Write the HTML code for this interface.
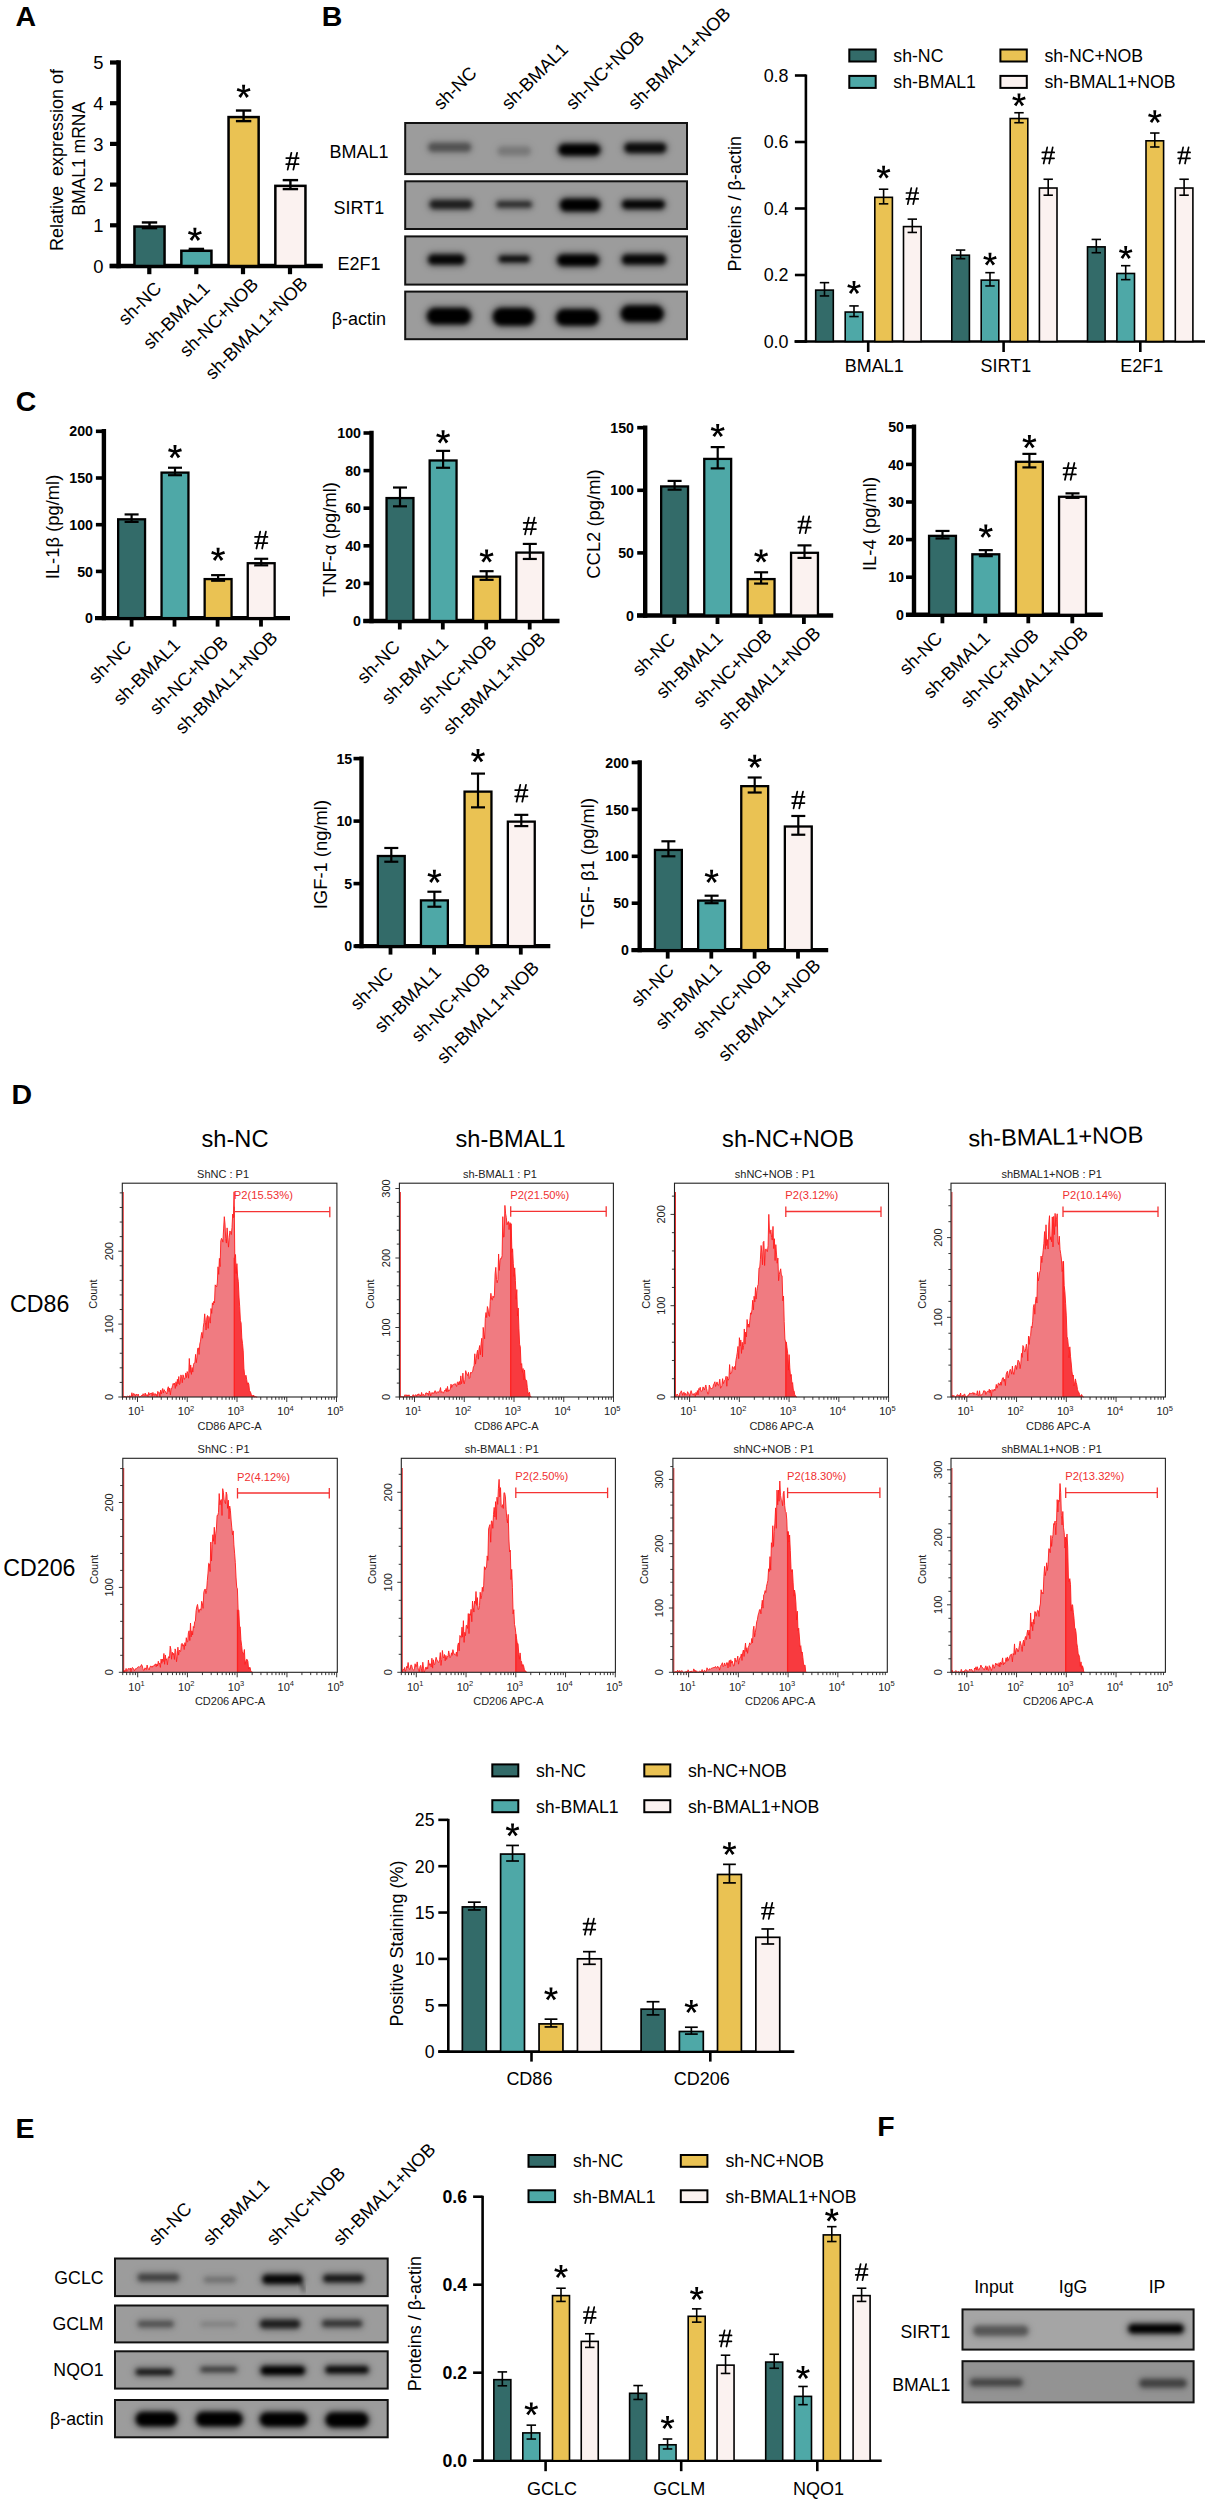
<!DOCTYPE html>
<html><head><meta charset="utf-8"><title>Figure</title><style>html,body{margin:0;padding:0;background:#fff;width:1208px;height:2500px;overflow:hidden;}svg{display:block;font-family:"Liberation Sans",sans-serif;}</style></head><body>
<svg width="1208" height="2500" viewBox="0 0 1208 2500" font-family="'Liberation Sans', sans-serif">
<rect width="1208" height="2500" fill="#fff"/>
<defs><filter id="b2" x="-30%" y="-80%" width="160%" height="260%"><feGaussianBlur stdDeviation="1.9"/></filter><filter id="b3" x="-30%" y="-80%" width="160%" height="260%"><feGaussianBlur stdDeviation="3"/></filter><filter id="bn" x="0" y="0" width="100%" height="100%"><feTurbulence type="fractalNoise" baseFrequency="0.08" numOctaves="2" seed="3"/><feColorMatrix values="0 0 0 0 0.5  0 0 0 0 0.5  0 0 0 0 0.5  0 0 0 0.18 0"/></filter></defs>
<text x="15.4" y="26.3" font-size="28.5" text-anchor="start" fill="#000" font-weight="bold" >A</text>
<line x1="118.6" y1="60.2" x2="118.6" y2="268.3" stroke="#000" stroke-width="4.6" />
<line x1="109.5" y1="266" x2="322.8" y2="266" stroke="#000" stroke-width="4.6" />
<line x1="110" y1="266" x2="118.6" y2="266" stroke="#000" stroke-width="4.2" />
<text x="103.6" y="272.6" font-size="18.4" text-anchor="end" fill="#000" >0</text>
<line x1="110" y1="225.3" x2="118.6" y2="225.3" stroke="#000" stroke-width="4.2" />
<text x="103.6" y="231.9" font-size="18.4" text-anchor="end" fill="#000" >1</text>
<line x1="110" y1="184.6" x2="118.6" y2="184.6" stroke="#000" stroke-width="4.2" />
<text x="103.6" y="191.2" font-size="18.4" text-anchor="end" fill="#000" >2</text>
<line x1="110" y1="143.9" x2="118.6" y2="143.9" stroke="#000" stroke-width="4.2" />
<text x="103.6" y="150.5" font-size="18.4" text-anchor="end" fill="#000" >3</text>
<line x1="110" y1="103.2" x2="118.6" y2="103.2" stroke="#000" stroke-width="4.2" />
<text x="103.6" y="109.8" font-size="18.4" text-anchor="end" fill="#000" >4</text>
<line x1="110" y1="62.5" x2="118.6" y2="62.5" stroke="#000" stroke-width="4.2" />
<text x="103.6" y="69.1" font-size="18.4" text-anchor="end" fill="#000" >5</text>
<rect x="134.45" y="226.55" width="30.1" height="39.45" fill="#336b69" stroke="#000" stroke-width="2.5" />
<line x1="149.5" y1="222.45" x2="149.5" y2="228.15" stroke="#000" stroke-width="2.4" />
<line x1="141.8" y1="222.45" x2="157.2" y2="222.45" stroke="#000" stroke-width="2.4" />
<line x1="141.8" y1="228.15" x2="157.2" y2="228.15" stroke="#000" stroke-width="2.4" />
<rect x="181.35" y="250.77" width="30.1" height="15.23" fill="#4ea8a7" stroke="#000" stroke-width="2.5" />
<line x1="196.4" y1="248.91" x2="196.4" y2="250.13" stroke="#000" stroke-width="2.4" />
<line x1="188.7" y1="248.91" x2="204.1" y2="248.91" stroke="#000" stroke-width="2.4" />
<line x1="188.7" y1="250.13" x2="204.1" y2="250.13" stroke="#000" stroke-width="2.4" />
<path d="M195.88,234.49L196.45,227.69L193.35,227.69L193.92,234.49ZM195.2,235.42L201.84,233.86L200.89,230.92L194.6,233.56ZM195.2,233.56L188.91,230.92L187.96,233.86L194.6,235.42ZM194.11,235.07L197.65,240.9L200.15,239.08L195.69,233.91ZM194.11,233.91L189.65,239.08L192.15,240.9L195.69,235.07Z" fill="#000"/>
<circle cx="194.9" cy="234.49" r="1.49" fill="#000"/>
<rect x="228.55" y="117.07" width="30.1" height="148.93" fill="#eac253" stroke="#000" stroke-width="2.5" />
<line x1="243.6" y1="110.53" x2="243.6" y2="121.11" stroke="#000" stroke-width="2.4" />
<line x1="235.9" y1="110.53" x2="251.3" y2="110.53" stroke="#000" stroke-width="2.4" />
<line x1="235.9" y1="121.11" x2="251.3" y2="121.11" stroke="#000" stroke-width="2.4" />
<path d="M244.58,91.49L245.15,84.69L242.05,84.69L242.62,91.49ZM243.9,92.42L250.54,90.86L249.59,87.92L243.3,90.56ZM243.9,90.56L237.61,87.92L236.66,90.86L243.3,92.42ZM242.81,92.07L246.35,97.9L248.85,96.08L244.39,90.91ZM242.81,90.91L238.35,96.08L240.85,97.9L244.39,92.07Z" fill="#000"/>
<circle cx="243.6" cy="91.49" r="1.49" fill="#000"/>
<rect x="275.35" y="185.85" width="30.1" height="80.15" fill="#fbf2f0" stroke="#000" stroke-width="2.5" />
<line x1="290.4" y1="180.12" x2="290.4" y2="189.08" stroke="#000" stroke-width="2.4" />
<line x1="282.7" y1="180.12" x2="298.1" y2="180.12" stroke="#000" stroke-width="2.4" />
<line x1="282.7" y1="189.08" x2="298.1" y2="189.08" stroke="#000" stroke-width="2.4" />
<path d="M291.39,152.8L287.66,169.6M297.1,152.8L293.35,169.6M286.25,158L298.65,158M286.25,164.2L298.55,164.2" stroke="#000" stroke-width="1.75" stroke-linecap="round" fill="none"/>
<line x1="149.3" y1="267.8" x2="149.3" y2="274.2" stroke="#000" stroke-width="4.2" />
<line x1="196.3" y1="267.8" x2="196.3" y2="274.2" stroke="#000" stroke-width="4.2" />
<line x1="243" y1="267.8" x2="243" y2="274.2" stroke="#000" stroke-width="4.2" />
<line x1="290" y1="267.8" x2="290" y2="274.2" stroke="#000" stroke-width="4.2" />
<text transform="translate(63.3,160) rotate(-90)" font-size="18" text-anchor="middle" fill="#000" >Relative&#160;&#160;expression of</text>
<text transform="translate(84.6,158.8) rotate(-90)" font-size="17.5" text-anchor="middle" fill="#000" >BMAL1 mRNA</text>
<text transform="translate(162.5,289.5) rotate(-45)" font-size="18.3" text-anchor="end" fill="#000" >sh-NC</text>
<text transform="translate(210.9,289.8) rotate(-45)" font-size="18.3" text-anchor="end" fill="#000" >sh-BMAL1</text>
<text transform="translate(259.3,285.7) rotate(-45)" font-size="18.3" text-anchor="end" fill="#000" >sh-NC+NOB</text>
<text transform="translate(308.6,284.5) rotate(-45)" font-size="18.3" text-anchor="end" fill="#000" >sh-BMAL1+NOB</text>
<text x="321.8" y="25.8" font-size="28.5" text-anchor="start" fill="#000" font-weight="bold" >B</text>
<rect x="405.2" y="123" width="281.8" height="51.1" fill="#9c9c9c" stroke="none" stroke-width="0" />
<g clip-path="url(#clipB122)">
<clipPath id="clipB122"><rect x="405" y="123" width="282" height="51.1"/></clipPath>
</g>
<rect x="405.2" y="181.3" width="281.8" height="47.7" fill="#9c9c9c" stroke="none" stroke-width="0" />
<g clip-path="url(#clipB180)">
<clipPath id="clipB180"><rect x="405" y="181.3" width="282" height="47.7"/></clipPath>
</g>
<rect x="405.2" y="236.4" width="281.8" height="48.2" fill="#9c9c9c" stroke="none" stroke-width="0" />
<g clip-path="url(#clipB235)">
<clipPath id="clipB235"><rect x="405" y="236.4" width="282" height="48.2"/></clipPath>
</g>
<rect x="405.2" y="291.6" width="281.8" height="47.6" fill="#9c9c9c" stroke="none" stroke-width="0" />
<g clip-path="url(#clipB290)">
<clipPath id="clipB290"><rect x="405" y="291.6" width="282" height="47.6"/></clipPath>
</g>
<rect x="425.35" y="139.8" width="48.7" height="15" rx="7.5" fill="#000" fill-opacity="0.12" filter="url(#b3)"/>
<rect x="428.35" y="142.8" width="42.7" height="9" rx="4.5" fill="#000" fill-opacity="0.4" filter="url(#b2)"/>
<rect x="494.7" y="143.5" width="39" height="15" rx="7.5" fill="#000" fill-opacity="0.05" filter="url(#b3)"/>
<rect x="497.7" y="146.5" width="33" height="9" rx="4.5" fill="#000" fill-opacity="0.18" filter="url(#b2)"/>
<rect x="555.65" y="141.1" width="47.5" height="17.4" rx="8.7" fill="#000" fill-opacity="0.3" filter="url(#b3)"/>
<rect x="558.65" y="144.1" width="41.5" height="11.4" rx="5.7" fill="#000" fill-opacity="1" filter="url(#b2)"/>
<rect x="621.55" y="139.9" width="47.5" height="16" rx="8" fill="#000" fill-opacity="0.27" filter="url(#b3)"/>
<rect x="624.55" y="142.9" width="41.5" height="10" rx="5" fill="#000" fill-opacity="0.9" filter="url(#b2)"/>
<rect x="426.65" y="196.9" width="48.7" height="15" rx="7.5" fill="#000" fill-opacity="0.22" filter="url(#b3)"/>
<rect x="429.65" y="199.9" width="42.7" height="9" rx="4.5" fill="#000" fill-opacity="0.75" filter="url(#b2)"/>
<rect x="493.7" y="198.2" width="41" height="12.4" rx="6.2" fill="#000" fill-opacity="0.2" filter="url(#b3)"/>
<rect x="496.7" y="201.2" width="35" height="6.4" rx="3.2" fill="#000" fill-opacity="0.65" filter="url(#b2)"/>
<rect x="557" y="195.7" width="46" height="18.6" rx="9.3" fill="#000" fill-opacity="0.3" filter="url(#b3)"/>
<rect x="560" y="198.7" width="40" height="12.6" rx="6.3" fill="#000" fill-opacity="1" filter="url(#b2)"/>
<rect x="619.05" y="196.9" width="48.7" height="15" rx="7.5" fill="#000" fill-opacity="0.28" filter="url(#b3)"/>
<rect x="622.05" y="199.9" width="42.7" height="9" rx="4.5" fill="#000" fill-opacity="0.95" filter="url(#b2)"/>
<rect x="425.25" y="251.6" width="42.5" height="16" rx="8" fill="#000" fill-opacity="0.28" filter="url(#b3)"/>
<rect x="428.25" y="254.6" width="36.5" height="10" rx="5" fill="#000" fill-opacity="0.95" filter="url(#b2)"/>
<rect x="496" y="252.75" width="36.4" height="12.5" rx="6.25" fill="#000" fill-opacity="0.27" filter="url(#b3)"/>
<rect x="499" y="255.75" width="30.4" height="6.5" rx="3.25" fill="#000" fill-opacity="0.9" filter="url(#b2)"/>
<rect x="554.35" y="251.45" width="47.5" height="17.5" rx="8.75" fill="#000" fill-opacity="0.3" filter="url(#b3)"/>
<rect x="557.35" y="254.45" width="41.5" height="11.5" rx="5.75" fill="#000" fill-opacity="1" filter="url(#b2)"/>
<rect x="619" y="251.6" width="50" height="16" rx="8" fill="#000" fill-opacity="0.28" filter="url(#b3)"/>
<rect x="622" y="254.6" width="44" height="10" rx="5" fill="#000" fill-opacity="0.95" filter="url(#b2)"/>
<rect x="424" y="305.05" width="50" height="22.3" rx="11.15" fill="#000" fill-opacity="0.3" filter="url(#b3)"/>
<rect x="427" y="308.05" width="44" height="16.3" rx="8.15" fill="#000" fill-opacity="1" filter="url(#b2)"/>
<rect x="489.9" y="305.05" width="47.4" height="23.5" rx="11.75" fill="#000" fill-opacity="0.3" filter="url(#b3)"/>
<rect x="492.9" y="308.05" width="41.4" height="17.5" rx="8.75" fill="#000" fill-opacity="1" filter="url(#b2)"/>
<rect x="553.15" y="306.25" width="48.7" height="22.3" rx="11.15" fill="#000" fill-opacity="0.3" filter="url(#b3)"/>
<rect x="556.15" y="309.25" width="42.7" height="16.3" rx="8.15" fill="#000" fill-opacity="1" filter="url(#b2)"/>
<rect x="617.85" y="302.55" width="48.7" height="22.3" rx="11.15" fill="#000" fill-opacity="0.3" filter="url(#b3)"/>
<rect x="620.85" y="305.55" width="42.7" height="16.3" rx="8.15" fill="#000" fill-opacity="1" filter="url(#b2)"/>
<rect x="405.2" y="123" width="281.8" height="51.1" fill="none" stroke="#111" stroke-width="2" />
<rect x="405.2" y="181.3" width="281.8" height="47.7" fill="none" stroke="#111" stroke-width="2" />
<rect x="405.2" y="236.4" width="281.8" height="48.2" fill="none" stroke="#111" stroke-width="2" />
<rect x="405.2" y="291.6" width="281.8" height="47.6" fill="none" stroke="#111" stroke-width="2" />
<text x="358.9" y="157.75" font-size="18" text-anchor="middle" fill="#000" >BMAL1</text>
<text x="358.9" y="214.35" font-size="18" text-anchor="middle" fill="#000" >SIRT1</text>
<text x="358.9" y="269.7" font-size="18" text-anchor="middle" fill="#000" >E2F1</text>
<text x="358.9" y="324.6" font-size="18" text-anchor="middle" fill="#000" >&#946;-actin</text>
<text transform="translate(441.1,110.8) rotate(-45)" font-size="18.3" text-anchor="start" fill="#000" >sh-NC</text>
<text transform="translate(508.9,110.8) rotate(-45)" font-size="18.3" text-anchor="start" fill="#000" >sh-BMAL1</text>
<text transform="translate(573.2,110.8) rotate(-45)" font-size="18.3" text-anchor="start" fill="#000" >sh-NC+NOB</text>
<text transform="translate(635.6,110.8) rotate(-45)" font-size="18.3" text-anchor="start" fill="#000" >sh-BMAL1+NOB</text>
<line x1="805.9" y1="74.5" x2="805.9" y2="342.8" stroke="#000" stroke-width="2.6" />
<line x1="794.5" y1="341.5" x2="1205" y2="341.5" stroke="#000" stroke-width="2.6" />
<line x1="794.9" y1="341.5" x2="805.9" y2="341.5" stroke="#000" stroke-width="2.6" />
<text x="788.5" y="347.8" font-size="17.9" text-anchor="end" fill="#000" >0.0</text>
<line x1="794.9" y1="275" x2="805.9" y2="275" stroke="#000" stroke-width="2.6" />
<text x="788.5" y="281.3" font-size="17.9" text-anchor="end" fill="#000" >0.2</text>
<line x1="794.9" y1="208.5" x2="805.9" y2="208.5" stroke="#000" stroke-width="2.6" />
<text x="788.5" y="214.8" font-size="17.9" text-anchor="end" fill="#000" >0.4</text>
<line x1="794.9" y1="142" x2="805.9" y2="142" stroke="#000" stroke-width="2.6" />
<text x="788.5" y="148.3" font-size="17.9" text-anchor="end" fill="#000" >0.6</text>
<line x1="794.9" y1="75.5" x2="805.9" y2="75.5" stroke="#000" stroke-width="2.6" />
<text x="788.5" y="81.8" font-size="17.9" text-anchor="end" fill="#000" >0.8</text>
<rect x="815.7" y="290.1" width="17.6" height="51.4" fill="#336b69" stroke="#000" stroke-width="1.6" />
<line x1="824.5" y1="282.65" x2="824.5" y2="295.95" stroke="#000" stroke-width="1.6" />
<line x1="819.8" y1="282.65" x2="829.2" y2="282.65" stroke="#000" stroke-width="1.6" />
<line x1="819.8" y1="295.95" x2="829.2" y2="295.95" stroke="#000" stroke-width="1.6" />
<rect x="845.2" y="312.04" width="17.6" height="29.46" fill="#4ea8a7" stroke="#000" stroke-width="1.6" />
<line x1="854" y1="305.92" x2="854" y2="316.56" stroke="#000" stroke-width="1.6" />
<line x1="849.3" y1="305.92" x2="858.7" y2="305.92" stroke="#000" stroke-width="1.6" />
<line x1="849.3" y1="316.56" x2="858.7" y2="316.56" stroke="#000" stroke-width="1.6" />
<path d="M854.95,287.68L855.5,281.08L852.5,281.08L853.05,287.68ZM854.29,288.58L860.74,287.07L859.81,284.21L853.71,286.78ZM854.29,286.78L848.19,284.21L847.26,287.07L853.71,288.58ZM853.23,288.24L856.67,293.9L859.09,292.14L854.77,287.12ZM853.23,287.12L848.91,292.14L851.33,293.9L854.77,288.24Z" fill="#000"/>
<circle cx="854" cy="287.68" r="1.45" fill="#000"/>
<rect x="874.8" y="197.33" width="17.6" height="144.17" fill="#eac253" stroke="#000" stroke-width="1.6" />
<line x1="883.6" y1="189.22" x2="883.6" y2="203.84" stroke="#000" stroke-width="1.6" />
<line x1="878.9" y1="189.22" x2="888.3" y2="189.22" stroke="#000" stroke-width="1.6" />
<line x1="878.9" y1="203.84" x2="888.3" y2="203.84" stroke="#000" stroke-width="1.6" />
<path d="M884.55,172.28L885.1,165.68L882.1,165.68L882.65,172.28ZM883.89,173.18L890.34,171.67L889.41,168.81L883.31,171.38ZM883.89,171.38L877.79,168.81L876.86,171.67L883.31,173.18ZM882.83,172.84L886.27,178.5L888.69,176.74L884.37,171.72ZM882.83,171.72L878.51,176.74L880.93,178.5L884.37,172.84Z" fill="#000"/>
<circle cx="883.6" cy="172.28" r="1.45" fill="#000"/>
<rect x="903.5" y="226.59" width="17.6" height="114.91" fill="#fbf2f0" stroke="#000" stroke-width="1.6" />
<line x1="912.3" y1="219.14" x2="912.3" y2="232.44" stroke="#000" stroke-width="1.6" />
<line x1="907.6" y1="219.14" x2="917" y2="219.14" stroke="#000" stroke-width="1.6" />
<line x1="907.6" y1="232.44" x2="917" y2="232.44" stroke="#000" stroke-width="1.6" />
<path d="M911.33,187.98L907.74,204.13M916.82,187.98L913.21,204.13M906.39,192.98L918.31,192.98M906.39,198.94L918.21,198.94" stroke="#000" stroke-width="1.68" stroke-linecap="round" fill="none"/>
<rect x="951.8" y="255.19" width="17.6" height="86.32" fill="#336b69" stroke="#000" stroke-width="1.6" />
<line x1="960.6" y1="250.06" x2="960.6" y2="258.71" stroke="#000" stroke-width="1.6" />
<line x1="955.9" y1="250.06" x2="965.3" y2="250.06" stroke="#000" stroke-width="1.6" />
<line x1="955.9" y1="258.71" x2="965.3" y2="258.71" stroke="#000" stroke-width="1.6" />
<rect x="981.2" y="280.12" width="17.6" height="61.38" fill="#4ea8a7" stroke="#000" stroke-width="1.6" />
<line x1="990" y1="272.67" x2="990" y2="285.97" stroke="#000" stroke-width="1.6" />
<line x1="985.3" y1="272.67" x2="994.7" y2="272.67" stroke="#000" stroke-width="1.6" />
<line x1="985.3" y1="285.97" x2="994.7" y2="285.97" stroke="#000" stroke-width="1.6" />
<path d="M990.95,259.38L991.5,252.78L988.5,252.78L989.05,259.38ZM990.29,260.28L996.74,258.77L995.81,255.91L989.71,258.48ZM990.29,258.48L984.19,255.91L983.26,258.77L989.71,260.28ZM989.23,259.94L992.67,265.6L995.09,263.84L990.77,258.82ZM989.23,258.82L984.91,263.84L987.33,265.6L990.77,259.94Z" fill="#000"/>
<circle cx="990" cy="259.38" r="1.45" fill="#000"/>
<rect x="1010.2" y="118.53" width="17.6" height="222.97" fill="#eac253" stroke="#000" stroke-width="1.6" />
<line x1="1019" y1="112.74" x2="1019" y2="122.72" stroke="#000" stroke-width="1.6" />
<line x1="1014.3" y1="112.74" x2="1023.7" y2="112.74" stroke="#000" stroke-width="1.6" />
<line x1="1014.3" y1="122.72" x2="1023.7" y2="122.72" stroke="#000" stroke-width="1.6" />
<path d="M1019.95,99.98L1020.5,93.38L1017.5,93.38L1018.05,99.98ZM1019.29,100.88L1025.74,99.37L1024.81,96.51L1018.71,99.08ZM1019.29,99.08L1013.19,96.51L1012.26,99.37L1018.71,100.88ZM1018.23,100.54L1021.67,106.2L1024.09,104.44L1019.77,99.42ZM1018.23,99.42L1013.91,104.44L1016.33,106.2L1019.77,100.54Z" fill="#000"/>
<circle cx="1019" cy="99.98" r="1.45" fill="#000"/>
<rect x="1039.4" y="188.02" width="17.6" height="153.48" fill="#fbf2f0" stroke="#000" stroke-width="1.6" />
<line x1="1048.2" y1="179.24" x2="1048.2" y2="195.2" stroke="#000" stroke-width="1.6" />
<line x1="1043.5" y1="179.24" x2="1052.9" y2="179.24" stroke="#000" stroke-width="1.6" />
<line x1="1043.5" y1="195.2" x2="1052.9" y2="195.2" stroke="#000" stroke-width="1.6" />
<path d="M1047.23,147.38L1043.64,163.53M1052.72,147.38L1049.11,163.53M1042.29,152.38L1054.21,152.38M1042.29,158.34L1054.11,158.34" stroke="#000" stroke-width="1.68" stroke-linecap="round" fill="none"/>
<rect x="1087.5" y="246.87" width="17.6" height="94.63" fill="#336b69" stroke="#000" stroke-width="1.6" />
<line x1="1096.3" y1="239.42" x2="1096.3" y2="252.72" stroke="#000" stroke-width="1.6" />
<line x1="1091.6" y1="239.42" x2="1101" y2="239.42" stroke="#000" stroke-width="1.6" />
<line x1="1091.6" y1="252.72" x2="1101" y2="252.72" stroke="#000" stroke-width="1.6" />
<rect x="1116.9" y="273.47" width="17.6" height="68.03" fill="#4ea8a7" stroke="#000" stroke-width="1.6" />
<line x1="1125.7" y1="265.69" x2="1125.7" y2="279.65" stroke="#000" stroke-width="1.6" />
<line x1="1121" y1="265.69" x2="1130.4" y2="265.69" stroke="#000" stroke-width="1.6" />
<line x1="1121" y1="279.65" x2="1130.4" y2="279.65" stroke="#000" stroke-width="1.6" />
<path d="M1126.65,252.68L1127.2,246.08L1124.2,246.08L1124.75,252.68ZM1125.99,253.58L1132.44,252.07L1131.51,249.21L1125.41,251.78ZM1125.99,251.78L1119.89,249.21L1118.96,252.07L1125.41,253.58ZM1124.93,253.24L1128.37,258.9L1130.79,257.14L1126.47,252.12ZM1124.93,252.12L1120.61,257.14L1123.03,258.9L1126.47,253.24Z" fill="#000"/>
<circle cx="1125.7" cy="252.68" r="1.45" fill="#000"/>
<rect x="1146" y="140.81" width="17.6" height="200.69" fill="#eac253" stroke="#000" stroke-width="1.6" />
<line x1="1154.8" y1="133.02" x2="1154.8" y2="146.99" stroke="#000" stroke-width="1.6" />
<line x1="1150.1" y1="133.02" x2="1159.5" y2="133.02" stroke="#000" stroke-width="1.6" />
<line x1="1150.1" y1="146.99" x2="1159.5" y2="146.99" stroke="#000" stroke-width="1.6" />
<path d="M1155.75,116.88L1156.3,110.28L1153.3,110.28L1153.85,116.88ZM1155.09,117.78L1161.54,116.27L1160.61,113.41L1154.51,115.98ZM1155.09,115.98L1148.99,113.41L1148.06,116.27L1154.51,117.78ZM1154.03,117.44L1157.47,123.1L1159.89,121.34L1155.57,116.32ZM1154.03,116.32L1149.71,121.34L1152.13,123.1L1155.57,117.44Z" fill="#000"/>
<circle cx="1154.8" cy="116.88" r="1.45" fill="#000"/>
<rect x="1175.3" y="188.02" width="17.6" height="153.48" fill="#fbf2f0" stroke="#000" stroke-width="1.6" />
<line x1="1184.1" y1="179.24" x2="1184.1" y2="195.2" stroke="#000" stroke-width="1.6" />
<line x1="1179.4" y1="179.24" x2="1188.8" y2="179.24" stroke="#000" stroke-width="1.6" />
<line x1="1179.4" y1="195.2" x2="1188.8" y2="195.2" stroke="#000" stroke-width="1.6" />
<path d="M1183.13,147.38L1179.54,163.53M1188.62,147.38L1185.01,163.53M1178.19,152.38L1190.11,152.38M1178.19,158.34L1190.01,158.34" stroke="#000" stroke-width="1.68" stroke-linecap="round" fill="none"/>
<line x1="868.2" y1="341.5" x2="868.2" y2="352" stroke="#000" stroke-width="2.6" />
<text x="874.3" y="371.7" font-size="18" text-anchor="middle" fill="#000" >BMAL1</text>
<line x1="1003.6" y1="341.5" x2="1003.6" y2="352" stroke="#000" stroke-width="2.6" />
<text x="1005.9" y="371.7" font-size="18" text-anchor="middle" fill="#000" >SIRT1</text>
<line x1="1140.3" y1="341.5" x2="1140.3" y2="352" stroke="#000" stroke-width="2.6" />
<text x="1141.8" y="371.7" font-size="18" text-anchor="middle" fill="#000" >E2F1</text>
<text transform="translate(741.2,203.8) rotate(-90)" font-size="18" text-anchor="middle" fill="#000" >Proteins / &#946;-actin</text>
<rect x="849.3" y="49.5" width="26.4" height="12" fill="#336b69" stroke="#000" stroke-width="2" />
<text x="893.3" y="61.87" font-size="17.7" text-anchor="start" fill="#000" >sh-NC</text>
<rect x="849.3" y="75.9" width="26.4" height="12" fill="#4ea8a7" stroke="#000" stroke-width="2" />
<text x="893.3" y="88.27" font-size="17.7" text-anchor="start" fill="#000" >sh-BMAL1</text>
<rect x="1000.4" y="49.5" width="26.4" height="12" fill="#eac253" stroke="#000" stroke-width="2" />
<text x="1044.4" y="61.87" font-size="17.7" text-anchor="start" fill="#000" >sh-NC+NOB</text>
<rect x="1000.4" y="75.9" width="26.4" height="12" fill="#fbf2f0" stroke="#000" stroke-width="2" />
<text x="1044.4" y="88.27" font-size="17.7" text-anchor="start" fill="#000" >sh-BMAL1+NOB</text>
<text x="15.7" y="410.8" font-size="28.5" text-anchor="start" fill="#000" font-weight="bold" >C</text>
<line x1="103.9" y1="429.1" x2="103.9" y2="620.3" stroke="#000" stroke-width="4.4" />
<line x1="95" y1="618.1" x2="290" y2="618.1" stroke="#000" stroke-width="4.4" />
<line x1="95.9" y1="618.1" x2="103.9" y2="618.1" stroke="#000" stroke-width="3.6" />
<text x="93" y="623.21" font-size="14.2" text-anchor="end" fill="#000" font-weight="bold" >0</text>
<line x1="95.9" y1="571.4" x2="103.9" y2="571.4" stroke="#000" stroke-width="3.6" />
<text x="93" y="576.51" font-size="14.2" text-anchor="end" fill="#000" font-weight="bold" >50</text>
<line x1="95.9" y1="524.7" x2="103.9" y2="524.7" stroke="#000" stroke-width="3.6" />
<text x="93" y="529.81" font-size="14.2" text-anchor="end" fill="#000" font-weight="bold" >100</text>
<line x1="95.9" y1="478" x2="103.9" y2="478" stroke="#000" stroke-width="3.6" />
<text x="93" y="483.11" font-size="14.2" text-anchor="end" fill="#000" font-weight="bold" >150</text>
<line x1="95.9" y1="431.3" x2="103.9" y2="431.3" stroke="#000" stroke-width="3.6" />
<text x="93" y="436.41" font-size="14.2" text-anchor="end" fill="#000" font-weight="bold" >200</text>
<rect x="118.15" y="519.31" width="26.9" height="98.79" fill="#336b69" stroke="#000" stroke-width="2.3" />
<line x1="131.6" y1="514.43" x2="131.6" y2="521.9" stroke="#000" stroke-width="2.2" />
<line x1="124.6" y1="514.43" x2="138.6" y2="514.43" stroke="#000" stroke-width="2.2" />
<line x1="124.6" y1="521.9" x2="138.6" y2="521.9" stroke="#000" stroke-width="2.2" />
<rect x="161.55" y="472.61" width="26.9" height="145.49" fill="#4ea8a7" stroke="#000" stroke-width="2.3" />
<line x1="175" y1="467.73" x2="175" y2="475.2" stroke="#000" stroke-width="2.2" />
<line x1="168" y1="467.73" x2="182" y2="467.73" stroke="#000" stroke-width="2.2" />
<line x1="168" y1="475.2" x2="182" y2="475.2" stroke="#000" stroke-width="2.2" />
<path d="M175.98,451.79L176.55,444.99L173.45,444.99L174.02,451.79ZM175.3,452.72L181.94,451.16L180.99,448.22L174.7,450.86ZM175.3,450.86L169.01,448.22L168.06,451.16L174.7,452.72ZM174.21,452.37L177.75,458.2L180.25,456.38L175.79,451.21ZM174.21,451.21L169.75,456.38L172.25,458.2L175.79,452.37Z" fill="#000"/>
<circle cx="175" cy="451.79" r="1.49" fill="#000"/>
<rect x="204.65" y="579.09" width="26.9" height="39.01" fill="#eac253" stroke="#000" stroke-width="2.3" />
<line x1="218.1" y1="575.14" x2="218.1" y2="580.74" stroke="#000" stroke-width="2.2" />
<line x1="211.1" y1="575.14" x2="225.1" y2="575.14" stroke="#000" stroke-width="2.2" />
<line x1="211.1" y1="580.74" x2="225.1" y2="580.74" stroke="#000" stroke-width="2.2" />
<path d="M219.08,554.49L219.65,547.69L216.55,547.69L217.12,554.49ZM218.4,555.42L225.04,553.86L224.09,550.92L217.8,553.56ZM218.4,553.56L212.11,550.92L211.16,553.86L217.8,555.42ZM217.31,555.07L220.85,560.9L223.35,559.08L218.89,553.91ZM217.31,553.91L212.85,559.08L215.35,560.9L218.89,555.07Z" fill="#000"/>
<circle cx="218.1" cy="554.49" r="1.49" fill="#000"/>
<rect x="247.75" y="563.21" width="26.9" height="54.89" fill="#fbf2f0" stroke="#000" stroke-width="2.3" />
<line x1="261.2" y1="558.79" x2="261.2" y2="565.33" stroke="#000" stroke-width="2.2" />
<line x1="254.2" y1="558.79" x2="268.2" y2="558.79" stroke="#000" stroke-width="2.2" />
<line x1="254.2" y1="565.33" x2="268.2" y2="565.33" stroke="#000" stroke-width="2.2" />
<path d="M260.19,531.7L256.46,548.5M265.9,531.7L262.15,548.5M255.05,536.9L267.45,536.9M255.05,543.1L267.35,543.1" stroke="#000" stroke-width="1.75" stroke-linecap="round" fill="none"/>
<line x1="131.6" y1="619.8" x2="131.6" y2="626.6" stroke="#000" stroke-width="3.8" />
<line x1="174.5" y1="619.8" x2="174.5" y2="626.6" stroke="#000" stroke-width="3.8" />
<line x1="217.6" y1="619.8" x2="217.6" y2="626.6" stroke="#000" stroke-width="3.8" />
<line x1="261" y1="619.8" x2="261" y2="626.6" stroke="#000" stroke-width="3.8" />
<text transform="translate(59,527) rotate(-90)" font-size="18.4" text-anchor="middle" fill="#000" >IL-1&#946; (pg/ml)</text>
<text transform="translate(132.6,648) rotate(-45)" font-size="18.3" text-anchor="end" fill="#000" >sh-NC</text>
<text transform="translate(181.2,646) rotate(-45)" font-size="18.3" text-anchor="end" fill="#000" >sh-BMAL1</text>
<text transform="translate(229.2,643.5) rotate(-45)" font-size="18.3" text-anchor="end" fill="#000" >sh-NC+NOB</text>
<text transform="translate(278.7,639) rotate(-45)" font-size="18.3" text-anchor="end" fill="#000" >sh-BMAL1+NOB</text>
<line x1="371.5" y1="430.8" x2="371.5" y2="623.2" stroke="#000" stroke-width="4.4" />
<line x1="363.3" y1="621" x2="559.5" y2="621" stroke="#000" stroke-width="4.4" />
<line x1="363.5" y1="621" x2="371.5" y2="621" stroke="#000" stroke-width="3.6" />
<text x="361" y="626.11" font-size="14.2" text-anchor="end" fill="#000" font-weight="bold" >0</text>
<line x1="363.5" y1="583.4" x2="371.5" y2="583.4" stroke="#000" stroke-width="3.6" />
<text x="361" y="588.51" font-size="14.2" text-anchor="end" fill="#000" font-weight="bold" >20</text>
<line x1="363.5" y1="545.8" x2="371.5" y2="545.8" stroke="#000" stroke-width="3.6" />
<text x="361" y="550.91" font-size="14.2" text-anchor="end" fill="#000" font-weight="bold" >40</text>
<line x1="363.5" y1="508.2" x2="371.5" y2="508.2" stroke="#000" stroke-width="3.6" />
<text x="361" y="513.31" font-size="14.2" text-anchor="end" fill="#000" font-weight="bold" >60</text>
<line x1="363.5" y1="470.6" x2="371.5" y2="470.6" stroke="#000" stroke-width="3.6" />
<text x="361" y="475.71" font-size="14.2" text-anchor="end" fill="#000" font-weight="bold" >80</text>
<line x1="363.5" y1="433" x2="371.5" y2="433" stroke="#000" stroke-width="3.6" />
<text x="361" y="438.11" font-size="14.2" text-anchor="end" fill="#000" font-weight="bold" >100</text>
<rect x="386.55" y="498.07" width="26.9" height="122.93" fill="#336b69" stroke="#000" stroke-width="2.3" />
<line x1="400" y1="487.52" x2="400" y2="506.32" stroke="#000" stroke-width="2.2" />
<line x1="393" y1="487.52" x2="407" y2="487.52" stroke="#000" stroke-width="2.2" />
<line x1="393" y1="506.32" x2="407" y2="506.32" stroke="#000" stroke-width="2.2" />
<rect x="429.65" y="460.47" width="26.9" height="160.53" fill="#4ea8a7" stroke="#000" stroke-width="2.3" />
<line x1="443.1" y1="450.86" x2="443.1" y2="467.78" stroke="#000" stroke-width="2.2" />
<line x1="436.1" y1="450.86" x2="450.1" y2="450.86" stroke="#000" stroke-width="2.2" />
<line x1="436.1" y1="467.78" x2="450.1" y2="467.78" stroke="#000" stroke-width="2.2" />
<path d="M444.08,436.99L444.65,430.19L441.55,430.19L442.12,436.99ZM443.4,437.92L450.04,436.36L449.09,433.42L442.8,436.06ZM443.4,436.06L437.11,433.42L436.16,436.36L442.8,437.92ZM442.31,437.57L445.85,443.4L448.35,441.58L443.89,436.41ZM442.31,436.41L437.85,441.58L440.35,443.4L443.89,437.57Z" fill="#000"/>
<circle cx="443.1" cy="436.99" r="1.49" fill="#000"/>
<rect x="473.15" y="576.65" width="26.9" height="44.35" fill="#eac253" stroke="#000" stroke-width="2.3" />
<line x1="486.6" y1="571.18" x2="486.6" y2="579.83" stroke="#000" stroke-width="2.2" />
<line x1="479.6" y1="571.18" x2="493.6" y2="571.18" stroke="#000" stroke-width="2.2" />
<line x1="479.6" y1="579.83" x2="493.6" y2="579.83" stroke="#000" stroke-width="2.2" />
<path d="M487.58,556.19L488.15,549.39L485.05,549.39L485.62,556.19ZM486.9,557.12L493.54,555.56L492.59,552.62L486.3,555.26ZM486.9,555.26L480.61,552.62L479.66,555.56L486.3,557.12ZM485.81,556.77L489.35,562.6L491.85,560.78L487.39,555.61ZM485.81,555.61L481.35,560.78L483.85,562.6L487.39,556.77Z" fill="#000"/>
<circle cx="486.6" cy="556.19" r="1.49" fill="#000"/>
<rect x="516.35" y="552.59" width="26.9" height="68.41" fill="#fbf2f0" stroke="#000" stroke-width="2.3" />
<line x1="529.8" y1="543.92" x2="529.8" y2="558.96" stroke="#000" stroke-width="2.2" />
<line x1="522.8" y1="543.92" x2="536.8" y2="543.92" stroke="#000" stroke-width="2.2" />
<line x1="522.8" y1="558.96" x2="536.8" y2="558.96" stroke="#000" stroke-width="2.2" />
<path d="M528.79,517.6L525.06,534.4M534.5,517.6L530.75,534.4M523.65,522.8L536.05,522.8M523.65,529L535.95,529" stroke="#000" stroke-width="1.75" stroke-linecap="round" fill="none"/>
<line x1="399.8" y1="622.7" x2="399.8" y2="629.5" stroke="#000" stroke-width="3.8" />
<line x1="442.8" y1="622.7" x2="442.8" y2="629.5" stroke="#000" stroke-width="3.8" />
<line x1="486.2" y1="622.7" x2="486.2" y2="629.5" stroke="#000" stroke-width="3.8" />
<line x1="529.7" y1="622.7" x2="529.7" y2="629.5" stroke="#000" stroke-width="3.8" />
<text transform="translate(335.9,539.5) rotate(-90)" font-size="18.4" text-anchor="middle" fill="#000" >TNF-&#945; (pg/ml)</text>
<text transform="translate(401.2,648) rotate(-45)" font-size="18.3" text-anchor="end" fill="#000" >sh-NC</text>
<text transform="translate(449.4,645.1) rotate(-45)" font-size="18.3" text-anchor="end" fill="#000" >sh-BMAL1</text>
<text transform="translate(497.7,643) rotate(-45)" font-size="18.3" text-anchor="end" fill="#000" >sh-NC+NOB</text>
<text transform="translate(546.5,639.8) rotate(-45)" font-size="18.3" text-anchor="end" fill="#000" >sh-BMAL1+NOB</text>
<line x1="645.2" y1="425.5" x2="645.2" y2="617.7" stroke="#000" stroke-width="4.4" />
<line x1="637" y1="615.5" x2="833.2" y2="615.5" stroke="#000" stroke-width="4.4" />
<line x1="637.2" y1="615.5" x2="645.2" y2="615.5" stroke="#000" stroke-width="3.6" />
<text x="634" y="620.61" font-size="14.2" text-anchor="end" fill="#000" font-weight="bold" >0</text>
<line x1="637.2" y1="552.9" x2="645.2" y2="552.9" stroke="#000" stroke-width="3.6" />
<text x="634" y="558.01" font-size="14.2" text-anchor="end" fill="#000" font-weight="bold" >50</text>
<line x1="637.2" y1="490.3" x2="645.2" y2="490.3" stroke="#000" stroke-width="3.6" />
<text x="634" y="495.41" font-size="14.2" text-anchor="end" fill="#000" font-weight="bold" >100</text>
<line x1="637.2" y1="427.7" x2="645.2" y2="427.7" stroke="#000" stroke-width="3.6" />
<text x="634" y="432.81" font-size="14.2" text-anchor="end" fill="#000" font-weight="bold" >150</text>
<rect x="661.15" y="486.44" width="26.9" height="129.06" fill="#336b69" stroke="#000" stroke-width="2.3" />
<line x1="674.6" y1="480.91" x2="674.6" y2="489.67" stroke="#000" stroke-width="2.2" />
<line x1="667.6" y1="480.91" x2="681.6" y2="480.91" stroke="#000" stroke-width="2.2" />
<line x1="667.6" y1="489.67" x2="681.6" y2="489.67" stroke="#000" stroke-width="2.2" />
<rect x="704.25" y="458.9" width="26.9" height="156.6" fill="#4ea8a7" stroke="#000" stroke-width="2.3" />
<line x1="717.7" y1="447.11" x2="717.7" y2="468.39" stroke="#000" stroke-width="2.2" />
<line x1="710.7" y1="447.11" x2="724.7" y2="447.11" stroke="#000" stroke-width="2.2" />
<line x1="710.7" y1="468.39" x2="724.7" y2="468.39" stroke="#000" stroke-width="2.2" />
<path d="M718.68,430.69L719.25,423.89L716.15,423.89L716.72,430.69ZM718,431.62L724.64,430.06L723.69,427.12L717.4,429.76ZM718,429.76L711.71,427.12L710.76,430.06L717.4,431.62ZM716.91,431.27L720.45,437.1L722.95,435.28L718.49,430.11ZM716.91,430.11L712.45,435.28L714.95,437.1L718.49,431.27Z" fill="#000"/>
<circle cx="717.7" cy="430.69" r="1.49" fill="#000"/>
<rect x="747.65" y="579.09" width="26.9" height="36.41" fill="#eac253" stroke="#000" stroke-width="2.3" />
<line x1="761.1" y1="572.31" x2="761.1" y2="583.57" stroke="#000" stroke-width="2.2" />
<line x1="754.1" y1="572.31" x2="768.1" y2="572.31" stroke="#000" stroke-width="2.2" />
<line x1="754.1" y1="583.57" x2="768.1" y2="583.57" stroke="#000" stroke-width="2.2" />
<path d="M762.08,556.19L762.65,549.39L759.55,549.39L760.12,556.19ZM761.4,557.12L768.04,555.56L767.09,552.62L760.8,555.26ZM761.4,555.26L755.11,552.62L754.16,555.56L760.8,557.12ZM760.31,556.77L763.85,562.6L766.35,560.78L761.89,555.61ZM760.31,555.61L755.85,560.78L758.35,562.6L761.89,556.77Z" fill="#000"/>
<circle cx="761.1" cy="556.19" r="1.49" fill="#000"/>
<rect x="791.05" y="552.8" width="26.9" height="62.7" fill="#fbf2f0" stroke="#000" stroke-width="2.3" />
<line x1="804.5" y1="545.39" x2="804.5" y2="557.91" stroke="#000" stroke-width="2.2" />
<line x1="797.5" y1="545.39" x2="811.5" y2="545.39" stroke="#000" stroke-width="2.2" />
<line x1="797.5" y1="557.91" x2="811.5" y2="557.91" stroke="#000" stroke-width="2.2" />
<path d="M803.49,516.3L799.76,533.1M809.2,516.3L805.45,533.1M798.35,521.5L810.75,521.5M798.35,527.7L810.65,527.7" stroke="#000" stroke-width="1.75" stroke-linecap="round" fill="none"/>
<line x1="674.3" y1="617.2" x2="674.3" y2="624" stroke="#000" stroke-width="3.8" />
<line x1="717.5" y1="617.2" x2="717.5" y2="624" stroke="#000" stroke-width="3.8" />
<line x1="760.7" y1="617.2" x2="760.7" y2="624" stroke="#000" stroke-width="3.8" />
<line x1="803.9" y1="617.2" x2="803.9" y2="624" stroke="#000" stroke-width="3.8" />
<text transform="translate(599.7,524) rotate(-90)" font-size="18.4" text-anchor="middle" fill="#000" >CCL2 (pg/ml)</text>
<text transform="translate(676.3,640.5) rotate(-45)" font-size="18.3" text-anchor="end" fill="#000" >sh-NC</text>
<text transform="translate(723.9,639.2) rotate(-45)" font-size="18.3" text-anchor="end" fill="#000" >sh-BMAL1</text>
<text transform="translate(772.8,636.5) rotate(-45)" font-size="18.3" text-anchor="end" fill="#000" >sh-NC+NOB</text>
<text transform="translate(821.5,634.5) rotate(-45)" font-size="18.3" text-anchor="end" fill="#000" >sh-BMAL1+NOB</text>
<line x1="914" y1="424.6" x2="914" y2="617" stroke="#000" stroke-width="4.4" />
<line x1="905.9" y1="614.8" x2="1102.8" y2="614.8" stroke="#000" stroke-width="4.4" />
<line x1="906" y1="614.8" x2="914" y2="614.8" stroke="#000" stroke-width="3.6" />
<text x="904" y="619.91" font-size="14.2" text-anchor="end" fill="#000" font-weight="bold" >0</text>
<line x1="906" y1="577.2" x2="914" y2="577.2" stroke="#000" stroke-width="3.6" />
<text x="904" y="582.31" font-size="14.2" text-anchor="end" fill="#000" font-weight="bold" >10</text>
<line x1="906" y1="539.6" x2="914" y2="539.6" stroke="#000" stroke-width="3.6" />
<text x="904" y="544.71" font-size="14.2" text-anchor="end" fill="#000" font-weight="bold" >20</text>
<line x1="906" y1="502" x2="914" y2="502" stroke="#000" stroke-width="3.6" />
<text x="904" y="507.11" font-size="14.2" text-anchor="end" fill="#000" font-weight="bold" >30</text>
<line x1="906" y1="464.4" x2="914" y2="464.4" stroke="#000" stroke-width="3.6" />
<text x="904" y="469.51" font-size="14.2" text-anchor="end" fill="#000" font-weight="bold" >40</text>
<line x1="906" y1="426.8" x2="914" y2="426.8" stroke="#000" stroke-width="3.6" />
<text x="904" y="431.91" font-size="14.2" text-anchor="end" fill="#000" font-weight="bold" >50</text>
<rect x="929.05" y="535.86" width="26.9" height="78.94" fill="#336b69" stroke="#000" stroke-width="2.3" />
<line x1="942.5" y1="530.95" x2="942.5" y2="538.47" stroke="#000" stroke-width="2.2" />
<line x1="935.5" y1="530.95" x2="949.5" y2="530.95" stroke="#000" stroke-width="2.2" />
<line x1="935.5" y1="538.47" x2="949.5" y2="538.47" stroke="#000" stroke-width="2.2" />
<rect x="972.35" y="554.29" width="26.9" height="60.51" fill="#4ea8a7" stroke="#000" stroke-width="2.3" />
<line x1="985.8" y1="550.13" x2="985.8" y2="556.14" stroke="#000" stroke-width="2.2" />
<line x1="978.8" y1="550.13" x2="992.8" y2="550.13" stroke="#000" stroke-width="2.2" />
<line x1="978.8" y1="556.14" x2="992.8" y2="556.14" stroke="#000" stroke-width="2.2" />
<path d="M986.78,531.29L987.35,524.49L984.25,524.49L984.82,531.29ZM986.1,532.22L992.74,530.66L991.79,527.72L985.5,530.36ZM986.1,530.36L979.81,527.72L978.86,530.66L985.5,532.22ZM985.01,531.87L988.55,537.7L991.05,535.88L986.59,530.71ZM985.01,530.71L980.55,535.88L983.05,537.7L986.59,531.87Z" fill="#000"/>
<circle cx="985.8" cy="531.29" r="1.49" fill="#000"/>
<rect x="1015.95" y="461.79" width="26.9" height="153.01" fill="#eac253" stroke="#000" stroke-width="2.3" />
<line x1="1029.4" y1="453.87" x2="1029.4" y2="467.41" stroke="#000" stroke-width="2.2" />
<line x1="1022.4" y1="453.87" x2="1036.4" y2="453.87" stroke="#000" stroke-width="2.2" />
<line x1="1022.4" y1="467.41" x2="1036.4" y2="467.41" stroke="#000" stroke-width="2.2" />
<path d="M1030.38,441.89L1030.95,435.09L1027.85,435.09L1028.42,441.89ZM1029.7,442.82L1036.34,441.26L1035.39,438.32L1029.1,440.96ZM1029.7,440.96L1023.41,438.32L1022.46,441.26L1029.1,442.82ZM1028.61,442.47L1032.15,448.3L1034.65,446.48L1030.19,441.31ZM1028.61,441.31L1024.15,446.48L1026.65,448.3L1030.19,442.47Z" fill="#000"/>
<circle cx="1029.4" cy="441.89" r="1.49" fill="#000"/>
<rect x="1059.05" y="496.76" width="26.9" height="118.04" fill="#fbf2f0" stroke="#000" stroke-width="2.3" />
<line x1="1072.5" y1="493.35" x2="1072.5" y2="497.86" stroke="#000" stroke-width="2.2" />
<line x1="1065.5" y1="493.35" x2="1079.5" y2="493.35" stroke="#000" stroke-width="2.2" />
<line x1="1065.5" y1="497.86" x2="1079.5" y2="497.86" stroke="#000" stroke-width="2.2" />
<path d="M1068.69,463L1064.96,479.8M1074.4,463L1070.65,479.8M1063.55,468.2L1075.95,468.2M1063.55,474.4L1075.85,474.4" stroke="#000" stroke-width="1.75" stroke-linecap="round" fill="none"/>
<line x1="942.4" y1="616.5" x2="942.4" y2="623.3" stroke="#000" stroke-width="3.8" />
<line x1="985.3" y1="616.5" x2="985.3" y2="623.3" stroke="#000" stroke-width="3.8" />
<line x1="1028.3" y1="616.5" x2="1028.3" y2="623.3" stroke="#000" stroke-width="3.8" />
<line x1="1072.3" y1="616.5" x2="1072.3" y2="623.3" stroke="#000" stroke-width="3.8" />
<text transform="translate(876,524) rotate(-90)" font-size="18.4" text-anchor="middle" fill="#000" >IL-4 (pg/ml)</text>
<text transform="translate(943.4,639.3) rotate(-45)" font-size="18.3" text-anchor="end" fill="#000" >sh-NC</text>
<text transform="translate(991.2,639.2) rotate(-45)" font-size="18.3" text-anchor="end" fill="#000" >sh-BMAL1</text>
<text transform="translate(1039.9,636.6) rotate(-45)" font-size="18.3" text-anchor="end" fill="#000" >sh-NC+NOB</text>
<text transform="translate(1089.1,633.9) rotate(-45)" font-size="18.3" text-anchor="end" fill="#000" >sh-BMAL1+NOB</text>
<line x1="361.5" y1="756.4" x2="361.5" y2="948.3" stroke="#000" stroke-width="4.4" />
<line x1="354.8" y1="946.1" x2="550.3" y2="946.1" stroke="#000" stroke-width="4.4" />
<line x1="353.5" y1="946.1" x2="361.5" y2="946.1" stroke="#000" stroke-width="3.6" />
<text x="352.2" y="951.21" font-size="14.2" text-anchor="end" fill="#000" font-weight="bold" >0</text>
<line x1="353.5" y1="883.6" x2="361.5" y2="883.6" stroke="#000" stroke-width="3.6" />
<text x="352.2" y="888.71" font-size="14.2" text-anchor="end" fill="#000" font-weight="bold" >5</text>
<line x1="353.5" y1="821.1" x2="361.5" y2="821.1" stroke="#000" stroke-width="3.6" />
<text x="352.2" y="826.21" font-size="14.2" text-anchor="end" fill="#000" font-weight="bold" >10</text>
<line x1="353.5" y1="758.6" x2="361.5" y2="758.6" stroke="#000" stroke-width="3.6" />
<text x="352.2" y="763.71" font-size="14.2" text-anchor="end" fill="#000" font-weight="bold" >15</text>
<rect x="377.85" y="856" width="26.9" height="90.1" fill="#336b69" stroke="#000" stroke-width="2.3" />
<line x1="391.3" y1="847.98" x2="391.3" y2="861.73" stroke="#000" stroke-width="2.2" />
<line x1="384.3" y1="847.98" x2="398.3" y2="847.98" stroke="#000" stroke-width="2.2" />
<line x1="384.3" y1="861.73" x2="398.3" y2="861.73" stroke="#000" stroke-width="2.2" />
<rect x="420.95" y="900.38" width="26.9" height="45.73" fill="#4ea8a7" stroke="#000" stroke-width="2.3" />
<line x1="434.4" y1="891.73" x2="434.4" y2="906.73" stroke="#000" stroke-width="2.2" />
<line x1="427.4" y1="891.73" x2="441.4" y2="891.73" stroke="#000" stroke-width="2.2" />
<line x1="427.4" y1="906.73" x2="441.4" y2="906.73" stroke="#000" stroke-width="2.2" />
<path d="M435.38,876.49L435.95,869.69L432.85,869.69L433.42,876.49ZM434.7,877.42L441.34,875.86L440.39,872.92L434.1,875.56ZM434.7,875.56L428.41,872.92L427.46,875.86L434.1,877.42ZM433.61,877.07L437.15,882.9L439.65,881.08L435.19,875.91ZM433.61,875.91L429.15,881.08L431.65,882.9L435.19,877.07Z" fill="#000"/>
<circle cx="434.4" cy="876.49" r="1.49" fill="#000"/>
<rect x="464.55" y="791.62" width="26.9" height="154.47" fill="#eac253" stroke="#000" stroke-width="2.3" />
<line x1="478" y1="773.6" x2="478" y2="807.35" stroke="#000" stroke-width="2.2" />
<line x1="471" y1="773.6" x2="485" y2="773.6" stroke="#000" stroke-width="2.2" />
<line x1="471" y1="807.35" x2="485" y2="807.35" stroke="#000" stroke-width="2.2" />
<path d="M478.98,755.89L479.55,749.09L476.45,749.09L477.02,755.89ZM478.3,756.82L484.94,755.26L483.99,752.32L477.7,754.96ZM478.3,754.96L472.01,752.32L471.06,755.26L477.7,756.82ZM477.21,756.47L480.75,762.3L483.25,760.48L478.79,755.31ZM477.21,755.31L472.75,760.48L475.25,762.3L478.79,756.47Z" fill="#000"/>
<circle cx="478" cy="755.89" r="1.49" fill="#000"/>
<rect x="507.85" y="821.62" width="26.9" height="124.47" fill="#fbf2f0" stroke="#000" stroke-width="2.3" />
<line x1="521.3" y1="814.85" x2="521.3" y2="826.1" stroke="#000" stroke-width="2.2" />
<line x1="514.3" y1="814.85" x2="528.3" y2="814.85" stroke="#000" stroke-width="2.2" />
<line x1="514.3" y1="826.1" x2="528.3" y2="826.1" stroke="#000" stroke-width="2.2" />
<path d="M520.29,784.9L516.56,801.7M526,784.9L522.25,801.7M515.15,790.1L527.55,790.1M515.15,796.3L527.45,796.3" stroke="#000" stroke-width="1.75" stroke-linecap="round" fill="none"/>
<line x1="390.5" y1="947.8" x2="390.5" y2="954.6" stroke="#000" stroke-width="3.8" />
<line x1="434.1" y1="947.8" x2="434.1" y2="954.6" stroke="#000" stroke-width="3.8" />
<line x1="477.2" y1="947.8" x2="477.2" y2="954.6" stroke="#000" stroke-width="3.8" />
<line x1="520.8" y1="947.8" x2="520.8" y2="954.6" stroke="#000" stroke-width="3.8" />
<text transform="translate(326.5,854.6) rotate(-90)" font-size="18.4" text-anchor="middle" fill="#000" >IGF-1 (ng/ml)</text>
<text transform="translate(394.3,974.3) rotate(-45)" font-size="18.3" text-anchor="end" fill="#000" >sh-NC</text>
<text transform="translate(442.1,973.3) rotate(-45)" font-size="18.3" text-anchor="end" fill="#000" >sh-BMAL1</text>
<text transform="translate(491,970.7) rotate(-45)" font-size="18.3" text-anchor="end" fill="#000" >sh-NC+NOB</text>
<text transform="translate(540.2,968.9) rotate(-45)" font-size="18.3" text-anchor="end" fill="#000" >sh-BMAL1+NOB</text>
<line x1="639.7" y1="760.3" x2="639.7" y2="952.3" stroke="#000" stroke-width="4.4" />
<line x1="631.5" y1="950.1" x2="828.2" y2="950.1" stroke="#000" stroke-width="4.4" />
<line x1="631.7" y1="950.1" x2="639.7" y2="950.1" stroke="#000" stroke-width="3.6" />
<text x="629" y="955.21" font-size="14.2" text-anchor="end" fill="#000" font-weight="bold" >0</text>
<line x1="631.7" y1="903.2" x2="639.7" y2="903.2" stroke="#000" stroke-width="3.6" />
<text x="629" y="908.31" font-size="14.2" text-anchor="end" fill="#000" font-weight="bold" >50</text>
<line x1="631.7" y1="856.3" x2="639.7" y2="856.3" stroke="#000" stroke-width="3.6" />
<text x="629" y="861.41" font-size="14.2" text-anchor="end" fill="#000" font-weight="bold" >100</text>
<line x1="631.7" y1="809.4" x2="639.7" y2="809.4" stroke="#000" stroke-width="3.6" />
<text x="629" y="814.51" font-size="14.2" text-anchor="end" fill="#000" font-weight="bold" >150</text>
<line x1="631.7" y1="762.5" x2="639.7" y2="762.5" stroke="#000" stroke-width="3.6" />
<text x="629" y="767.61" font-size="14.2" text-anchor="end" fill="#000" font-weight="bold" >200</text>
<rect x="654.95" y="849.95" width="26.9" height="100.15" fill="#336b69" stroke="#000" stroke-width="2.3" />
<line x1="668.4" y1="841.29" x2="668.4" y2="856.3" stroke="#000" stroke-width="2.2" />
<line x1="661.4" y1="841.29" x2="675.4" y2="841.29" stroke="#000" stroke-width="2.2" />
<line x1="661.4" y1="856.3" x2="675.4" y2="856.3" stroke="#000" stroke-width="2.2" />
<rect x="698.15" y="900.6" width="26.9" height="49.5" fill="#4ea8a7" stroke="#000" stroke-width="2.3" />
<line x1="711.6" y1="895.7" x2="711.6" y2="903.2" stroke="#000" stroke-width="2.2" />
<line x1="704.6" y1="895.7" x2="718.6" y2="895.7" stroke="#000" stroke-width="2.2" />
<line x1="704.6" y1="903.2" x2="718.6" y2="903.2" stroke="#000" stroke-width="2.2" />
<path d="M712.58,876.49L713.15,869.69L710.05,869.69L710.62,876.49ZM711.9,877.42L718.54,875.86L717.59,872.92L711.3,875.56ZM711.9,875.56L705.61,872.92L704.66,875.86L711.3,877.42ZM710.81,877.07L714.35,882.9L716.85,881.08L712.39,875.91ZM710.81,875.91L706.35,881.08L708.85,882.9L712.39,877.07Z" fill="#000"/>
<circle cx="711.6" cy="876.49" r="1.49" fill="#000"/>
<rect x="741.25" y="786.16" width="26.9" height="163.94" fill="#eac253" stroke="#000" stroke-width="2.3" />
<line x1="754.7" y1="777.51" x2="754.7" y2="792.52" stroke="#000" stroke-width="2.2" />
<line x1="747.7" y1="777.51" x2="761.7" y2="777.51" stroke="#000" stroke-width="2.2" />
<line x1="747.7" y1="792.52" x2="761.7" y2="792.52" stroke="#000" stroke-width="2.2" />
<path d="M755.68,761.49L756.25,754.69L753.15,754.69L753.72,761.49ZM755,762.42L761.64,760.86L760.69,757.92L754.4,760.56ZM755,760.56L748.71,757.92L747.76,760.86L754.4,762.42ZM753.91,762.07L757.45,767.9L759.95,766.08L755.49,760.91ZM753.91,760.91L749.45,766.08L751.95,767.9L755.49,762.07Z" fill="#000"/>
<circle cx="754.7" cy="761.49" r="1.49" fill="#000"/>
<rect x="784.85" y="826.5" width="26.9" height="123.6" fill="#fbf2f0" stroke="#000" stroke-width="2.3" />
<line x1="798.3" y1="815.97" x2="798.3" y2="834.73" stroke="#000" stroke-width="2.2" />
<line x1="791.3" y1="815.97" x2="805.3" y2="815.97" stroke="#000" stroke-width="2.2" />
<line x1="791.3" y1="834.73" x2="805.3" y2="834.73" stroke="#000" stroke-width="2.2" />
<path d="M797.29,791.6L793.56,808.4M803,791.6L799.25,808.4M792.15,796.8L804.55,796.8M792.15,803L804.45,803" stroke="#000" stroke-width="1.75" stroke-linecap="round" fill="none"/>
<line x1="667.7" y1="951.8" x2="667.7" y2="958.6" stroke="#000" stroke-width="3.8" />
<line x1="711.3" y1="951.8" x2="711.3" y2="958.6" stroke="#000" stroke-width="3.8" />
<line x1="754.6" y1="951.8" x2="754.6" y2="958.6" stroke="#000" stroke-width="3.8" />
<line x1="798" y1="951.8" x2="798" y2="958.6" stroke="#000" stroke-width="3.8" />
<text transform="translate(594.2,863.5) rotate(-90)" font-size="18.4" text-anchor="middle" fill="#000" >TGF- &#946;1 (pg/ml)</text>
<text transform="translate(675.2,971.1) rotate(-45)" font-size="18.3" text-anchor="end" fill="#000" >sh-NC</text>
<text transform="translate(723,970.1) rotate(-45)" font-size="18.3" text-anchor="end" fill="#000" >sh-BMAL1</text>
<text transform="translate(772.3,967.5) rotate(-45)" font-size="18.3" text-anchor="end" fill="#000" >sh-NC+NOB</text>
<text transform="translate(821.5,966.6) rotate(-45)" font-size="18.3" text-anchor="end" fill="#000" >sh-BMAL1+NOB</text>
<text x="11.4" y="1103.8" font-size="28.5" text-anchor="start" fill="#000" font-weight="bold" >D</text>
<text x="235" y="1147" font-size="23.6" text-anchor="middle" fill="#000" >sh-NC</text>
<text x="510.6" y="1147" font-size="23.6" text-anchor="middle" fill="#000" >sh-BMAL1</text>
<text x="788" y="1147" font-size="23.6" text-anchor="middle" fill="#000" >sh-NC+NOB</text>
<text transform="translate(1055.9,1144.6) rotate(-1.2)" font-size="23.6" text-anchor="middle" fill="#000" >sh-BMAL1+NOB</text>
<text x="10" y="1312.3" font-size="23.2" text-anchor="start" fill="#000" >CD86</text>
<text x="3.3" y="1575.5" font-size="23.2" text-anchor="start" fill="#000" >CD206</text>
<clipPath id="cl10a"><rect x="122.3" y="1143.2" width="112" height="253.8"/></clipPath>
<clipPath id="cl10b"><rect x="234.3" y="1143.2" width="102.6" height="253.8"/></clipPath>
<path d="M123.3,1397 L123.5,1397 L124.2,1397 L124.9,1396.05 L125.6,1397 L126.3,1397 L127,1396.67 L127.7,1396.14 L128.4,1396.42 L129.1,1397 L129.8,1395.62 L130.5,1396.92 L131.2,1397 L131.9,1392.74 L132.6,1396.43 L133.3,1393.86 L134,1393.51 L134.7,1394.87 L135.4,1396.46 L136.1,1393.98 L136.8,1394.87 L137.5,1395.29 L138.2,1394.04 L138.9,1396.44 L139.6,1396.93 L140.3,1396.68 L141,1395.94 L141.7,1395.2 L142.4,1395.94 L143.1,1393.71 L143.8,1395.72 L144.5,1395.48 L145.2,1393.01 L145.9,1395.97 L146.6,1394.78 L147.3,1394.69 L148,1396.73 L148.7,1392.43 L149.4,1394.81 L150.1,1393.32 L150.8,1393.93 L151.5,1392.89 L152.2,1396.23 L152.9,1392.4 L153.6,1395.12 L154.3,1395.78 L155,1393.44 L155.7,1395.39 L156.4,1394.39 L157.1,1397 L157.8,1391.33 L158.5,1393.21 L159.2,1392.52 L159.9,1397 L160.6,1390.11 L161.3,1394.05 L162,1390.5 L162.7,1388.51 L163.4,1393.04 L164.1,1389.62 L164.8,1391.17 L165.5,1391.49 L166.2,1393.07 L166.9,1393.99 L167.6,1388.86 L168.3,1386.72 L169,1391.6 L169.7,1387.99 L170.4,1394.86 L171.1,1388.66 L171.8,1388.54 L172.5,1385.62 L173.2,1383.38 L173.9,1384.74 L174.6,1383.08 L175.3,1388.45 L176,1381.77 L176.7,1386.27 L177.4,1379.29 L178.1,1383.73 L178.8,1376.52 L179.5,1384.6 L180.2,1383.15 L180.9,1374.92 L181.6,1376.66 L182.3,1382.74 L183,1374.84 L183.7,1377.32 L184.4,1379.36 L185.1,1377.85 L185.8,1372.92 L186.5,1377.6 L187.2,1371.57 L187.9,1373.47 L188.6,1378.22 L189.3,1358.47 L190,1372.42 L190.7,1364.98 L191.4,1374.4 L192.1,1367.51 L192.8,1372.09 L193.5,1364.57 L194.2,1362.99 L194.9,1362.48 L195.6,1354.36 L196.3,1362.77 L197,1357.2 L197.7,1348.29 L198.4,1347.93 L199.1,1354.46 L199.8,1343.99 L200.5,1341.17 L201.2,1335.39 L201.9,1332.34 L202.6,1338.21 L203.3,1327.18 L204,1322.57 L204.7,1313.84 L205.4,1322.24 L206.1,1330.03 L206.8,1317.89 L207.5,1315.49 L208.2,1328.42 L208.9,1316.43 L209.6,1319.82 L210.3,1323.14 L211,1308.53 L211.7,1313.41 L212.4,1302.85 L213.1,1305.04 L213.8,1301.32 L214.5,1303 L215.2,1284.87 L215.9,1286.03 L216.6,1286.93 L217.3,1283.17 L218,1266.82 L218.7,1274.34 L219.4,1258.37 L220.1,1266.67 L220.8,1240.8 L221.5,1238.35 L222.2,1239.45 L222.9,1242.15 L223.6,1228.93 L224.3,1216.69 L225,1223.98 L225.7,1238.39 L226.4,1243.09 L227.1,1227.87 L227.8,1237.89 L228.5,1247.14 L229.2,1237.45 L229.9,1230.93 L230.6,1232.3 L231.3,1234.64 L232,1227.52 L232.7,1214.1 L233.4,1217.61 L234.1,1191.8 L234.8,1257.75 L235.5,1254.53 L236.2,1273.4 L236.9,1263.67 L237.6,1276.12 L238.3,1281.52 L239,1297.05 L239.7,1306.59 L240.4,1320.73 L241.1,1322.91 L241.8,1337.94 L242.5,1343.39 L243.2,1350.79 L243.9,1368.2 L244.6,1374.91 L245.3,1376.18 L246,1375.35 L246.7,1379.66 L247.4,1384.44 L248.1,1382.71 L248.8,1384.16 L249.5,1390.82 L250.2,1391.59 L250.9,1393.08 L251.6,1396.13 L252.3,1395.39 L253,1396.17 L253.7,1395.1 L254.4,1397 L255.1,1396.74 L255.8,1396.63 L256.5,1397 L257.2,1397 L257.2,1397 Z" fill="#f07b81" clip-path="url(#cl10a)"/>
<path d="M123.3,1397 L123.5,1397 L124.2,1397 L124.9,1396.05 L125.6,1397 L126.3,1397 L127,1396.67 L127.7,1396.14 L128.4,1396.42 L129.1,1397 L129.8,1395.62 L130.5,1396.92 L131.2,1397 L131.9,1392.74 L132.6,1396.43 L133.3,1393.86 L134,1393.51 L134.7,1394.87 L135.4,1396.46 L136.1,1393.98 L136.8,1394.87 L137.5,1395.29 L138.2,1394.04 L138.9,1396.44 L139.6,1396.93 L140.3,1396.68 L141,1395.94 L141.7,1395.2 L142.4,1395.94 L143.1,1393.71 L143.8,1395.72 L144.5,1395.48 L145.2,1393.01 L145.9,1395.97 L146.6,1394.78 L147.3,1394.69 L148,1396.73 L148.7,1392.43 L149.4,1394.81 L150.1,1393.32 L150.8,1393.93 L151.5,1392.89 L152.2,1396.23 L152.9,1392.4 L153.6,1395.12 L154.3,1395.78 L155,1393.44 L155.7,1395.39 L156.4,1394.39 L157.1,1397 L157.8,1391.33 L158.5,1393.21 L159.2,1392.52 L159.9,1397 L160.6,1390.11 L161.3,1394.05 L162,1390.5 L162.7,1388.51 L163.4,1393.04 L164.1,1389.62 L164.8,1391.17 L165.5,1391.49 L166.2,1393.07 L166.9,1393.99 L167.6,1388.86 L168.3,1386.72 L169,1391.6 L169.7,1387.99 L170.4,1394.86 L171.1,1388.66 L171.8,1388.54 L172.5,1385.62 L173.2,1383.38 L173.9,1384.74 L174.6,1383.08 L175.3,1388.45 L176,1381.77 L176.7,1386.27 L177.4,1379.29 L178.1,1383.73 L178.8,1376.52 L179.5,1384.6 L180.2,1383.15 L180.9,1374.92 L181.6,1376.66 L182.3,1382.74 L183,1374.84 L183.7,1377.32 L184.4,1379.36 L185.1,1377.85 L185.8,1372.92 L186.5,1377.6 L187.2,1371.57 L187.9,1373.47 L188.6,1378.22 L189.3,1358.47 L190,1372.42 L190.7,1364.98 L191.4,1374.4 L192.1,1367.51 L192.8,1372.09 L193.5,1364.57 L194.2,1362.99 L194.9,1362.48 L195.6,1354.36 L196.3,1362.77 L197,1357.2 L197.7,1348.29 L198.4,1347.93 L199.1,1354.46 L199.8,1343.99 L200.5,1341.17 L201.2,1335.39 L201.9,1332.34 L202.6,1338.21 L203.3,1327.18 L204,1322.57 L204.7,1313.84 L205.4,1322.24 L206.1,1330.03 L206.8,1317.89 L207.5,1315.49 L208.2,1328.42 L208.9,1316.43 L209.6,1319.82 L210.3,1323.14 L211,1308.53 L211.7,1313.41 L212.4,1302.85 L213.1,1305.04 L213.8,1301.32 L214.5,1303 L215.2,1284.87 L215.9,1286.03 L216.6,1286.93 L217.3,1283.17 L218,1266.82 L218.7,1274.34 L219.4,1258.37 L220.1,1266.67 L220.8,1240.8 L221.5,1238.35 L222.2,1239.45 L222.9,1242.15 L223.6,1228.93 L224.3,1216.69 L225,1223.98 L225.7,1238.39 L226.4,1243.09 L227.1,1227.87 L227.8,1237.89 L228.5,1247.14 L229.2,1237.45 L229.9,1230.93 L230.6,1232.3 L231.3,1234.64 L232,1227.52 L232.7,1214.1 L233.4,1217.61 L234.1,1191.8 L234.8,1257.75 L235.5,1254.53 L236.2,1273.4 L236.9,1263.67 L237.6,1276.12 L238.3,1281.52 L239,1297.05 L239.7,1306.59 L240.4,1320.73 L241.1,1322.91 L241.8,1337.94 L242.5,1343.39 L243.2,1350.79 L243.9,1368.2 L244.6,1374.91 L245.3,1376.18 L246,1375.35 L246.7,1379.66 L247.4,1384.44 L248.1,1382.71 L248.8,1384.16 L249.5,1390.82 L250.2,1391.59 L250.9,1393.08 L251.6,1396.13 L252.3,1395.39 L253,1396.17 L253.7,1395.1 L254.4,1397 L255.1,1396.74 L255.8,1396.63 L256.5,1397 L257.2,1397 L257.2,1397 Z" fill="#f83a3f" clip-path="url(#cl10b)"/>
<path d="M123.3,1397 L123.5,1397 L124.2,1397 L124.9,1396.05 L125.6,1397 L126.3,1397 L127,1396.67 L127.7,1396.14 L128.4,1396.42 L129.1,1397 L129.8,1395.62 L130.5,1396.92 L131.2,1397 L131.9,1392.74 L132.6,1396.43 L133.3,1393.86 L134,1393.51 L134.7,1394.87 L135.4,1396.46 L136.1,1393.98 L136.8,1394.87 L137.5,1395.29 L138.2,1394.04 L138.9,1396.44 L139.6,1396.93 L140.3,1396.68 L141,1395.94 L141.7,1395.2 L142.4,1395.94 L143.1,1393.71 L143.8,1395.72 L144.5,1395.48 L145.2,1393.01 L145.9,1395.97 L146.6,1394.78 L147.3,1394.69 L148,1396.73 L148.7,1392.43 L149.4,1394.81 L150.1,1393.32 L150.8,1393.93 L151.5,1392.89 L152.2,1396.23 L152.9,1392.4 L153.6,1395.12 L154.3,1395.78 L155,1393.44 L155.7,1395.39 L156.4,1394.39 L157.1,1397 L157.8,1391.33 L158.5,1393.21 L159.2,1392.52 L159.9,1397 L160.6,1390.11 L161.3,1394.05 L162,1390.5 L162.7,1388.51 L163.4,1393.04 L164.1,1389.62 L164.8,1391.17 L165.5,1391.49 L166.2,1393.07 L166.9,1393.99 L167.6,1388.86 L168.3,1386.72 L169,1391.6 L169.7,1387.99 L170.4,1394.86 L171.1,1388.66 L171.8,1388.54 L172.5,1385.62 L173.2,1383.38 L173.9,1384.74 L174.6,1383.08 L175.3,1388.45 L176,1381.77 L176.7,1386.27 L177.4,1379.29 L178.1,1383.73 L178.8,1376.52 L179.5,1384.6 L180.2,1383.15 L180.9,1374.92 L181.6,1376.66 L182.3,1382.74 L183,1374.84 L183.7,1377.32 L184.4,1379.36 L185.1,1377.85 L185.8,1372.92 L186.5,1377.6 L187.2,1371.57 L187.9,1373.47 L188.6,1378.22 L189.3,1358.47 L190,1372.42 L190.7,1364.98 L191.4,1374.4 L192.1,1367.51 L192.8,1372.09 L193.5,1364.57 L194.2,1362.99 L194.9,1362.48 L195.6,1354.36 L196.3,1362.77 L197,1357.2 L197.7,1348.29 L198.4,1347.93 L199.1,1354.46 L199.8,1343.99 L200.5,1341.17 L201.2,1335.39 L201.9,1332.34 L202.6,1338.21 L203.3,1327.18 L204,1322.57 L204.7,1313.84 L205.4,1322.24 L206.1,1330.03 L206.8,1317.89 L207.5,1315.49 L208.2,1328.42 L208.9,1316.43 L209.6,1319.82 L210.3,1323.14 L211,1308.53 L211.7,1313.41 L212.4,1302.85 L213.1,1305.04 L213.8,1301.32 L214.5,1303 L215.2,1284.87 L215.9,1286.03 L216.6,1286.93 L217.3,1283.17 L218,1266.82 L218.7,1274.34 L219.4,1258.37 L220.1,1266.67 L220.8,1240.8 L221.5,1238.35 L222.2,1239.45 L222.9,1242.15 L223.6,1228.93 L224.3,1216.69 L225,1223.98 L225.7,1238.39 L226.4,1243.09 L227.1,1227.87 L227.8,1237.89 L228.5,1247.14 L229.2,1237.45 L229.9,1230.93 L230.6,1232.3 L231.3,1234.64 L232,1227.52 L232.7,1214.1 L233.4,1217.61 L234.1,1191.8 L234.8,1257.75 L235.5,1254.53 L236.2,1273.4 L236.9,1263.67 L237.6,1276.12 L238.3,1281.52 L239,1297.05 L239.7,1306.59 L240.4,1320.73 L241.1,1322.91 L241.8,1337.94 L242.5,1343.39 L243.2,1350.79 L243.9,1368.2 L244.6,1374.91 L245.3,1376.18 L246,1375.35 L246.7,1379.66 L247.4,1384.44 L248.1,1382.71 L248.8,1384.16 L249.5,1390.82 L250.2,1391.59 L250.9,1393.08 L251.6,1396.13 L252.3,1395.39 L253,1396.17 L253.7,1395.1 L254.4,1397 L255.1,1396.74 L255.8,1396.63 L256.5,1397 L257.2,1397" fill="none" stroke="#ff1c1c" stroke-width="0.9" stroke-linejoin="miter"/>
<line x1="234.3" y1="1257.75" x2="234.3" y2="1397" stroke="#ff2020" stroke-width="1.3" />
<line x1="123.2" y1="1192" x2="123.2" y2="1397" stroke="#e01818" stroke-width="1" />
<rect x="122.3" y="1183.2" width="214.6" height="213.8" fill="none" stroke="#222" stroke-width="1.1" />
<line x1="234.3" y1="1211.7" x2="329.8" y2="1211.7" stroke="#f53333" stroke-width="1.3" />
<line x1="234.3" y1="1206.7" x2="234.3" y2="1217.2" stroke="#f53333" stroke-width="1.3" />
<line x1="329.8" y1="1206.7" x2="329.8" y2="1217.2" stroke="#f53333" stroke-width="1.3" />
<text x="233.8" y="1199.2" font-size="11.2" text-anchor="start" fill="#f03030" >P2(15.53%)</text>
<text x="223.1" y="1178.2" font-size="11" text-anchor="middle" fill="#222" >ShNC : P1</text>
<line x1="118.3" y1="1397" x2="122.3" y2="1397" stroke="#222" stroke-width="0.9" />
<line x1="119.7" y1="1382.42" x2="122.3" y2="1382.42" stroke="#222" stroke-width="0.9" />
<line x1="119.7" y1="1367.84" x2="122.3" y2="1367.84" stroke="#222" stroke-width="0.9" />
<line x1="119.7" y1="1353.26" x2="122.3" y2="1353.26" stroke="#222" stroke-width="0.9" />
<line x1="119.7" y1="1338.68" x2="122.3" y2="1338.68" stroke="#222" stroke-width="0.9" />
<line x1="118.3" y1="1324.1" x2="122.3" y2="1324.1" stroke="#222" stroke-width="0.9" />
<line x1="119.7" y1="1309.52" x2="122.3" y2="1309.52" stroke="#222" stroke-width="0.9" />
<line x1="119.7" y1="1294.94" x2="122.3" y2="1294.94" stroke="#222" stroke-width="0.9" />
<line x1="119.7" y1="1280.36" x2="122.3" y2="1280.36" stroke="#222" stroke-width="0.9" />
<line x1="119.7" y1="1265.78" x2="122.3" y2="1265.78" stroke="#222" stroke-width="0.9" />
<line x1="118.3" y1="1251.2" x2="122.3" y2="1251.2" stroke="#222" stroke-width="0.9" />
<line x1="119.7" y1="1236.62" x2="122.3" y2="1236.62" stroke="#222" stroke-width="0.9" />
<line x1="119.7" y1="1222.04" x2="122.3" y2="1222.04" stroke="#222" stroke-width="0.9" />
<line x1="119.7" y1="1207.46" x2="122.3" y2="1207.46" stroke="#222" stroke-width="0.9" />
<line x1="119.7" y1="1192.88" x2="122.3" y2="1192.88" stroke="#222" stroke-width="0.9" />
<text transform="translate(112.8,1397) rotate(-90)" font-size="11" text-anchor="middle" fill="#222" >0</text>
<text transform="translate(112.8,1324.1) rotate(-90)" font-size="11" text-anchor="middle" fill="#222" >100</text>
<text transform="translate(112.8,1251.2) rotate(-90)" font-size="11" text-anchor="middle" fill="#222" >200</text>
<text transform="translate(97.3,1294.1) rotate(-90)" font-size="11" text-anchor="middle" fill="#222" >Count</text>
<line x1="122.52" y1="1397" x2="122.52" y2="1399.8" stroke="#222" stroke-width="0.9" />
<line x1="126.46" y1="1397" x2="126.46" y2="1399.8" stroke="#222" stroke-width="0.9" />
<line x1="129.79" y1="1397" x2="129.79" y2="1399.8" stroke="#222" stroke-width="0.9" />
<line x1="132.68" y1="1397" x2="132.68" y2="1399.8" stroke="#222" stroke-width="0.9" />
<line x1="135.22" y1="1397" x2="135.22" y2="1399.8" stroke="#222" stroke-width="0.9" />
<line x1="137.5" y1="1397" x2="137.5" y2="1402" stroke="#222" stroke-width="0.9" />
<line x1="152.48" y1="1397" x2="152.48" y2="1399.8" stroke="#222" stroke-width="0.9" />
<line x1="161.24" y1="1397" x2="161.24" y2="1399.8" stroke="#222" stroke-width="0.9" />
<line x1="167.45" y1="1397" x2="167.45" y2="1399.8" stroke="#222" stroke-width="0.9" />
<line x1="172.27" y1="1397" x2="172.27" y2="1399.8" stroke="#222" stroke-width="0.9" />
<line x1="176.21" y1="1397" x2="176.21" y2="1399.8" stroke="#222" stroke-width="0.9" />
<line x1="179.54" y1="1397" x2="179.54" y2="1399.8" stroke="#222" stroke-width="0.9" />
<line x1="182.43" y1="1397" x2="182.43" y2="1399.8" stroke="#222" stroke-width="0.9" />
<line x1="184.97" y1="1397" x2="184.97" y2="1399.8" stroke="#222" stroke-width="0.9" />
<line x1="187.25" y1="1397" x2="187.25" y2="1402" stroke="#222" stroke-width="0.9" />
<line x1="202.23" y1="1397" x2="202.23" y2="1399.8" stroke="#222" stroke-width="0.9" />
<line x1="210.99" y1="1397" x2="210.99" y2="1399.8" stroke="#222" stroke-width="0.9" />
<line x1="217.2" y1="1397" x2="217.2" y2="1399.8" stroke="#222" stroke-width="0.9" />
<line x1="222.02" y1="1397" x2="222.02" y2="1399.8" stroke="#222" stroke-width="0.9" />
<line x1="225.96" y1="1397" x2="225.96" y2="1399.8" stroke="#222" stroke-width="0.9" />
<line x1="229.29" y1="1397" x2="229.29" y2="1399.8" stroke="#222" stroke-width="0.9" />
<line x1="232.18" y1="1397" x2="232.18" y2="1399.8" stroke="#222" stroke-width="0.9" />
<line x1="234.72" y1="1397" x2="234.72" y2="1399.8" stroke="#222" stroke-width="0.9" />
<line x1="237" y1="1397" x2="237" y2="1402" stroke="#222" stroke-width="0.9" />
<line x1="251.98" y1="1397" x2="251.98" y2="1399.8" stroke="#222" stroke-width="0.9" />
<line x1="260.74" y1="1397" x2="260.74" y2="1399.8" stroke="#222" stroke-width="0.9" />
<line x1="266.95" y1="1397" x2="266.95" y2="1399.8" stroke="#222" stroke-width="0.9" />
<line x1="271.77" y1="1397" x2="271.77" y2="1399.8" stroke="#222" stroke-width="0.9" />
<line x1="275.71" y1="1397" x2="275.71" y2="1399.8" stroke="#222" stroke-width="0.9" />
<line x1="279.04" y1="1397" x2="279.04" y2="1399.8" stroke="#222" stroke-width="0.9" />
<line x1="281.93" y1="1397" x2="281.93" y2="1399.8" stroke="#222" stroke-width="0.9" />
<line x1="284.47" y1="1397" x2="284.47" y2="1399.8" stroke="#222" stroke-width="0.9" />
<line x1="286.75" y1="1397" x2="286.75" y2="1402" stroke="#222" stroke-width="0.9" />
<line x1="301.73" y1="1397" x2="301.73" y2="1399.8" stroke="#222" stroke-width="0.9" />
<line x1="310.49" y1="1397" x2="310.49" y2="1399.8" stroke="#222" stroke-width="0.9" />
<line x1="316.7" y1="1397" x2="316.7" y2="1399.8" stroke="#222" stroke-width="0.9" />
<line x1="321.52" y1="1397" x2="321.52" y2="1399.8" stroke="#222" stroke-width="0.9" />
<line x1="325.46" y1="1397" x2="325.46" y2="1399.8" stroke="#222" stroke-width="0.9" />
<line x1="328.79" y1="1397" x2="328.79" y2="1399.8" stroke="#222" stroke-width="0.9" />
<line x1="331.68" y1="1397" x2="331.68" y2="1399.8" stroke="#222" stroke-width="0.9" />
<line x1="334.22" y1="1397" x2="334.22" y2="1399.8" stroke="#222" stroke-width="0.9" />
<line x1="336.5" y1="1397" x2="336.5" y2="1402" stroke="#222" stroke-width="0.9" />
<text x="136.3" y="1415.3" font-size="11" text-anchor="middle" fill="#222" >10<tspan font-size="7.5" dy="-4.2">1</tspan></text>
<text x="186.05" y="1415.3" font-size="11" text-anchor="middle" fill="#222" >10<tspan font-size="7.5" dy="-4.2">2</tspan></text>
<text x="235.8" y="1415.3" font-size="11" text-anchor="middle" fill="#222" >10<tspan font-size="7.5" dy="-4.2">3</tspan></text>
<text x="285.55" y="1415.3" font-size="11" text-anchor="middle" fill="#222" >10<tspan font-size="7.5" dy="-4.2">4</tspan></text>
<text x="335.3" y="1415.3" font-size="11" text-anchor="middle" fill="#222" >10<tspan font-size="7.5" dy="-4.2">5</tspan></text>
<text x="229.6" y="1430" font-size="11" text-anchor="middle" fill="#222" >CD86 APC-A</text>
<clipPath id="cl11a"><rect x="399.4" y="1143.2" width="111.3" height="253.8"/></clipPath>
<clipPath id="cl11b"><rect x="510.7" y="1143.2" width="102.7" height="253.8"/></clipPath>
<path d="M400.4,1397 L400.6,1397 L401.3,1396.49 L402,1397 L402.7,1396.76 L403.4,1397 L404.1,1397 L404.8,1394.87 L405.5,1395.22 L406.2,1394.78 L406.9,1396.68 L407.6,1394.9 L408.3,1396.04 L409,1394.79 L409.7,1395.79 L410.4,1397 L411.1,1396.14 L411.8,1396.87 L412.5,1395.51 L413.2,1394.61 L413.9,1397 L414.6,1395.73 L415.3,1395.02 L416,1394.68 L416.7,1396.55 L417.4,1394.36 L418.1,1395.27 L418.8,1393.75 L419.5,1395.33 L420.2,1394.87 L420.9,1396.19 L421.6,1392.45 L422.3,1395.46 L423,1394.38 L423.7,1394.43 L424.4,1396.29 L425.1,1395.25 L425.8,1392.99 L426.5,1392.79 L427.2,1394.13 L427.9,1393.1 L428.6,1395.44 L429.3,1390.97 L430,1392.64 L430.7,1395.93 L431.4,1393.55 L432.1,1392.41 L432.8,1393.8 L433.5,1392.8 L434.2,1393.23 L434.9,1390.72 L435.6,1391.01 L436.3,1393.51 L437,1392.38 L437.7,1391.68 L438.4,1392.57 L439.1,1391.17 L439.8,1390.72 L440.5,1387.57 L441.2,1392.54 L441.9,1391.48 L442.6,1392.24 L443.3,1393.2 L444,1391.89 L444.7,1390.15 L445.4,1390.92 L446.1,1388.44 L446.8,1391.93 L447.5,1386.43 L448.2,1391.5 L448.9,1389.85 L449.6,1390.48 L450.3,1389.16 L451,1384.17 L451.7,1387.52 L452.4,1385 L453.1,1384.96 L453.8,1384.2 L454.5,1384.14 L455.2,1383.55 L455.9,1385.09 L456.6,1386.51 L457.3,1382.4 L458,1381.8 L458.7,1384.93 L459.4,1381.46 L460.1,1384.64 L460.8,1375.88 L461.5,1383.72 L462.2,1380.05 L462.9,1373.14 L463.6,1382.89 L464.3,1383.93 L465,1379.33 L465.7,1370.66 L466.4,1373.19 L467.1,1374.26 L467.8,1375.74 L468.5,1372.33 L469.2,1378.53 L469.9,1377.77 L470.6,1372.42 L471.3,1373.17 L472,1371.99 L472.7,1371.34 L473.4,1367 L474.1,1365.99 L474.8,1353.79 L475.5,1364.13 L476.2,1358.37 L476.9,1353.64 L477.6,1350.2 L478.3,1359.19 L479,1349.07 L479.7,1345.53 L480.4,1354.76 L481.1,1343.73 L481.8,1338.26 L482.5,1356.89 L483.2,1327.38 L483.9,1334.35 L484.6,1338.82 L485.3,1318.33 L486,1312.52 L486.7,1317.55 L487.4,1306.56 L488.1,1309.2 L488.8,1315.77 L489.5,1316.36 L490.2,1301.45 L490.9,1293.3 L491.6,1299.44 L492.3,1300.05 L493,1295.91 L493.7,1297.69 L494.4,1295.81 L495.1,1273.94 L495.8,1267.37 L496.5,1279.42 L497.2,1282.81 L497.9,1279.62 L498.6,1253.99 L499.3,1270.45 L500,1260.45 L500.7,1258.34 L501.4,1258.66 L502.1,1255.66 L502.8,1216.66 L503.5,1237.09 L504.2,1236.81 L504.9,1205.42 L505.6,1213.76 L506.3,1217.6 L507,1224.77 L507.7,1222.75 L508.4,1221.52 L509.1,1229.55 L509.8,1222.57 L510.5,1223.26 L511.2,1223.8 L511.9,1252.38 L512.6,1248.82 L513.3,1263.74 L514,1276.35 L514.7,1267.85 L515.4,1280.45 L516.1,1299.24 L516.8,1289.58 L517.5,1315.96 L518.2,1307.97 L518.9,1328.19 L519.6,1344.35 L520.3,1346.78 L521,1364.75 L521.7,1363.59 L522.4,1372.29 L523.1,1368.52 L523.8,1379.81 L524.5,1369.93 L525.2,1379.16 L525.9,1379.99 L526.6,1380.4 L527.3,1387.61 L528,1392.46 L528.7,1394.18 L529.4,1392.16 L530.1,1395.74 L530.8,1397 L531.5,1397 L531.5,1397 Z" fill="#f07b81" clip-path="url(#cl11a)"/>
<path d="M400.4,1397 L400.6,1397 L401.3,1396.49 L402,1397 L402.7,1396.76 L403.4,1397 L404.1,1397 L404.8,1394.87 L405.5,1395.22 L406.2,1394.78 L406.9,1396.68 L407.6,1394.9 L408.3,1396.04 L409,1394.79 L409.7,1395.79 L410.4,1397 L411.1,1396.14 L411.8,1396.87 L412.5,1395.51 L413.2,1394.61 L413.9,1397 L414.6,1395.73 L415.3,1395.02 L416,1394.68 L416.7,1396.55 L417.4,1394.36 L418.1,1395.27 L418.8,1393.75 L419.5,1395.33 L420.2,1394.87 L420.9,1396.19 L421.6,1392.45 L422.3,1395.46 L423,1394.38 L423.7,1394.43 L424.4,1396.29 L425.1,1395.25 L425.8,1392.99 L426.5,1392.79 L427.2,1394.13 L427.9,1393.1 L428.6,1395.44 L429.3,1390.97 L430,1392.64 L430.7,1395.93 L431.4,1393.55 L432.1,1392.41 L432.8,1393.8 L433.5,1392.8 L434.2,1393.23 L434.9,1390.72 L435.6,1391.01 L436.3,1393.51 L437,1392.38 L437.7,1391.68 L438.4,1392.57 L439.1,1391.17 L439.8,1390.72 L440.5,1387.57 L441.2,1392.54 L441.9,1391.48 L442.6,1392.24 L443.3,1393.2 L444,1391.89 L444.7,1390.15 L445.4,1390.92 L446.1,1388.44 L446.8,1391.93 L447.5,1386.43 L448.2,1391.5 L448.9,1389.85 L449.6,1390.48 L450.3,1389.16 L451,1384.17 L451.7,1387.52 L452.4,1385 L453.1,1384.96 L453.8,1384.2 L454.5,1384.14 L455.2,1383.55 L455.9,1385.09 L456.6,1386.51 L457.3,1382.4 L458,1381.8 L458.7,1384.93 L459.4,1381.46 L460.1,1384.64 L460.8,1375.88 L461.5,1383.72 L462.2,1380.05 L462.9,1373.14 L463.6,1382.89 L464.3,1383.93 L465,1379.33 L465.7,1370.66 L466.4,1373.19 L467.1,1374.26 L467.8,1375.74 L468.5,1372.33 L469.2,1378.53 L469.9,1377.77 L470.6,1372.42 L471.3,1373.17 L472,1371.99 L472.7,1371.34 L473.4,1367 L474.1,1365.99 L474.8,1353.79 L475.5,1364.13 L476.2,1358.37 L476.9,1353.64 L477.6,1350.2 L478.3,1359.19 L479,1349.07 L479.7,1345.53 L480.4,1354.76 L481.1,1343.73 L481.8,1338.26 L482.5,1356.89 L483.2,1327.38 L483.9,1334.35 L484.6,1338.82 L485.3,1318.33 L486,1312.52 L486.7,1317.55 L487.4,1306.56 L488.1,1309.2 L488.8,1315.77 L489.5,1316.36 L490.2,1301.45 L490.9,1293.3 L491.6,1299.44 L492.3,1300.05 L493,1295.91 L493.7,1297.69 L494.4,1295.81 L495.1,1273.94 L495.8,1267.37 L496.5,1279.42 L497.2,1282.81 L497.9,1279.62 L498.6,1253.99 L499.3,1270.45 L500,1260.45 L500.7,1258.34 L501.4,1258.66 L502.1,1255.66 L502.8,1216.66 L503.5,1237.09 L504.2,1236.81 L504.9,1205.42 L505.6,1213.76 L506.3,1217.6 L507,1224.77 L507.7,1222.75 L508.4,1221.52 L509.1,1229.55 L509.8,1222.57 L510.5,1223.26 L511.2,1223.8 L511.9,1252.38 L512.6,1248.82 L513.3,1263.74 L514,1276.35 L514.7,1267.85 L515.4,1280.45 L516.1,1299.24 L516.8,1289.58 L517.5,1315.96 L518.2,1307.97 L518.9,1328.19 L519.6,1344.35 L520.3,1346.78 L521,1364.75 L521.7,1363.59 L522.4,1372.29 L523.1,1368.52 L523.8,1379.81 L524.5,1369.93 L525.2,1379.16 L525.9,1379.99 L526.6,1380.4 L527.3,1387.61 L528,1392.46 L528.7,1394.18 L529.4,1392.16 L530.1,1395.74 L530.8,1397 L531.5,1397 L531.5,1397 Z" fill="#f83a3f" clip-path="url(#cl11b)"/>
<path d="M400.4,1397 L400.6,1397 L401.3,1396.49 L402,1397 L402.7,1396.76 L403.4,1397 L404.1,1397 L404.8,1394.87 L405.5,1395.22 L406.2,1394.78 L406.9,1396.68 L407.6,1394.9 L408.3,1396.04 L409,1394.79 L409.7,1395.79 L410.4,1397 L411.1,1396.14 L411.8,1396.87 L412.5,1395.51 L413.2,1394.61 L413.9,1397 L414.6,1395.73 L415.3,1395.02 L416,1394.68 L416.7,1396.55 L417.4,1394.36 L418.1,1395.27 L418.8,1393.75 L419.5,1395.33 L420.2,1394.87 L420.9,1396.19 L421.6,1392.45 L422.3,1395.46 L423,1394.38 L423.7,1394.43 L424.4,1396.29 L425.1,1395.25 L425.8,1392.99 L426.5,1392.79 L427.2,1394.13 L427.9,1393.1 L428.6,1395.44 L429.3,1390.97 L430,1392.64 L430.7,1395.93 L431.4,1393.55 L432.1,1392.41 L432.8,1393.8 L433.5,1392.8 L434.2,1393.23 L434.9,1390.72 L435.6,1391.01 L436.3,1393.51 L437,1392.38 L437.7,1391.68 L438.4,1392.57 L439.1,1391.17 L439.8,1390.72 L440.5,1387.57 L441.2,1392.54 L441.9,1391.48 L442.6,1392.24 L443.3,1393.2 L444,1391.89 L444.7,1390.15 L445.4,1390.92 L446.1,1388.44 L446.8,1391.93 L447.5,1386.43 L448.2,1391.5 L448.9,1389.85 L449.6,1390.48 L450.3,1389.16 L451,1384.17 L451.7,1387.52 L452.4,1385 L453.1,1384.96 L453.8,1384.2 L454.5,1384.14 L455.2,1383.55 L455.9,1385.09 L456.6,1386.51 L457.3,1382.4 L458,1381.8 L458.7,1384.93 L459.4,1381.46 L460.1,1384.64 L460.8,1375.88 L461.5,1383.72 L462.2,1380.05 L462.9,1373.14 L463.6,1382.89 L464.3,1383.93 L465,1379.33 L465.7,1370.66 L466.4,1373.19 L467.1,1374.26 L467.8,1375.74 L468.5,1372.33 L469.2,1378.53 L469.9,1377.77 L470.6,1372.42 L471.3,1373.17 L472,1371.99 L472.7,1371.34 L473.4,1367 L474.1,1365.99 L474.8,1353.79 L475.5,1364.13 L476.2,1358.37 L476.9,1353.64 L477.6,1350.2 L478.3,1359.19 L479,1349.07 L479.7,1345.53 L480.4,1354.76 L481.1,1343.73 L481.8,1338.26 L482.5,1356.89 L483.2,1327.38 L483.9,1334.35 L484.6,1338.82 L485.3,1318.33 L486,1312.52 L486.7,1317.55 L487.4,1306.56 L488.1,1309.2 L488.8,1315.77 L489.5,1316.36 L490.2,1301.45 L490.9,1293.3 L491.6,1299.44 L492.3,1300.05 L493,1295.91 L493.7,1297.69 L494.4,1295.81 L495.1,1273.94 L495.8,1267.37 L496.5,1279.42 L497.2,1282.81 L497.9,1279.62 L498.6,1253.99 L499.3,1270.45 L500,1260.45 L500.7,1258.34 L501.4,1258.66 L502.1,1255.66 L502.8,1216.66 L503.5,1237.09 L504.2,1236.81 L504.9,1205.42 L505.6,1213.76 L506.3,1217.6 L507,1224.77 L507.7,1222.75 L508.4,1221.52 L509.1,1229.55 L509.8,1222.57 L510.5,1223.26 L511.2,1223.8 L511.9,1252.38 L512.6,1248.82 L513.3,1263.74 L514,1276.35 L514.7,1267.85 L515.4,1280.45 L516.1,1299.24 L516.8,1289.58 L517.5,1315.96 L518.2,1307.97 L518.9,1328.19 L519.6,1344.35 L520.3,1346.78 L521,1364.75 L521.7,1363.59 L522.4,1372.29 L523.1,1368.52 L523.8,1379.81 L524.5,1369.93 L525.2,1379.16 L525.9,1379.99 L526.6,1380.4 L527.3,1387.61 L528,1392.46 L528.7,1394.18 L529.4,1392.16 L530.1,1395.74 L530.8,1397 L531.5,1397" fill="none" stroke="#ff1c1c" stroke-width="0.9" stroke-linejoin="miter"/>
<line x1="510.7" y1="1223.8" x2="510.7" y2="1397" stroke="#ff2020" stroke-width="1.3" />
<line x1="400.3" y1="1192" x2="400.3" y2="1397" stroke="#e01818" stroke-width="1" />
<rect x="399.4" y="1183.2" width="214" height="213.8" fill="none" stroke="#222" stroke-width="1.1" />
<line x1="510.7" y1="1211.3" x2="606.2" y2="1211.3" stroke="#f53333" stroke-width="1.3" />
<line x1="510.7" y1="1206.3" x2="510.7" y2="1216.8" stroke="#f53333" stroke-width="1.3" />
<line x1="606.2" y1="1206.3" x2="606.2" y2="1216.8" stroke="#f53333" stroke-width="1.3" />
<text x="510.2" y="1198.8" font-size="11.2" text-anchor="start" fill="#f03030" >P2(21.50%)</text>
<text x="499.9" y="1178.2" font-size="11" text-anchor="middle" fill="#222" >sh-BMAL1 : P1</text>
<line x1="395.4" y1="1397" x2="399.4" y2="1397" stroke="#222" stroke-width="0.9" />
<line x1="396.8" y1="1383.1" x2="399.4" y2="1383.1" stroke="#222" stroke-width="0.9" />
<line x1="396.8" y1="1369.2" x2="399.4" y2="1369.2" stroke="#222" stroke-width="0.9" />
<line x1="396.8" y1="1355.3" x2="399.4" y2="1355.3" stroke="#222" stroke-width="0.9" />
<line x1="396.8" y1="1341.4" x2="399.4" y2="1341.4" stroke="#222" stroke-width="0.9" />
<line x1="395.4" y1="1327.5" x2="399.4" y2="1327.5" stroke="#222" stroke-width="0.9" />
<line x1="396.8" y1="1313.6" x2="399.4" y2="1313.6" stroke="#222" stroke-width="0.9" />
<line x1="396.8" y1="1299.7" x2="399.4" y2="1299.7" stroke="#222" stroke-width="0.9" />
<line x1="396.8" y1="1285.8" x2="399.4" y2="1285.8" stroke="#222" stroke-width="0.9" />
<line x1="396.8" y1="1271.9" x2="399.4" y2="1271.9" stroke="#222" stroke-width="0.9" />
<line x1="395.4" y1="1258" x2="399.4" y2="1258" stroke="#222" stroke-width="0.9" />
<line x1="396.8" y1="1244.1" x2="399.4" y2="1244.1" stroke="#222" stroke-width="0.9" />
<line x1="396.8" y1="1230.2" x2="399.4" y2="1230.2" stroke="#222" stroke-width="0.9" />
<line x1="396.8" y1="1216.3" x2="399.4" y2="1216.3" stroke="#222" stroke-width="0.9" />
<line x1="396.8" y1="1202.4" x2="399.4" y2="1202.4" stroke="#222" stroke-width="0.9" />
<line x1="395.4" y1="1188.5" x2="399.4" y2="1188.5" stroke="#222" stroke-width="0.9" />
<text transform="translate(389.9,1397) rotate(-90)" font-size="11" text-anchor="middle" fill="#222" >0</text>
<text transform="translate(389.9,1327.5) rotate(-90)" font-size="11" text-anchor="middle" fill="#222" >100</text>
<text transform="translate(389.9,1258) rotate(-90)" font-size="11" text-anchor="middle" fill="#222" >200</text>
<text transform="translate(389.9,1188.5) rotate(-90)" font-size="11" text-anchor="middle" fill="#222" >300</text>
<text transform="translate(374.4,1294.1) rotate(-90)" font-size="11" text-anchor="middle" fill="#222" >Count</text>
<line x1="399.52" y1="1397" x2="399.52" y2="1399.8" stroke="#222" stroke-width="0.9" />
<line x1="403.46" y1="1397" x2="403.46" y2="1399.8" stroke="#222" stroke-width="0.9" />
<line x1="406.79" y1="1397" x2="406.79" y2="1399.8" stroke="#222" stroke-width="0.9" />
<line x1="409.68" y1="1397" x2="409.68" y2="1399.8" stroke="#222" stroke-width="0.9" />
<line x1="412.22" y1="1397" x2="412.22" y2="1399.8" stroke="#222" stroke-width="0.9" />
<line x1="414.5" y1="1397" x2="414.5" y2="1402" stroke="#222" stroke-width="0.9" />
<line x1="429.48" y1="1397" x2="429.48" y2="1399.8" stroke="#222" stroke-width="0.9" />
<line x1="438.24" y1="1397" x2="438.24" y2="1399.8" stroke="#222" stroke-width="0.9" />
<line x1="444.45" y1="1397" x2="444.45" y2="1399.8" stroke="#222" stroke-width="0.9" />
<line x1="449.27" y1="1397" x2="449.27" y2="1399.8" stroke="#222" stroke-width="0.9" />
<line x1="453.21" y1="1397" x2="453.21" y2="1399.8" stroke="#222" stroke-width="0.9" />
<line x1="456.54" y1="1397" x2="456.54" y2="1399.8" stroke="#222" stroke-width="0.9" />
<line x1="459.43" y1="1397" x2="459.43" y2="1399.8" stroke="#222" stroke-width="0.9" />
<line x1="461.97" y1="1397" x2="461.97" y2="1399.8" stroke="#222" stroke-width="0.9" />
<line x1="464.25" y1="1397" x2="464.25" y2="1402" stroke="#222" stroke-width="0.9" />
<line x1="479.23" y1="1397" x2="479.23" y2="1399.8" stroke="#222" stroke-width="0.9" />
<line x1="487.99" y1="1397" x2="487.99" y2="1399.8" stroke="#222" stroke-width="0.9" />
<line x1="494.2" y1="1397" x2="494.2" y2="1399.8" stroke="#222" stroke-width="0.9" />
<line x1="499.02" y1="1397" x2="499.02" y2="1399.8" stroke="#222" stroke-width="0.9" />
<line x1="502.96" y1="1397" x2="502.96" y2="1399.8" stroke="#222" stroke-width="0.9" />
<line x1="506.29" y1="1397" x2="506.29" y2="1399.8" stroke="#222" stroke-width="0.9" />
<line x1="509.18" y1="1397" x2="509.18" y2="1399.8" stroke="#222" stroke-width="0.9" />
<line x1="511.72" y1="1397" x2="511.72" y2="1399.8" stroke="#222" stroke-width="0.9" />
<line x1="514" y1="1397" x2="514" y2="1402" stroke="#222" stroke-width="0.9" />
<line x1="528.98" y1="1397" x2="528.98" y2="1399.8" stroke="#222" stroke-width="0.9" />
<line x1="537.74" y1="1397" x2="537.74" y2="1399.8" stroke="#222" stroke-width="0.9" />
<line x1="543.95" y1="1397" x2="543.95" y2="1399.8" stroke="#222" stroke-width="0.9" />
<line x1="548.77" y1="1397" x2="548.77" y2="1399.8" stroke="#222" stroke-width="0.9" />
<line x1="552.71" y1="1397" x2="552.71" y2="1399.8" stroke="#222" stroke-width="0.9" />
<line x1="556.04" y1="1397" x2="556.04" y2="1399.8" stroke="#222" stroke-width="0.9" />
<line x1="558.93" y1="1397" x2="558.93" y2="1399.8" stroke="#222" stroke-width="0.9" />
<line x1="561.47" y1="1397" x2="561.47" y2="1399.8" stroke="#222" stroke-width="0.9" />
<line x1="563.75" y1="1397" x2="563.75" y2="1402" stroke="#222" stroke-width="0.9" />
<line x1="578.73" y1="1397" x2="578.73" y2="1399.8" stroke="#222" stroke-width="0.9" />
<line x1="587.49" y1="1397" x2="587.49" y2="1399.8" stroke="#222" stroke-width="0.9" />
<line x1="593.7" y1="1397" x2="593.7" y2="1399.8" stroke="#222" stroke-width="0.9" />
<line x1="598.52" y1="1397" x2="598.52" y2="1399.8" stroke="#222" stroke-width="0.9" />
<line x1="602.46" y1="1397" x2="602.46" y2="1399.8" stroke="#222" stroke-width="0.9" />
<line x1="605.79" y1="1397" x2="605.79" y2="1399.8" stroke="#222" stroke-width="0.9" />
<line x1="608.68" y1="1397" x2="608.68" y2="1399.8" stroke="#222" stroke-width="0.9" />
<line x1="611.22" y1="1397" x2="611.22" y2="1399.8" stroke="#222" stroke-width="0.9" />
<line x1="613.5" y1="1397" x2="613.5" y2="1402" stroke="#222" stroke-width="0.9" />
<text x="413.3" y="1415.3" font-size="11" text-anchor="middle" fill="#222" >10<tspan font-size="7.5" dy="-4.2">1</tspan></text>
<text x="463.05" y="1415.3" font-size="11" text-anchor="middle" fill="#222" >10<tspan font-size="7.5" dy="-4.2">2</tspan></text>
<text x="512.8" y="1415.3" font-size="11" text-anchor="middle" fill="#222" >10<tspan font-size="7.5" dy="-4.2">3</tspan></text>
<text x="562.55" y="1415.3" font-size="11" text-anchor="middle" fill="#222" >10<tspan font-size="7.5" dy="-4.2">4</tspan></text>
<text x="612.3" y="1415.3" font-size="11" text-anchor="middle" fill="#222" >10<tspan font-size="7.5" dy="-4.2">5</tspan></text>
<text x="506.4" y="1430" font-size="11" text-anchor="middle" fill="#222" >CD86 APC-A</text>
<clipPath id="cl12a"><rect x="674.5" y="1143.2" width="111.3" height="253.8"/></clipPath>
<clipPath id="cl12b"><rect x="785.8" y="1143.2" width="102.7" height="253.8"/></clipPath>
<path d="M675.5,1397 L675.7,1397 L676.4,1395.63 L677.1,1394.01 L677.8,1395.13 L678.5,1395.8 L679.2,1396.97 L679.9,1392.94 L680.6,1392.55 L681.3,1390.8 L682,1392.92 L682.7,1395.32 L683.4,1392.78 L684.1,1392.2 L684.8,1395.48 L685.5,1393.33 L686.2,1394.58 L686.9,1395.33 L687.6,1391.68 L688.3,1393.09 L689,1393.87 L689.7,1396.62 L690.4,1392.83 L691.1,1390.64 L691.8,1393.04 L692.5,1394.51 L693.2,1395.01 L693.9,1393.5 L694.6,1393.76 L695.3,1396.78 L696,1392.33 L696.7,1394.7 L697.4,1390.56 L698.1,1394.86 L698.8,1388.55 L699.5,1389.59 L700.2,1387.29 L700.9,1391.22 L701.6,1391.08 L702.3,1390.8 L703,1386.92 L703.7,1388.12 L704.4,1389.95 L705.1,1387.51 L705.8,1384.97 L706.5,1388.45 L707.2,1391.52 L707.9,1394.43 L708.6,1393.77 L709.3,1385.05 L710,1386.99 L710.7,1388.54 L711.4,1388.56 L712.1,1388.27 L712.8,1388.05 L713.5,1384.6 L714.2,1383.44 L714.9,1381.76 L715.6,1386.52 L716.3,1384.27 L717,1381.93 L717.7,1384.94 L718.4,1385.62 L719.1,1383.24 L719.8,1379.23 L720.5,1388.15 L721.2,1387.73 L721.9,1385.77 L722.6,1378.65 L723.3,1383.62 L724,1381.81 L724.7,1380.31 L725.4,1379.46 L726.1,1376.26 L726.8,1386.24 L727.5,1376.72 L728.2,1380.24 L728.9,1378.8 L729.6,1364.59 L730.3,1374.15 L731,1372.84 L731.7,1372.64 L732.4,1366.52 L733.1,1368.42 L733.8,1368.14 L734.5,1366.51 L735.2,1369.81 L735.9,1360.6 L736.6,1356.8 L737.3,1352.35 L738,1346.42 L738.7,1358.66 L739.4,1337.7 L740.1,1346.04 L740.8,1339.96 L741.5,1353.4 L742.2,1342.2 L742.9,1349.6 L743.6,1345.82 L744.3,1328.96 L745,1344.12 L745.7,1332.03 L746.4,1336.95 L747.1,1319.49 L747.8,1327.19 L748.5,1324.07 L749.2,1327.29 L749.9,1320.16 L750.6,1312.84 L751.3,1314.24 L752,1309.64 L752.7,1300.27 L753.4,1309.84 L754.1,1296.26 L754.8,1301.93 L755.5,1287.57 L756.2,1299.07 L756.9,1290.51 L757.6,1286.2 L758.3,1284.29 L759,1267.91 L759.7,1267.93 L760.4,1259.22 L761.1,1245.48 L761.8,1252.2 L762.5,1264.73 L763.2,1242.25 L763.9,1241.3 L764.6,1265.5 L765.3,1249.63 L766,1248.85 L766.7,1250.82 L767.4,1251.68 L768.1,1245.72 L768.8,1214.39 L769.5,1232.35 L770.2,1233.62 L770.9,1229.88 L771.6,1237.54 L772.3,1240.07 L773,1226.42 L773.7,1248.56 L774.4,1238.72 L775.1,1260.54 L775.8,1244.64 L776.5,1254.06 L777.2,1263.23 L777.9,1258.06 L778.6,1280.72 L779.3,1274.56 L780,1271.28 L780.7,1268.81 L781.4,1275.49 L782.1,1275.72 L782.8,1300.78 L783.5,1296.04 L784.2,1321.44 L784.9,1338.99 L785.6,1342.08 L786.3,1342.03 L787,1347.78 L787.7,1353.57 L788.4,1370.09 L789.1,1354.62 L789.8,1367.89 L790.5,1376.22 L791.2,1374.44 L791.9,1383.51 L792.6,1382.62 L793.3,1390.02 L794,1390.67 L794.7,1394.59 L795.4,1395.57 L796.1,1397 L796.8,1397 L796.8,1397 Z" fill="#f07b81" clip-path="url(#cl12a)"/>
<path d="M675.5,1397 L675.7,1397 L676.4,1395.63 L677.1,1394.01 L677.8,1395.13 L678.5,1395.8 L679.2,1396.97 L679.9,1392.94 L680.6,1392.55 L681.3,1390.8 L682,1392.92 L682.7,1395.32 L683.4,1392.78 L684.1,1392.2 L684.8,1395.48 L685.5,1393.33 L686.2,1394.58 L686.9,1395.33 L687.6,1391.68 L688.3,1393.09 L689,1393.87 L689.7,1396.62 L690.4,1392.83 L691.1,1390.64 L691.8,1393.04 L692.5,1394.51 L693.2,1395.01 L693.9,1393.5 L694.6,1393.76 L695.3,1396.78 L696,1392.33 L696.7,1394.7 L697.4,1390.56 L698.1,1394.86 L698.8,1388.55 L699.5,1389.59 L700.2,1387.29 L700.9,1391.22 L701.6,1391.08 L702.3,1390.8 L703,1386.92 L703.7,1388.12 L704.4,1389.95 L705.1,1387.51 L705.8,1384.97 L706.5,1388.45 L707.2,1391.52 L707.9,1394.43 L708.6,1393.77 L709.3,1385.05 L710,1386.99 L710.7,1388.54 L711.4,1388.56 L712.1,1388.27 L712.8,1388.05 L713.5,1384.6 L714.2,1383.44 L714.9,1381.76 L715.6,1386.52 L716.3,1384.27 L717,1381.93 L717.7,1384.94 L718.4,1385.62 L719.1,1383.24 L719.8,1379.23 L720.5,1388.15 L721.2,1387.73 L721.9,1385.77 L722.6,1378.65 L723.3,1383.62 L724,1381.81 L724.7,1380.31 L725.4,1379.46 L726.1,1376.26 L726.8,1386.24 L727.5,1376.72 L728.2,1380.24 L728.9,1378.8 L729.6,1364.59 L730.3,1374.15 L731,1372.84 L731.7,1372.64 L732.4,1366.52 L733.1,1368.42 L733.8,1368.14 L734.5,1366.51 L735.2,1369.81 L735.9,1360.6 L736.6,1356.8 L737.3,1352.35 L738,1346.42 L738.7,1358.66 L739.4,1337.7 L740.1,1346.04 L740.8,1339.96 L741.5,1353.4 L742.2,1342.2 L742.9,1349.6 L743.6,1345.82 L744.3,1328.96 L745,1344.12 L745.7,1332.03 L746.4,1336.95 L747.1,1319.49 L747.8,1327.19 L748.5,1324.07 L749.2,1327.29 L749.9,1320.16 L750.6,1312.84 L751.3,1314.24 L752,1309.64 L752.7,1300.27 L753.4,1309.84 L754.1,1296.26 L754.8,1301.93 L755.5,1287.57 L756.2,1299.07 L756.9,1290.51 L757.6,1286.2 L758.3,1284.29 L759,1267.91 L759.7,1267.93 L760.4,1259.22 L761.1,1245.48 L761.8,1252.2 L762.5,1264.73 L763.2,1242.25 L763.9,1241.3 L764.6,1265.5 L765.3,1249.63 L766,1248.85 L766.7,1250.82 L767.4,1251.68 L768.1,1245.72 L768.8,1214.39 L769.5,1232.35 L770.2,1233.62 L770.9,1229.88 L771.6,1237.54 L772.3,1240.07 L773,1226.42 L773.7,1248.56 L774.4,1238.72 L775.1,1260.54 L775.8,1244.64 L776.5,1254.06 L777.2,1263.23 L777.9,1258.06 L778.6,1280.72 L779.3,1274.56 L780,1271.28 L780.7,1268.81 L781.4,1275.49 L782.1,1275.72 L782.8,1300.78 L783.5,1296.04 L784.2,1321.44 L784.9,1338.99 L785.6,1342.08 L786.3,1342.03 L787,1347.78 L787.7,1353.57 L788.4,1370.09 L789.1,1354.62 L789.8,1367.89 L790.5,1376.22 L791.2,1374.44 L791.9,1383.51 L792.6,1382.62 L793.3,1390.02 L794,1390.67 L794.7,1394.59 L795.4,1395.57 L796.1,1397 L796.8,1397 L796.8,1397 Z" fill="#f83a3f" clip-path="url(#cl12b)"/>
<path d="M675.5,1397 L675.7,1397 L676.4,1395.63 L677.1,1394.01 L677.8,1395.13 L678.5,1395.8 L679.2,1396.97 L679.9,1392.94 L680.6,1392.55 L681.3,1390.8 L682,1392.92 L682.7,1395.32 L683.4,1392.78 L684.1,1392.2 L684.8,1395.48 L685.5,1393.33 L686.2,1394.58 L686.9,1395.33 L687.6,1391.68 L688.3,1393.09 L689,1393.87 L689.7,1396.62 L690.4,1392.83 L691.1,1390.64 L691.8,1393.04 L692.5,1394.51 L693.2,1395.01 L693.9,1393.5 L694.6,1393.76 L695.3,1396.78 L696,1392.33 L696.7,1394.7 L697.4,1390.56 L698.1,1394.86 L698.8,1388.55 L699.5,1389.59 L700.2,1387.29 L700.9,1391.22 L701.6,1391.08 L702.3,1390.8 L703,1386.92 L703.7,1388.12 L704.4,1389.95 L705.1,1387.51 L705.8,1384.97 L706.5,1388.45 L707.2,1391.52 L707.9,1394.43 L708.6,1393.77 L709.3,1385.05 L710,1386.99 L710.7,1388.54 L711.4,1388.56 L712.1,1388.27 L712.8,1388.05 L713.5,1384.6 L714.2,1383.44 L714.9,1381.76 L715.6,1386.52 L716.3,1384.27 L717,1381.93 L717.7,1384.94 L718.4,1385.62 L719.1,1383.24 L719.8,1379.23 L720.5,1388.15 L721.2,1387.73 L721.9,1385.77 L722.6,1378.65 L723.3,1383.62 L724,1381.81 L724.7,1380.31 L725.4,1379.46 L726.1,1376.26 L726.8,1386.24 L727.5,1376.72 L728.2,1380.24 L728.9,1378.8 L729.6,1364.59 L730.3,1374.15 L731,1372.84 L731.7,1372.64 L732.4,1366.52 L733.1,1368.42 L733.8,1368.14 L734.5,1366.51 L735.2,1369.81 L735.9,1360.6 L736.6,1356.8 L737.3,1352.35 L738,1346.42 L738.7,1358.66 L739.4,1337.7 L740.1,1346.04 L740.8,1339.96 L741.5,1353.4 L742.2,1342.2 L742.9,1349.6 L743.6,1345.82 L744.3,1328.96 L745,1344.12 L745.7,1332.03 L746.4,1336.95 L747.1,1319.49 L747.8,1327.19 L748.5,1324.07 L749.2,1327.29 L749.9,1320.16 L750.6,1312.84 L751.3,1314.24 L752,1309.64 L752.7,1300.27 L753.4,1309.84 L754.1,1296.26 L754.8,1301.93 L755.5,1287.57 L756.2,1299.07 L756.9,1290.51 L757.6,1286.2 L758.3,1284.29 L759,1267.91 L759.7,1267.93 L760.4,1259.22 L761.1,1245.48 L761.8,1252.2 L762.5,1264.73 L763.2,1242.25 L763.9,1241.3 L764.6,1265.5 L765.3,1249.63 L766,1248.85 L766.7,1250.82 L767.4,1251.68 L768.1,1245.72 L768.8,1214.39 L769.5,1232.35 L770.2,1233.62 L770.9,1229.88 L771.6,1237.54 L772.3,1240.07 L773,1226.42 L773.7,1248.56 L774.4,1238.72 L775.1,1260.54 L775.8,1244.64 L776.5,1254.06 L777.2,1263.23 L777.9,1258.06 L778.6,1280.72 L779.3,1274.56 L780,1271.28 L780.7,1268.81 L781.4,1275.49 L782.1,1275.72 L782.8,1300.78 L783.5,1296.04 L784.2,1321.44 L784.9,1338.99 L785.6,1342.08 L786.3,1342.03 L787,1347.78 L787.7,1353.57 L788.4,1370.09 L789.1,1354.62 L789.8,1367.89 L790.5,1376.22 L791.2,1374.44 L791.9,1383.51 L792.6,1382.62 L793.3,1390.02 L794,1390.67 L794.7,1394.59 L795.4,1395.57 L796.1,1397 L796.8,1397" fill="none" stroke="#ff1c1c" stroke-width="0.9" stroke-linejoin="miter"/>
<line x1="785.8" y1="1342.03" x2="785.8" y2="1397" stroke="#ff2020" stroke-width="1.3" />
<line x1="675.4" y1="1192" x2="675.4" y2="1397" stroke="#e01818" stroke-width="1" />
<rect x="674.5" y="1183.2" width="214" height="213.8" fill="none" stroke="#222" stroke-width="1.1" />
<line x1="785.8" y1="1211.5" x2="881" y2="1211.5" stroke="#f53333" stroke-width="1.3" />
<line x1="785.8" y1="1206.5" x2="785.8" y2="1217" stroke="#f53333" stroke-width="1.3" />
<line x1="881" y1="1206.5" x2="881" y2="1217" stroke="#f53333" stroke-width="1.3" />
<text x="785.3" y="1199" font-size="11.2" text-anchor="start" fill="#f03030" >P2(3.12%)</text>
<text x="775" y="1178.2" font-size="11" text-anchor="middle" fill="#222" >shNC+NOB : P1</text>
<line x1="670.5" y1="1397" x2="674.5" y2="1397" stroke="#222" stroke-width="0.9" />
<line x1="671.9" y1="1378.74" x2="674.5" y2="1378.74" stroke="#222" stroke-width="0.9" />
<line x1="671.9" y1="1360.48" x2="674.5" y2="1360.48" stroke="#222" stroke-width="0.9" />
<line x1="671.9" y1="1342.22" x2="674.5" y2="1342.22" stroke="#222" stroke-width="0.9" />
<line x1="671.9" y1="1323.96" x2="674.5" y2="1323.96" stroke="#222" stroke-width="0.9" />
<line x1="670.5" y1="1305.7" x2="674.5" y2="1305.7" stroke="#222" stroke-width="0.9" />
<line x1="671.9" y1="1287.44" x2="674.5" y2="1287.44" stroke="#222" stroke-width="0.9" />
<line x1="671.9" y1="1269.18" x2="674.5" y2="1269.18" stroke="#222" stroke-width="0.9" />
<line x1="671.9" y1="1250.92" x2="674.5" y2="1250.92" stroke="#222" stroke-width="0.9" />
<line x1="671.9" y1="1232.66" x2="674.5" y2="1232.66" stroke="#222" stroke-width="0.9" />
<line x1="670.5" y1="1214.4" x2="674.5" y2="1214.4" stroke="#222" stroke-width="0.9" />
<line x1="671.9" y1="1196.14" x2="674.5" y2="1196.14" stroke="#222" stroke-width="0.9" />
<text transform="translate(665,1397) rotate(-90)" font-size="11" text-anchor="middle" fill="#222" >0</text>
<text transform="translate(665,1305.7) rotate(-90)" font-size="11" text-anchor="middle" fill="#222" >100</text>
<text transform="translate(665,1214.4) rotate(-90)" font-size="11" text-anchor="middle" fill="#222" >200</text>
<text transform="translate(649.5,1294.1) rotate(-90)" font-size="11" text-anchor="middle" fill="#222" >Count</text>
<line x1="674.62" y1="1397" x2="674.62" y2="1399.8" stroke="#222" stroke-width="0.9" />
<line x1="678.56" y1="1397" x2="678.56" y2="1399.8" stroke="#222" stroke-width="0.9" />
<line x1="681.89" y1="1397" x2="681.89" y2="1399.8" stroke="#222" stroke-width="0.9" />
<line x1="684.78" y1="1397" x2="684.78" y2="1399.8" stroke="#222" stroke-width="0.9" />
<line x1="687.32" y1="1397" x2="687.32" y2="1399.8" stroke="#222" stroke-width="0.9" />
<line x1="689.6" y1="1397" x2="689.6" y2="1402" stroke="#222" stroke-width="0.9" />
<line x1="704.58" y1="1397" x2="704.58" y2="1399.8" stroke="#222" stroke-width="0.9" />
<line x1="713.34" y1="1397" x2="713.34" y2="1399.8" stroke="#222" stroke-width="0.9" />
<line x1="719.55" y1="1397" x2="719.55" y2="1399.8" stroke="#222" stroke-width="0.9" />
<line x1="724.37" y1="1397" x2="724.37" y2="1399.8" stroke="#222" stroke-width="0.9" />
<line x1="728.31" y1="1397" x2="728.31" y2="1399.8" stroke="#222" stroke-width="0.9" />
<line x1="731.64" y1="1397" x2="731.64" y2="1399.8" stroke="#222" stroke-width="0.9" />
<line x1="734.53" y1="1397" x2="734.53" y2="1399.8" stroke="#222" stroke-width="0.9" />
<line x1="737.07" y1="1397" x2="737.07" y2="1399.8" stroke="#222" stroke-width="0.9" />
<line x1="739.35" y1="1397" x2="739.35" y2="1402" stroke="#222" stroke-width="0.9" />
<line x1="754.33" y1="1397" x2="754.33" y2="1399.8" stroke="#222" stroke-width="0.9" />
<line x1="763.09" y1="1397" x2="763.09" y2="1399.8" stroke="#222" stroke-width="0.9" />
<line x1="769.3" y1="1397" x2="769.3" y2="1399.8" stroke="#222" stroke-width="0.9" />
<line x1="774.12" y1="1397" x2="774.12" y2="1399.8" stroke="#222" stroke-width="0.9" />
<line x1="778.06" y1="1397" x2="778.06" y2="1399.8" stroke="#222" stroke-width="0.9" />
<line x1="781.39" y1="1397" x2="781.39" y2="1399.8" stroke="#222" stroke-width="0.9" />
<line x1="784.28" y1="1397" x2="784.28" y2="1399.8" stroke="#222" stroke-width="0.9" />
<line x1="786.82" y1="1397" x2="786.82" y2="1399.8" stroke="#222" stroke-width="0.9" />
<line x1="789.1" y1="1397" x2="789.1" y2="1402" stroke="#222" stroke-width="0.9" />
<line x1="804.08" y1="1397" x2="804.08" y2="1399.8" stroke="#222" stroke-width="0.9" />
<line x1="812.84" y1="1397" x2="812.84" y2="1399.8" stroke="#222" stroke-width="0.9" />
<line x1="819.05" y1="1397" x2="819.05" y2="1399.8" stroke="#222" stroke-width="0.9" />
<line x1="823.87" y1="1397" x2="823.87" y2="1399.8" stroke="#222" stroke-width="0.9" />
<line x1="827.81" y1="1397" x2="827.81" y2="1399.8" stroke="#222" stroke-width="0.9" />
<line x1="831.14" y1="1397" x2="831.14" y2="1399.8" stroke="#222" stroke-width="0.9" />
<line x1="834.03" y1="1397" x2="834.03" y2="1399.8" stroke="#222" stroke-width="0.9" />
<line x1="836.57" y1="1397" x2="836.57" y2="1399.8" stroke="#222" stroke-width="0.9" />
<line x1="838.85" y1="1397" x2="838.85" y2="1402" stroke="#222" stroke-width="0.9" />
<line x1="853.83" y1="1397" x2="853.83" y2="1399.8" stroke="#222" stroke-width="0.9" />
<line x1="862.59" y1="1397" x2="862.59" y2="1399.8" stroke="#222" stroke-width="0.9" />
<line x1="868.8" y1="1397" x2="868.8" y2="1399.8" stroke="#222" stroke-width="0.9" />
<line x1="873.62" y1="1397" x2="873.62" y2="1399.8" stroke="#222" stroke-width="0.9" />
<line x1="877.56" y1="1397" x2="877.56" y2="1399.8" stroke="#222" stroke-width="0.9" />
<line x1="880.89" y1="1397" x2="880.89" y2="1399.8" stroke="#222" stroke-width="0.9" />
<line x1="883.78" y1="1397" x2="883.78" y2="1399.8" stroke="#222" stroke-width="0.9" />
<line x1="886.32" y1="1397" x2="886.32" y2="1399.8" stroke="#222" stroke-width="0.9" />
<line x1="888.6" y1="1397" x2="888.6" y2="1402" stroke="#222" stroke-width="0.9" />
<text x="688.4" y="1415.3" font-size="11" text-anchor="middle" fill="#222" >10<tspan font-size="7.5" dy="-4.2">1</tspan></text>
<text x="738.15" y="1415.3" font-size="11" text-anchor="middle" fill="#222" >10<tspan font-size="7.5" dy="-4.2">2</tspan></text>
<text x="787.9" y="1415.3" font-size="11" text-anchor="middle" fill="#222" >10<tspan font-size="7.5" dy="-4.2">3</tspan></text>
<text x="837.65" y="1415.3" font-size="11" text-anchor="middle" fill="#222" >10<tspan font-size="7.5" dy="-4.2">4</tspan></text>
<text x="887.4" y="1415.3" font-size="11" text-anchor="middle" fill="#222" >10<tspan font-size="7.5" dy="-4.2">5</tspan></text>
<text x="781.5" y="1430" font-size="11" text-anchor="middle" fill="#222" >CD86 APC-A</text>
<clipPath id="cl13a"><rect x="951" y="1143.2" width="112" height="253.8"/></clipPath>
<clipPath id="cl13b"><rect x="1063" y="1143.2" width="102.4" height="253.8"/></clipPath>
<path d="M952,1397 L952.2,1396.91 L952.9,1395.09 L953.6,1396.3 L954.3,1395.73 L955,1396.48 L955.7,1396.98 L956.4,1396.59 L957.1,1394.72 L957.8,1394.89 L958.5,1395.79 L959.2,1394.83 L959.9,1397 L960.6,1393.03 L961.3,1396.34 L962,1397 L962.7,1395.19 L963.4,1396.5 L964.1,1394.16 L964.8,1394.22 L965.5,1397 L966.2,1397 L966.9,1396.27 L967.6,1396.27 L968.3,1394.86 L969,1395.12 L969.7,1393.09 L970.4,1393.46 L971.1,1393.2 L971.8,1393.97 L972.5,1392.8 L973.2,1392.55 L973.9,1394.67 L974.6,1393.01 L975.3,1393.6 L976,1394.48 L976.7,1394.49 L977.4,1390.79 L978.1,1395.71 L978.8,1395.48 L979.5,1390.78 L980.2,1395.58 L980.9,1394.84 L981.6,1395.14 L982.3,1393.93 L983,1393.39 L983.7,1390.75 L984.4,1390.95 L985.1,1390.99 L985.8,1394.5 L986.5,1392.72 L987.2,1391.46 L987.9,1391.38 L988.6,1391.84 L989.3,1389.18 L990,1392.92 L990.7,1390.05 L991.4,1396.64 L992.1,1389.64 L992.8,1390.47 L993.5,1391.1 L994.2,1389.06 L994.9,1390.67 L995.6,1388.52 L996.3,1384.41 L997,1388.17 L997.7,1385.69 L998.4,1383.1 L999.1,1383.69 L999.8,1385.2 L1000.5,1382.26 L1001.2,1385.3 L1001.9,1380.24 L1002.6,1377.94 L1003.3,1377.58 L1004,1381.33 L1004.7,1379.09 L1005.4,1385.56 L1006.1,1374.75 L1006.8,1372.24 L1007.5,1371.14 L1008.2,1377.83 L1008.9,1375.12 L1009.6,1371.13 L1010.3,1369.33 L1011,1371.35 L1011.7,1374.18 L1012.4,1366.1 L1013.1,1371.96 L1013.8,1374.48 L1014.5,1371.07 L1015.2,1365.88 L1015.9,1365.3 L1016.6,1369.37 L1017.3,1365.19 L1018,1360.15 L1018.7,1360.97 L1019.4,1362.48 L1020.1,1368.63 L1020.8,1363.93 L1021.5,1353.36 L1022.2,1357.37 L1022.9,1345.53 L1023.6,1346.76 L1024.3,1351.44 L1025,1351.75 L1025.7,1348.84 L1026.4,1344.21 L1027.1,1348.54 L1027.8,1360.98 L1028.5,1336.12 L1029.2,1344.38 L1029.9,1336.67 L1030.6,1335.75 L1031.3,1326.38 L1032,1327.68 L1032.7,1321.18 L1033.4,1307.42 L1034.1,1304.45 L1034.8,1314.2 L1035.5,1300.9 L1036.2,1296.9 L1036.9,1303.06 L1037.6,1272.39 L1038.3,1280.97 L1039,1277.15 L1039.7,1272.14 L1040.4,1270.51 L1041.1,1256.09 L1041.8,1262.63 L1042.5,1257.39 L1043.2,1250.25 L1043.9,1243.28 L1044.6,1231.6 L1045.3,1249.2 L1046,1224.78 L1046.7,1245.55 L1047.4,1239.54 L1048.1,1249.02 L1048.8,1224.1 L1049.5,1215.7 L1050.2,1239.69 L1050.9,1236.78 L1051.6,1241.79 L1052.3,1216.92 L1053,1246.94 L1053.7,1216.4 L1054.4,1234.57 L1055.1,1213.41 L1055.8,1226.49 L1056.5,1219.38 L1057.2,1213.82 L1057.9,1241.67 L1058.6,1244.52 L1059.3,1236.22 L1060,1249.38 L1060.7,1253.74 L1061.4,1258.98 L1062.1,1271.48 L1062.8,1269.86 L1063.5,1261.36 L1064.2,1285.62 L1064.9,1291.9 L1065.6,1303.33 L1066.3,1315.86 L1067,1336.43 L1067.7,1339.29 L1068.4,1346.65 L1069.1,1357.72 L1069.8,1346.82 L1070.5,1356.28 L1071.2,1362.96 L1071.9,1371.11 L1072.6,1376.11 L1073.3,1374.99 L1074,1385.86 L1074.7,1383.1 L1075.4,1378.9 L1076.1,1382.38 L1076.8,1384.95 L1077.5,1389.64 L1078.2,1391.73 L1078.9,1392.29 L1079.6,1394.58 L1080.3,1396.79 L1081,1395.13 L1081.7,1394.57 L1082.4,1396.25 L1083.1,1397 L1083.8,1397 L1083.8,1397 Z" fill="#f07b81" clip-path="url(#cl13a)"/>
<path d="M952,1397 L952.2,1396.91 L952.9,1395.09 L953.6,1396.3 L954.3,1395.73 L955,1396.48 L955.7,1396.98 L956.4,1396.59 L957.1,1394.72 L957.8,1394.89 L958.5,1395.79 L959.2,1394.83 L959.9,1397 L960.6,1393.03 L961.3,1396.34 L962,1397 L962.7,1395.19 L963.4,1396.5 L964.1,1394.16 L964.8,1394.22 L965.5,1397 L966.2,1397 L966.9,1396.27 L967.6,1396.27 L968.3,1394.86 L969,1395.12 L969.7,1393.09 L970.4,1393.46 L971.1,1393.2 L971.8,1393.97 L972.5,1392.8 L973.2,1392.55 L973.9,1394.67 L974.6,1393.01 L975.3,1393.6 L976,1394.48 L976.7,1394.49 L977.4,1390.79 L978.1,1395.71 L978.8,1395.48 L979.5,1390.78 L980.2,1395.58 L980.9,1394.84 L981.6,1395.14 L982.3,1393.93 L983,1393.39 L983.7,1390.75 L984.4,1390.95 L985.1,1390.99 L985.8,1394.5 L986.5,1392.72 L987.2,1391.46 L987.9,1391.38 L988.6,1391.84 L989.3,1389.18 L990,1392.92 L990.7,1390.05 L991.4,1396.64 L992.1,1389.64 L992.8,1390.47 L993.5,1391.1 L994.2,1389.06 L994.9,1390.67 L995.6,1388.52 L996.3,1384.41 L997,1388.17 L997.7,1385.69 L998.4,1383.1 L999.1,1383.69 L999.8,1385.2 L1000.5,1382.26 L1001.2,1385.3 L1001.9,1380.24 L1002.6,1377.94 L1003.3,1377.58 L1004,1381.33 L1004.7,1379.09 L1005.4,1385.56 L1006.1,1374.75 L1006.8,1372.24 L1007.5,1371.14 L1008.2,1377.83 L1008.9,1375.12 L1009.6,1371.13 L1010.3,1369.33 L1011,1371.35 L1011.7,1374.18 L1012.4,1366.1 L1013.1,1371.96 L1013.8,1374.48 L1014.5,1371.07 L1015.2,1365.88 L1015.9,1365.3 L1016.6,1369.37 L1017.3,1365.19 L1018,1360.15 L1018.7,1360.97 L1019.4,1362.48 L1020.1,1368.63 L1020.8,1363.93 L1021.5,1353.36 L1022.2,1357.37 L1022.9,1345.53 L1023.6,1346.76 L1024.3,1351.44 L1025,1351.75 L1025.7,1348.84 L1026.4,1344.21 L1027.1,1348.54 L1027.8,1360.98 L1028.5,1336.12 L1029.2,1344.38 L1029.9,1336.67 L1030.6,1335.75 L1031.3,1326.38 L1032,1327.68 L1032.7,1321.18 L1033.4,1307.42 L1034.1,1304.45 L1034.8,1314.2 L1035.5,1300.9 L1036.2,1296.9 L1036.9,1303.06 L1037.6,1272.39 L1038.3,1280.97 L1039,1277.15 L1039.7,1272.14 L1040.4,1270.51 L1041.1,1256.09 L1041.8,1262.63 L1042.5,1257.39 L1043.2,1250.25 L1043.9,1243.28 L1044.6,1231.6 L1045.3,1249.2 L1046,1224.78 L1046.7,1245.55 L1047.4,1239.54 L1048.1,1249.02 L1048.8,1224.1 L1049.5,1215.7 L1050.2,1239.69 L1050.9,1236.78 L1051.6,1241.79 L1052.3,1216.92 L1053,1246.94 L1053.7,1216.4 L1054.4,1234.57 L1055.1,1213.41 L1055.8,1226.49 L1056.5,1219.38 L1057.2,1213.82 L1057.9,1241.67 L1058.6,1244.52 L1059.3,1236.22 L1060,1249.38 L1060.7,1253.74 L1061.4,1258.98 L1062.1,1271.48 L1062.8,1269.86 L1063.5,1261.36 L1064.2,1285.62 L1064.9,1291.9 L1065.6,1303.33 L1066.3,1315.86 L1067,1336.43 L1067.7,1339.29 L1068.4,1346.65 L1069.1,1357.72 L1069.8,1346.82 L1070.5,1356.28 L1071.2,1362.96 L1071.9,1371.11 L1072.6,1376.11 L1073.3,1374.99 L1074,1385.86 L1074.7,1383.1 L1075.4,1378.9 L1076.1,1382.38 L1076.8,1384.95 L1077.5,1389.64 L1078.2,1391.73 L1078.9,1392.29 L1079.6,1394.58 L1080.3,1396.79 L1081,1395.13 L1081.7,1394.57 L1082.4,1396.25 L1083.1,1397 L1083.8,1397 L1083.8,1397 Z" fill="#f83a3f" clip-path="url(#cl13b)"/>
<path d="M952,1397 L952.2,1396.91 L952.9,1395.09 L953.6,1396.3 L954.3,1395.73 L955,1396.48 L955.7,1396.98 L956.4,1396.59 L957.1,1394.72 L957.8,1394.89 L958.5,1395.79 L959.2,1394.83 L959.9,1397 L960.6,1393.03 L961.3,1396.34 L962,1397 L962.7,1395.19 L963.4,1396.5 L964.1,1394.16 L964.8,1394.22 L965.5,1397 L966.2,1397 L966.9,1396.27 L967.6,1396.27 L968.3,1394.86 L969,1395.12 L969.7,1393.09 L970.4,1393.46 L971.1,1393.2 L971.8,1393.97 L972.5,1392.8 L973.2,1392.55 L973.9,1394.67 L974.6,1393.01 L975.3,1393.6 L976,1394.48 L976.7,1394.49 L977.4,1390.79 L978.1,1395.71 L978.8,1395.48 L979.5,1390.78 L980.2,1395.58 L980.9,1394.84 L981.6,1395.14 L982.3,1393.93 L983,1393.39 L983.7,1390.75 L984.4,1390.95 L985.1,1390.99 L985.8,1394.5 L986.5,1392.72 L987.2,1391.46 L987.9,1391.38 L988.6,1391.84 L989.3,1389.18 L990,1392.92 L990.7,1390.05 L991.4,1396.64 L992.1,1389.64 L992.8,1390.47 L993.5,1391.1 L994.2,1389.06 L994.9,1390.67 L995.6,1388.52 L996.3,1384.41 L997,1388.17 L997.7,1385.69 L998.4,1383.1 L999.1,1383.69 L999.8,1385.2 L1000.5,1382.26 L1001.2,1385.3 L1001.9,1380.24 L1002.6,1377.94 L1003.3,1377.58 L1004,1381.33 L1004.7,1379.09 L1005.4,1385.56 L1006.1,1374.75 L1006.8,1372.24 L1007.5,1371.14 L1008.2,1377.83 L1008.9,1375.12 L1009.6,1371.13 L1010.3,1369.33 L1011,1371.35 L1011.7,1374.18 L1012.4,1366.1 L1013.1,1371.96 L1013.8,1374.48 L1014.5,1371.07 L1015.2,1365.88 L1015.9,1365.3 L1016.6,1369.37 L1017.3,1365.19 L1018,1360.15 L1018.7,1360.97 L1019.4,1362.48 L1020.1,1368.63 L1020.8,1363.93 L1021.5,1353.36 L1022.2,1357.37 L1022.9,1345.53 L1023.6,1346.76 L1024.3,1351.44 L1025,1351.75 L1025.7,1348.84 L1026.4,1344.21 L1027.1,1348.54 L1027.8,1360.98 L1028.5,1336.12 L1029.2,1344.38 L1029.9,1336.67 L1030.6,1335.75 L1031.3,1326.38 L1032,1327.68 L1032.7,1321.18 L1033.4,1307.42 L1034.1,1304.45 L1034.8,1314.2 L1035.5,1300.9 L1036.2,1296.9 L1036.9,1303.06 L1037.6,1272.39 L1038.3,1280.97 L1039,1277.15 L1039.7,1272.14 L1040.4,1270.51 L1041.1,1256.09 L1041.8,1262.63 L1042.5,1257.39 L1043.2,1250.25 L1043.9,1243.28 L1044.6,1231.6 L1045.3,1249.2 L1046,1224.78 L1046.7,1245.55 L1047.4,1239.54 L1048.1,1249.02 L1048.8,1224.1 L1049.5,1215.7 L1050.2,1239.69 L1050.9,1236.78 L1051.6,1241.79 L1052.3,1216.92 L1053,1246.94 L1053.7,1216.4 L1054.4,1234.57 L1055.1,1213.41 L1055.8,1226.49 L1056.5,1219.38 L1057.2,1213.82 L1057.9,1241.67 L1058.6,1244.52 L1059.3,1236.22 L1060,1249.38 L1060.7,1253.74 L1061.4,1258.98 L1062.1,1271.48 L1062.8,1269.86 L1063.5,1261.36 L1064.2,1285.62 L1064.9,1291.9 L1065.6,1303.33 L1066.3,1315.86 L1067,1336.43 L1067.7,1339.29 L1068.4,1346.65 L1069.1,1357.72 L1069.8,1346.82 L1070.5,1356.28 L1071.2,1362.96 L1071.9,1371.11 L1072.6,1376.11 L1073.3,1374.99 L1074,1385.86 L1074.7,1383.1 L1075.4,1378.9 L1076.1,1382.38 L1076.8,1384.95 L1077.5,1389.64 L1078.2,1391.73 L1078.9,1392.29 L1079.6,1394.58 L1080.3,1396.79 L1081,1395.13 L1081.7,1394.57 L1082.4,1396.25 L1083.1,1397 L1083.8,1397" fill="none" stroke="#ff1c1c" stroke-width="0.9" stroke-linejoin="miter"/>
<line x1="1063" y1="1261.36" x2="1063" y2="1397" stroke="#ff2020" stroke-width="1.3" />
<line x1="951.9" y1="1192" x2="951.9" y2="1397" stroke="#e01818" stroke-width="1" />
<rect x="951" y="1183.2" width="214.4" height="213.8" fill="none" stroke="#222" stroke-width="1.1" />
<line x1="1063" y1="1211.5" x2="1158" y2="1211.5" stroke="#f53333" stroke-width="1.3" />
<line x1="1063" y1="1206.5" x2="1063" y2="1217" stroke="#f53333" stroke-width="1.3" />
<line x1="1158" y1="1206.5" x2="1158" y2="1217" stroke="#f53333" stroke-width="1.3" />
<text x="1062.5" y="1199" font-size="11.2" text-anchor="start" fill="#f03030" >P2(10.14%)</text>
<text x="1051.7" y="1178.2" font-size="11" text-anchor="middle" fill="#222" >shBMAL1+NOB : P1</text>
<line x1="947" y1="1397" x2="951" y2="1397" stroke="#222" stroke-width="0.9" />
<line x1="948.4" y1="1381.06" x2="951" y2="1381.06" stroke="#222" stroke-width="0.9" />
<line x1="948.4" y1="1365.12" x2="951" y2="1365.12" stroke="#222" stroke-width="0.9" />
<line x1="948.4" y1="1349.18" x2="951" y2="1349.18" stroke="#222" stroke-width="0.9" />
<line x1="948.4" y1="1333.24" x2="951" y2="1333.24" stroke="#222" stroke-width="0.9" />
<line x1="947" y1="1317.3" x2="951" y2="1317.3" stroke="#222" stroke-width="0.9" />
<line x1="948.4" y1="1301.36" x2="951" y2="1301.36" stroke="#222" stroke-width="0.9" />
<line x1="948.4" y1="1285.42" x2="951" y2="1285.42" stroke="#222" stroke-width="0.9" />
<line x1="948.4" y1="1269.48" x2="951" y2="1269.48" stroke="#222" stroke-width="0.9" />
<line x1="948.4" y1="1253.54" x2="951" y2="1253.54" stroke="#222" stroke-width="0.9" />
<line x1="947" y1="1237.6" x2="951" y2="1237.6" stroke="#222" stroke-width="0.9" />
<line x1="948.4" y1="1221.66" x2="951" y2="1221.66" stroke="#222" stroke-width="0.9" />
<line x1="948.4" y1="1205.72" x2="951" y2="1205.72" stroke="#222" stroke-width="0.9" />
<line x1="948.4" y1="1189.78" x2="951" y2="1189.78" stroke="#222" stroke-width="0.9" />
<text transform="translate(941.5,1397) rotate(-90)" font-size="11" text-anchor="middle" fill="#222" >0</text>
<text transform="translate(941.5,1317.3) rotate(-90)" font-size="11" text-anchor="middle" fill="#222" >100</text>
<text transform="translate(941.5,1237.6) rotate(-90)" font-size="11" text-anchor="middle" fill="#222" >200</text>
<text transform="translate(926,1294.1) rotate(-90)" font-size="11" text-anchor="middle" fill="#222" >Count</text>
<line x1="951.82" y1="1397" x2="951.82" y2="1399.8" stroke="#222" stroke-width="0.9" />
<line x1="955.76" y1="1397" x2="955.76" y2="1399.8" stroke="#222" stroke-width="0.9" />
<line x1="959.09" y1="1397" x2="959.09" y2="1399.8" stroke="#222" stroke-width="0.9" />
<line x1="961.98" y1="1397" x2="961.98" y2="1399.8" stroke="#222" stroke-width="0.9" />
<line x1="964.52" y1="1397" x2="964.52" y2="1399.8" stroke="#222" stroke-width="0.9" />
<line x1="966.8" y1="1397" x2="966.8" y2="1402" stroke="#222" stroke-width="0.9" />
<line x1="981.78" y1="1397" x2="981.78" y2="1399.8" stroke="#222" stroke-width="0.9" />
<line x1="990.54" y1="1397" x2="990.54" y2="1399.8" stroke="#222" stroke-width="0.9" />
<line x1="996.75" y1="1397" x2="996.75" y2="1399.8" stroke="#222" stroke-width="0.9" />
<line x1="1001.57" y1="1397" x2="1001.57" y2="1399.8" stroke="#222" stroke-width="0.9" />
<line x1="1005.51" y1="1397" x2="1005.51" y2="1399.8" stroke="#222" stroke-width="0.9" />
<line x1="1008.84" y1="1397" x2="1008.84" y2="1399.8" stroke="#222" stroke-width="0.9" />
<line x1="1011.73" y1="1397" x2="1011.73" y2="1399.8" stroke="#222" stroke-width="0.9" />
<line x1="1014.27" y1="1397" x2="1014.27" y2="1399.8" stroke="#222" stroke-width="0.9" />
<line x1="1016.55" y1="1397" x2="1016.55" y2="1402" stroke="#222" stroke-width="0.9" />
<line x1="1031.53" y1="1397" x2="1031.53" y2="1399.8" stroke="#222" stroke-width="0.9" />
<line x1="1040.29" y1="1397" x2="1040.29" y2="1399.8" stroke="#222" stroke-width="0.9" />
<line x1="1046.5" y1="1397" x2="1046.5" y2="1399.8" stroke="#222" stroke-width="0.9" />
<line x1="1051.32" y1="1397" x2="1051.32" y2="1399.8" stroke="#222" stroke-width="0.9" />
<line x1="1055.26" y1="1397" x2="1055.26" y2="1399.8" stroke="#222" stroke-width="0.9" />
<line x1="1058.59" y1="1397" x2="1058.59" y2="1399.8" stroke="#222" stroke-width="0.9" />
<line x1="1061.48" y1="1397" x2="1061.48" y2="1399.8" stroke="#222" stroke-width="0.9" />
<line x1="1064.02" y1="1397" x2="1064.02" y2="1399.8" stroke="#222" stroke-width="0.9" />
<line x1="1066.3" y1="1397" x2="1066.3" y2="1402" stroke="#222" stroke-width="0.9" />
<line x1="1081.28" y1="1397" x2="1081.28" y2="1399.8" stroke="#222" stroke-width="0.9" />
<line x1="1090.04" y1="1397" x2="1090.04" y2="1399.8" stroke="#222" stroke-width="0.9" />
<line x1="1096.25" y1="1397" x2="1096.25" y2="1399.8" stroke="#222" stroke-width="0.9" />
<line x1="1101.07" y1="1397" x2="1101.07" y2="1399.8" stroke="#222" stroke-width="0.9" />
<line x1="1105.01" y1="1397" x2="1105.01" y2="1399.8" stroke="#222" stroke-width="0.9" />
<line x1="1108.34" y1="1397" x2="1108.34" y2="1399.8" stroke="#222" stroke-width="0.9" />
<line x1="1111.23" y1="1397" x2="1111.23" y2="1399.8" stroke="#222" stroke-width="0.9" />
<line x1="1113.77" y1="1397" x2="1113.77" y2="1399.8" stroke="#222" stroke-width="0.9" />
<line x1="1116.05" y1="1397" x2="1116.05" y2="1402" stroke="#222" stroke-width="0.9" />
<line x1="1131.03" y1="1397" x2="1131.03" y2="1399.8" stroke="#222" stroke-width="0.9" />
<line x1="1139.79" y1="1397" x2="1139.79" y2="1399.8" stroke="#222" stroke-width="0.9" />
<line x1="1146" y1="1397" x2="1146" y2="1399.8" stroke="#222" stroke-width="0.9" />
<line x1="1150.82" y1="1397" x2="1150.82" y2="1399.8" stroke="#222" stroke-width="0.9" />
<line x1="1154.76" y1="1397" x2="1154.76" y2="1399.8" stroke="#222" stroke-width="0.9" />
<line x1="1158.09" y1="1397" x2="1158.09" y2="1399.8" stroke="#222" stroke-width="0.9" />
<line x1="1160.98" y1="1397" x2="1160.98" y2="1399.8" stroke="#222" stroke-width="0.9" />
<line x1="1163.52" y1="1397" x2="1163.52" y2="1399.8" stroke="#222" stroke-width="0.9" />
<text x="965.6" y="1415.3" font-size="11" text-anchor="middle" fill="#222" >10<tspan font-size="7.5" dy="-4.2">1</tspan></text>
<text x="1015.35" y="1415.3" font-size="11" text-anchor="middle" fill="#222" >10<tspan font-size="7.5" dy="-4.2">2</tspan></text>
<text x="1065.1" y="1415.3" font-size="11" text-anchor="middle" fill="#222" >10<tspan font-size="7.5" dy="-4.2">3</tspan></text>
<text x="1114.85" y="1415.3" font-size="11" text-anchor="middle" fill="#222" >10<tspan font-size="7.5" dy="-4.2">4</tspan></text>
<text x="1164.6" y="1415.3" font-size="11" text-anchor="middle" fill="#222" >10<tspan font-size="7.5" dy="-4.2">5</tspan></text>
<text x="1058.2" y="1430" font-size="11" text-anchor="middle" fill="#222" >CD86 APC-A</text>
<clipPath id="cl20a"><rect x="122.8" y="1418.3" width="114.7" height="254"/></clipPath>
<clipPath id="cl20b"><rect x="237.5" y="1418.3" width="99.8" height="254"/></clipPath>
<path d="M123.8,1672.3 L124,1670.12 L124.7,1672.3 L125.4,1671.22 L126.1,1668.46 L126.8,1671.36 L127.5,1670.58 L128.2,1668.47 L128.9,1668.7 L129.6,1669.22 L130.3,1667.98 L131,1671.95 L131.7,1668.28 L132.4,1667.49 L133.1,1668.11 L133.8,1669.86 L134.5,1670.75 L135.2,1668.87 L135.9,1668.84 L136.6,1668.68 L137.3,1667.56 L138,1667.05 L138.7,1666.68 L139.4,1667.17 L140.1,1666.38 L140.8,1666.3 L141.5,1664.57 L142.2,1665.87 L142.9,1668.63 L143.6,1670.5 L144.3,1670.06 L145,1667.83 L145.7,1669.12 L146.4,1669.67 L147.1,1665.02 L147.8,1668.11 L148.5,1668.83 L149.2,1669.93 L149.9,1667.21 L150.6,1666.04 L151.3,1666.25 L152,1667.37 L152.7,1666.02 L153.4,1665.91 L154.1,1666.13 L154.8,1664.47 L155.5,1663.99 L156.2,1666.76 L156.9,1663.93 L157.6,1665.92 L158.3,1661.24 L159,1664.14 L159.7,1663.28 L160.4,1667.43 L161.1,1659 L161.8,1663.32 L162.5,1659.13 L163.2,1661.57 L163.9,1653.48 L164.6,1664.28 L165.3,1654.98 L166,1660.28 L166.7,1658.77 L167.4,1664.79 L168.1,1657.98 L168.8,1656.57 L169.5,1658.04 L170.2,1646.19 L170.9,1649.42 L171.6,1659.26 L172.3,1652.2 L173,1654.96 L173.7,1653.34 L174.4,1659.46 L175.1,1648.88 L175.8,1651.14 L176.5,1661.73 L177.2,1656.1 L177.9,1647.2 L178.6,1655.12 L179.3,1650.15 L180,1651.18 L180.7,1651.36 L181.4,1644.31 L182.1,1643.36 L182.8,1646.19 L183.5,1644.7 L184.2,1649.55 L184.9,1642.66 L185.6,1646.03 L186.3,1637.71 L187,1641.71 L187.7,1641.84 L188.4,1632.92 L189.1,1630.77 L189.8,1640.55 L190.5,1623.03 L191.2,1636.9 L191.9,1630.82 L192.6,1634.87 L193.3,1626.46 L194,1627.76 L194.7,1621.63 L195.4,1621.14 L196.1,1610.81 L196.8,1606.76 L197.5,1604.43 L198.2,1608.9 L198.9,1612.46 L199.6,1609.58 L200.3,1608.96 L201,1610.21 L201.7,1601.27 L202.4,1604.01 L203.1,1608.38 L203.8,1592.31 L204.5,1589.85 L205.2,1588.96 L205.9,1593.64 L206.6,1590.6 L207.3,1580.74 L208,1573.07 L208.7,1563.27 L209.4,1563.93 L210.1,1571.6 L210.8,1542.05 L211.5,1561.03 L212.2,1544.38 L212.9,1534.71 L213.6,1541.29 L214.3,1527.26 L215,1544.28 L215.7,1533.81 L216.4,1529.03 L217.1,1515.45 L217.8,1515.45 L218.5,1512.43 L219.2,1493.55 L219.9,1504.79 L220.6,1500.82 L221.3,1499.57 L222,1515.46 L222.7,1488.67 L223.4,1492.28 L224.1,1500.02 L224.8,1501.8 L225.5,1503.68 L226.2,1492.05 L226.9,1494.66 L227.6,1508.36 L228.3,1500.19 L229,1518.81 L229.7,1506.06 L230.4,1510.25 L231.1,1520.04 L231.8,1527.82 L232.5,1534.8 L233.2,1530.88 L233.9,1544.89 L234.6,1553.18 L235.3,1562.34 L236,1577.03 L236.7,1587.2 L237.4,1588.7 L238.1,1609.65 L238.8,1610.18 L239.5,1626.57 L240.2,1626.81 L240.9,1639.73 L241.6,1645.29 L242.3,1651.98 L243,1653.85 L243.7,1653.87 L244.4,1649.51 L245.1,1664.45 L245.8,1661.17 L246.5,1659.41 L247.2,1659.52 L247.9,1661.48 L248.6,1669.06 L249.3,1667.75 L250,1667.21 L250.7,1670.62 L251.4,1671.68 L252.1,1672.3 L252.8,1672.3 L252.8,1672.3 Z" fill="#f07b81" clip-path="url(#cl20a)"/>
<path d="M123.8,1672.3 L124,1670.12 L124.7,1672.3 L125.4,1671.22 L126.1,1668.46 L126.8,1671.36 L127.5,1670.58 L128.2,1668.47 L128.9,1668.7 L129.6,1669.22 L130.3,1667.98 L131,1671.95 L131.7,1668.28 L132.4,1667.49 L133.1,1668.11 L133.8,1669.86 L134.5,1670.75 L135.2,1668.87 L135.9,1668.84 L136.6,1668.68 L137.3,1667.56 L138,1667.05 L138.7,1666.68 L139.4,1667.17 L140.1,1666.38 L140.8,1666.3 L141.5,1664.57 L142.2,1665.87 L142.9,1668.63 L143.6,1670.5 L144.3,1670.06 L145,1667.83 L145.7,1669.12 L146.4,1669.67 L147.1,1665.02 L147.8,1668.11 L148.5,1668.83 L149.2,1669.93 L149.9,1667.21 L150.6,1666.04 L151.3,1666.25 L152,1667.37 L152.7,1666.02 L153.4,1665.91 L154.1,1666.13 L154.8,1664.47 L155.5,1663.99 L156.2,1666.76 L156.9,1663.93 L157.6,1665.92 L158.3,1661.24 L159,1664.14 L159.7,1663.28 L160.4,1667.43 L161.1,1659 L161.8,1663.32 L162.5,1659.13 L163.2,1661.57 L163.9,1653.48 L164.6,1664.28 L165.3,1654.98 L166,1660.28 L166.7,1658.77 L167.4,1664.79 L168.1,1657.98 L168.8,1656.57 L169.5,1658.04 L170.2,1646.19 L170.9,1649.42 L171.6,1659.26 L172.3,1652.2 L173,1654.96 L173.7,1653.34 L174.4,1659.46 L175.1,1648.88 L175.8,1651.14 L176.5,1661.73 L177.2,1656.1 L177.9,1647.2 L178.6,1655.12 L179.3,1650.15 L180,1651.18 L180.7,1651.36 L181.4,1644.31 L182.1,1643.36 L182.8,1646.19 L183.5,1644.7 L184.2,1649.55 L184.9,1642.66 L185.6,1646.03 L186.3,1637.71 L187,1641.71 L187.7,1641.84 L188.4,1632.92 L189.1,1630.77 L189.8,1640.55 L190.5,1623.03 L191.2,1636.9 L191.9,1630.82 L192.6,1634.87 L193.3,1626.46 L194,1627.76 L194.7,1621.63 L195.4,1621.14 L196.1,1610.81 L196.8,1606.76 L197.5,1604.43 L198.2,1608.9 L198.9,1612.46 L199.6,1609.58 L200.3,1608.96 L201,1610.21 L201.7,1601.27 L202.4,1604.01 L203.1,1608.38 L203.8,1592.31 L204.5,1589.85 L205.2,1588.96 L205.9,1593.64 L206.6,1590.6 L207.3,1580.74 L208,1573.07 L208.7,1563.27 L209.4,1563.93 L210.1,1571.6 L210.8,1542.05 L211.5,1561.03 L212.2,1544.38 L212.9,1534.71 L213.6,1541.29 L214.3,1527.26 L215,1544.28 L215.7,1533.81 L216.4,1529.03 L217.1,1515.45 L217.8,1515.45 L218.5,1512.43 L219.2,1493.55 L219.9,1504.79 L220.6,1500.82 L221.3,1499.57 L222,1515.46 L222.7,1488.67 L223.4,1492.28 L224.1,1500.02 L224.8,1501.8 L225.5,1503.68 L226.2,1492.05 L226.9,1494.66 L227.6,1508.36 L228.3,1500.19 L229,1518.81 L229.7,1506.06 L230.4,1510.25 L231.1,1520.04 L231.8,1527.82 L232.5,1534.8 L233.2,1530.88 L233.9,1544.89 L234.6,1553.18 L235.3,1562.34 L236,1577.03 L236.7,1587.2 L237.4,1588.7 L238.1,1609.65 L238.8,1610.18 L239.5,1626.57 L240.2,1626.81 L240.9,1639.73 L241.6,1645.29 L242.3,1651.98 L243,1653.85 L243.7,1653.87 L244.4,1649.51 L245.1,1664.45 L245.8,1661.17 L246.5,1659.41 L247.2,1659.52 L247.9,1661.48 L248.6,1669.06 L249.3,1667.75 L250,1667.21 L250.7,1670.62 L251.4,1671.68 L252.1,1672.3 L252.8,1672.3 L252.8,1672.3 Z" fill="#f83a3f" clip-path="url(#cl20b)"/>
<path d="M123.8,1672.3 L124,1670.12 L124.7,1672.3 L125.4,1671.22 L126.1,1668.46 L126.8,1671.36 L127.5,1670.58 L128.2,1668.47 L128.9,1668.7 L129.6,1669.22 L130.3,1667.98 L131,1671.95 L131.7,1668.28 L132.4,1667.49 L133.1,1668.11 L133.8,1669.86 L134.5,1670.75 L135.2,1668.87 L135.9,1668.84 L136.6,1668.68 L137.3,1667.56 L138,1667.05 L138.7,1666.68 L139.4,1667.17 L140.1,1666.38 L140.8,1666.3 L141.5,1664.57 L142.2,1665.87 L142.9,1668.63 L143.6,1670.5 L144.3,1670.06 L145,1667.83 L145.7,1669.12 L146.4,1669.67 L147.1,1665.02 L147.8,1668.11 L148.5,1668.83 L149.2,1669.93 L149.9,1667.21 L150.6,1666.04 L151.3,1666.25 L152,1667.37 L152.7,1666.02 L153.4,1665.91 L154.1,1666.13 L154.8,1664.47 L155.5,1663.99 L156.2,1666.76 L156.9,1663.93 L157.6,1665.92 L158.3,1661.24 L159,1664.14 L159.7,1663.28 L160.4,1667.43 L161.1,1659 L161.8,1663.32 L162.5,1659.13 L163.2,1661.57 L163.9,1653.48 L164.6,1664.28 L165.3,1654.98 L166,1660.28 L166.7,1658.77 L167.4,1664.79 L168.1,1657.98 L168.8,1656.57 L169.5,1658.04 L170.2,1646.19 L170.9,1649.42 L171.6,1659.26 L172.3,1652.2 L173,1654.96 L173.7,1653.34 L174.4,1659.46 L175.1,1648.88 L175.8,1651.14 L176.5,1661.73 L177.2,1656.1 L177.9,1647.2 L178.6,1655.12 L179.3,1650.15 L180,1651.18 L180.7,1651.36 L181.4,1644.31 L182.1,1643.36 L182.8,1646.19 L183.5,1644.7 L184.2,1649.55 L184.9,1642.66 L185.6,1646.03 L186.3,1637.71 L187,1641.71 L187.7,1641.84 L188.4,1632.92 L189.1,1630.77 L189.8,1640.55 L190.5,1623.03 L191.2,1636.9 L191.9,1630.82 L192.6,1634.87 L193.3,1626.46 L194,1627.76 L194.7,1621.63 L195.4,1621.14 L196.1,1610.81 L196.8,1606.76 L197.5,1604.43 L198.2,1608.9 L198.9,1612.46 L199.6,1609.58 L200.3,1608.96 L201,1610.21 L201.7,1601.27 L202.4,1604.01 L203.1,1608.38 L203.8,1592.31 L204.5,1589.85 L205.2,1588.96 L205.9,1593.64 L206.6,1590.6 L207.3,1580.74 L208,1573.07 L208.7,1563.27 L209.4,1563.93 L210.1,1571.6 L210.8,1542.05 L211.5,1561.03 L212.2,1544.38 L212.9,1534.71 L213.6,1541.29 L214.3,1527.26 L215,1544.28 L215.7,1533.81 L216.4,1529.03 L217.1,1515.45 L217.8,1515.45 L218.5,1512.43 L219.2,1493.55 L219.9,1504.79 L220.6,1500.82 L221.3,1499.57 L222,1515.46 L222.7,1488.67 L223.4,1492.28 L224.1,1500.02 L224.8,1501.8 L225.5,1503.68 L226.2,1492.05 L226.9,1494.66 L227.6,1508.36 L228.3,1500.19 L229,1518.81 L229.7,1506.06 L230.4,1510.25 L231.1,1520.04 L231.8,1527.82 L232.5,1534.8 L233.2,1530.88 L233.9,1544.89 L234.6,1553.18 L235.3,1562.34 L236,1577.03 L236.7,1587.2 L237.4,1588.7 L238.1,1609.65 L238.8,1610.18 L239.5,1626.57 L240.2,1626.81 L240.9,1639.73 L241.6,1645.29 L242.3,1651.98 L243,1653.85 L243.7,1653.87 L244.4,1649.51 L245.1,1664.45 L245.8,1661.17 L246.5,1659.41 L247.2,1659.52 L247.9,1661.48 L248.6,1669.06 L249.3,1667.75 L250,1667.21 L250.7,1670.62 L251.4,1671.68 L252.1,1672.3 L252.8,1672.3" fill="none" stroke="#ff1c1c" stroke-width="0.9" stroke-linejoin="miter"/>
<line x1="237.5" y1="1609.65" x2="237.5" y2="1672.3" stroke="#ff2020" stroke-width="1.3" />
<line x1="123.7" y1="1468" x2="123.7" y2="1672.3" stroke="#e01818" stroke-width="1" />
<rect x="122.8" y="1458.3" width="214.5" height="214" fill="none" stroke="#222" stroke-width="1.1" />
<line x1="237.5" y1="1493" x2="329.3" y2="1493" stroke="#f53333" stroke-width="1.3" />
<line x1="237.5" y1="1488" x2="237.5" y2="1498.5" stroke="#f53333" stroke-width="1.3" />
<line x1="329.3" y1="1488" x2="329.3" y2="1498.5" stroke="#f53333" stroke-width="1.3" />
<text x="237" y="1480.5" font-size="11.2" text-anchor="start" fill="#f03030" >P2(4.12%)</text>
<text x="223.55" y="1453.3" font-size="11" text-anchor="middle" fill="#222" >ShNC : P1</text>
<line x1="118.8" y1="1672.3" x2="122.8" y2="1672.3" stroke="#222" stroke-width="0.9" />
<line x1="120.2" y1="1655.32" x2="122.8" y2="1655.32" stroke="#222" stroke-width="0.9" />
<line x1="120.2" y1="1638.34" x2="122.8" y2="1638.34" stroke="#222" stroke-width="0.9" />
<line x1="120.2" y1="1621.36" x2="122.8" y2="1621.36" stroke="#222" stroke-width="0.9" />
<line x1="120.2" y1="1604.38" x2="122.8" y2="1604.38" stroke="#222" stroke-width="0.9" />
<line x1="118.8" y1="1587.4" x2="122.8" y2="1587.4" stroke="#222" stroke-width="0.9" />
<line x1="120.2" y1="1570.42" x2="122.8" y2="1570.42" stroke="#222" stroke-width="0.9" />
<line x1="120.2" y1="1553.44" x2="122.8" y2="1553.44" stroke="#222" stroke-width="0.9" />
<line x1="120.2" y1="1536.46" x2="122.8" y2="1536.46" stroke="#222" stroke-width="0.9" />
<line x1="120.2" y1="1519.48" x2="122.8" y2="1519.48" stroke="#222" stroke-width="0.9" />
<line x1="118.8" y1="1502.5" x2="122.8" y2="1502.5" stroke="#222" stroke-width="0.9" />
<line x1="120.2" y1="1485.52" x2="122.8" y2="1485.52" stroke="#222" stroke-width="0.9" />
<line x1="120.2" y1="1468.54" x2="122.8" y2="1468.54" stroke="#222" stroke-width="0.9" />
<text transform="translate(113.3,1672.3) rotate(-90)" font-size="11" text-anchor="middle" fill="#222" >0</text>
<text transform="translate(113.3,1587.4) rotate(-90)" font-size="11" text-anchor="middle" fill="#222" >100</text>
<text transform="translate(113.3,1502.5) rotate(-90)" font-size="11" text-anchor="middle" fill="#222" >200</text>
<text transform="translate(97.8,1569.3) rotate(-90)" font-size="11" text-anchor="middle" fill="#222" >Count</text>
<line x1="122.72" y1="1672.3" x2="122.72" y2="1675.1" stroke="#222" stroke-width="0.9" />
<line x1="126.66" y1="1672.3" x2="126.66" y2="1675.1" stroke="#222" stroke-width="0.9" />
<line x1="129.99" y1="1672.3" x2="129.99" y2="1675.1" stroke="#222" stroke-width="0.9" />
<line x1="132.88" y1="1672.3" x2="132.88" y2="1675.1" stroke="#222" stroke-width="0.9" />
<line x1="135.42" y1="1672.3" x2="135.42" y2="1675.1" stroke="#222" stroke-width="0.9" />
<line x1="137.7" y1="1672.3" x2="137.7" y2="1677.3" stroke="#222" stroke-width="0.9" />
<line x1="152.68" y1="1672.3" x2="152.68" y2="1675.1" stroke="#222" stroke-width="0.9" />
<line x1="161.44" y1="1672.3" x2="161.44" y2="1675.1" stroke="#222" stroke-width="0.9" />
<line x1="167.65" y1="1672.3" x2="167.65" y2="1675.1" stroke="#222" stroke-width="0.9" />
<line x1="172.47" y1="1672.3" x2="172.47" y2="1675.1" stroke="#222" stroke-width="0.9" />
<line x1="176.41" y1="1672.3" x2="176.41" y2="1675.1" stroke="#222" stroke-width="0.9" />
<line x1="179.74" y1="1672.3" x2="179.74" y2="1675.1" stroke="#222" stroke-width="0.9" />
<line x1="182.63" y1="1672.3" x2="182.63" y2="1675.1" stroke="#222" stroke-width="0.9" />
<line x1="185.17" y1="1672.3" x2="185.17" y2="1675.1" stroke="#222" stroke-width="0.9" />
<line x1="187.45" y1="1672.3" x2="187.45" y2="1677.3" stroke="#222" stroke-width="0.9" />
<line x1="202.43" y1="1672.3" x2="202.43" y2="1675.1" stroke="#222" stroke-width="0.9" />
<line x1="211.19" y1="1672.3" x2="211.19" y2="1675.1" stroke="#222" stroke-width="0.9" />
<line x1="217.4" y1="1672.3" x2="217.4" y2="1675.1" stroke="#222" stroke-width="0.9" />
<line x1="222.22" y1="1672.3" x2="222.22" y2="1675.1" stroke="#222" stroke-width="0.9" />
<line x1="226.16" y1="1672.3" x2="226.16" y2="1675.1" stroke="#222" stroke-width="0.9" />
<line x1="229.49" y1="1672.3" x2="229.49" y2="1675.1" stroke="#222" stroke-width="0.9" />
<line x1="232.38" y1="1672.3" x2="232.38" y2="1675.1" stroke="#222" stroke-width="0.9" />
<line x1="234.92" y1="1672.3" x2="234.92" y2="1675.1" stroke="#222" stroke-width="0.9" />
<line x1="237.2" y1="1672.3" x2="237.2" y2="1677.3" stroke="#222" stroke-width="0.9" />
<line x1="252.18" y1="1672.3" x2="252.18" y2="1675.1" stroke="#222" stroke-width="0.9" />
<line x1="260.94" y1="1672.3" x2="260.94" y2="1675.1" stroke="#222" stroke-width="0.9" />
<line x1="267.15" y1="1672.3" x2="267.15" y2="1675.1" stroke="#222" stroke-width="0.9" />
<line x1="271.97" y1="1672.3" x2="271.97" y2="1675.1" stroke="#222" stroke-width="0.9" />
<line x1="275.91" y1="1672.3" x2="275.91" y2="1675.1" stroke="#222" stroke-width="0.9" />
<line x1="279.24" y1="1672.3" x2="279.24" y2="1675.1" stroke="#222" stroke-width="0.9" />
<line x1="282.13" y1="1672.3" x2="282.13" y2="1675.1" stroke="#222" stroke-width="0.9" />
<line x1="284.67" y1="1672.3" x2="284.67" y2="1675.1" stroke="#222" stroke-width="0.9" />
<line x1="286.95" y1="1672.3" x2="286.95" y2="1677.3" stroke="#222" stroke-width="0.9" />
<line x1="301.93" y1="1672.3" x2="301.93" y2="1675.1" stroke="#222" stroke-width="0.9" />
<line x1="310.69" y1="1672.3" x2="310.69" y2="1675.1" stroke="#222" stroke-width="0.9" />
<line x1="316.9" y1="1672.3" x2="316.9" y2="1675.1" stroke="#222" stroke-width="0.9" />
<line x1="321.72" y1="1672.3" x2="321.72" y2="1675.1" stroke="#222" stroke-width="0.9" />
<line x1="325.66" y1="1672.3" x2="325.66" y2="1675.1" stroke="#222" stroke-width="0.9" />
<line x1="328.99" y1="1672.3" x2="328.99" y2="1675.1" stroke="#222" stroke-width="0.9" />
<line x1="331.88" y1="1672.3" x2="331.88" y2="1675.1" stroke="#222" stroke-width="0.9" />
<line x1="334.42" y1="1672.3" x2="334.42" y2="1675.1" stroke="#222" stroke-width="0.9" />
<line x1="336.7" y1="1672.3" x2="336.7" y2="1677.3" stroke="#222" stroke-width="0.9" />
<text x="136.5" y="1690.6" font-size="11" text-anchor="middle" fill="#222" >10<tspan font-size="7.5" dy="-4.2">1</tspan></text>
<text x="186.25" y="1690.6" font-size="11" text-anchor="middle" fill="#222" >10<tspan font-size="7.5" dy="-4.2">2</tspan></text>
<text x="236" y="1690.6" font-size="11" text-anchor="middle" fill="#222" >10<tspan font-size="7.5" dy="-4.2">3</tspan></text>
<text x="285.75" y="1690.6" font-size="11" text-anchor="middle" fill="#222" >10<tspan font-size="7.5" dy="-4.2">4</tspan></text>
<text x="335.5" y="1690.6" font-size="11" text-anchor="middle" fill="#222" >10<tspan font-size="7.5" dy="-4.2">5</tspan></text>
<text x="230.05" y="1705.3" font-size="11" text-anchor="middle" fill="#222" >CD206 APC-A</text>
<clipPath id="cl21a"><rect x="401.3" y="1418.3" width="114.5" height="254"/></clipPath>
<clipPath id="cl21b"><rect x="515.8" y="1418.3" width="99.6" height="254"/></clipPath>
<path d="M402.3,1672.3 L402.5,1670.58 L403.2,1669.27 L403.9,1670.29 L404.6,1667.49 L405.3,1671.53 L406,1669.83 L406.7,1666.33 L407.4,1667.92 L408.1,1662.49 L408.8,1667.32 L409.5,1669.49 L410.2,1669.34 L410.9,1664.93 L411.6,1665.21 L412.3,1668.16 L413,1669.54 L413.7,1670.32 L414.4,1668.93 L415.1,1663.76 L415.8,1666.99 L416.5,1666.37 L417.2,1661.92 L417.9,1667.45 L418.6,1670.68 L419.3,1671.87 L420,1666.69 L420.7,1665.36 L421.4,1668.74 L422.1,1672.3 L422.8,1662.22 L423.5,1668.23 L424.2,1672.3 L424.9,1670.27 L425.6,1667.35 L426.3,1669.23 L427,1666.86 L427.7,1668.9 L428.4,1660.06 L429.1,1665.35 L429.8,1663.47 L430.5,1664.01 L431.2,1666.95 L431.9,1658.24 L432.6,1668.13 L433.3,1659.81 L434,1664.31 L434.7,1664.64 L435.4,1661.08 L436.1,1657.31 L436.8,1659.6 L437.5,1661.07 L438.2,1662.13 L438.9,1662.6 L439.6,1659.55 L440.3,1652.56 L441,1665.43 L441.7,1659.55 L442.4,1650.48 L443.1,1656.37 L443.8,1657.92 L444.5,1654.49 L445.2,1660.87 L445.9,1655.47 L446.6,1659.4 L447.3,1656.47 L448,1656.69 L448.7,1650.93 L449.4,1654.76 L450.1,1657.67 L450.8,1656.31 L451.5,1652.81 L452.2,1655.32 L452.9,1649.68 L453.6,1652.83 L454.3,1654.31 L455,1654.54 L455.7,1655.3 L456.4,1652.06 L457.1,1656.4 L457.8,1645.18 L458.5,1642.92 L459.2,1650.89 L459.9,1635.47 L460.6,1636.92 L461.3,1637.58 L462,1627.14 L462.7,1637.16 L463.4,1620.68 L464.1,1642.41 L464.8,1632.26 L465.5,1635.67 L466.2,1625.37 L466.9,1625.48 L467.6,1628.45 L468.3,1613.55 L469,1633.59 L469.7,1613.84 L470.4,1615.25 L471.1,1609.33 L471.8,1621.72 L472.5,1601.08 L473.2,1607.46 L473.9,1612.09 L474.6,1601.09 L475.3,1603.53 L476,1591.53 L476.7,1605.38 L477.4,1597.62 L478.1,1609.56 L478.8,1609.21 L479.5,1605.62 L480.2,1592.23 L480.9,1598.78 L481.6,1595.85 L482.3,1587.27 L483,1591.39 L483.7,1585.21 L484.4,1566.73 L485.1,1569.7 L485.8,1567.39 L486.5,1567.49 L487.2,1555.89 L487.9,1560.45 L488.6,1528.95 L489.3,1526.4 L490,1524.58 L490.7,1542.22 L491.4,1520.94 L492.1,1521.23 L492.8,1528.34 L493.5,1514.39 L494.2,1507.42 L494.9,1517.02 L495.6,1501.65 L496.3,1519.58 L497,1497.18 L497.7,1504.38 L498.4,1488.71 L499.1,1479.34 L499.8,1496.96 L500.5,1487.64 L501.2,1506.27 L501.9,1507.31 L502.6,1504.68 L503.3,1508.43 L504,1492.63 L504.7,1493.01 L505.4,1496.86 L506.1,1509.23 L506.8,1518.55 L507.5,1523.01 L508.2,1514.38 L508.9,1539.07 L509.6,1551.91 L510.3,1550.19 L511,1579.57 L511.7,1569.37 L512.4,1587.37 L513.1,1613.92 L513.8,1609.68 L514.5,1624.49 L515.2,1627.67 L515.9,1634.1 L516.6,1638.69 L517.3,1643.73 L518,1643.55 L518.7,1652.99 L519.4,1659.19 L520.1,1652.91 L520.8,1660.66 L521.5,1661.31 L522.2,1666.31 L522.9,1664.39 L523.6,1665.76 L524.3,1669.32 L525,1671.08 L525.7,1671.07 L526.4,1672.3 L527.1,1672.3 L527.1,1672.3 Z" fill="#f07b81" clip-path="url(#cl21a)"/>
<path d="M402.3,1672.3 L402.5,1670.58 L403.2,1669.27 L403.9,1670.29 L404.6,1667.49 L405.3,1671.53 L406,1669.83 L406.7,1666.33 L407.4,1667.92 L408.1,1662.49 L408.8,1667.32 L409.5,1669.49 L410.2,1669.34 L410.9,1664.93 L411.6,1665.21 L412.3,1668.16 L413,1669.54 L413.7,1670.32 L414.4,1668.93 L415.1,1663.76 L415.8,1666.99 L416.5,1666.37 L417.2,1661.92 L417.9,1667.45 L418.6,1670.68 L419.3,1671.87 L420,1666.69 L420.7,1665.36 L421.4,1668.74 L422.1,1672.3 L422.8,1662.22 L423.5,1668.23 L424.2,1672.3 L424.9,1670.27 L425.6,1667.35 L426.3,1669.23 L427,1666.86 L427.7,1668.9 L428.4,1660.06 L429.1,1665.35 L429.8,1663.47 L430.5,1664.01 L431.2,1666.95 L431.9,1658.24 L432.6,1668.13 L433.3,1659.81 L434,1664.31 L434.7,1664.64 L435.4,1661.08 L436.1,1657.31 L436.8,1659.6 L437.5,1661.07 L438.2,1662.13 L438.9,1662.6 L439.6,1659.55 L440.3,1652.56 L441,1665.43 L441.7,1659.55 L442.4,1650.48 L443.1,1656.37 L443.8,1657.92 L444.5,1654.49 L445.2,1660.87 L445.9,1655.47 L446.6,1659.4 L447.3,1656.47 L448,1656.69 L448.7,1650.93 L449.4,1654.76 L450.1,1657.67 L450.8,1656.31 L451.5,1652.81 L452.2,1655.32 L452.9,1649.68 L453.6,1652.83 L454.3,1654.31 L455,1654.54 L455.7,1655.3 L456.4,1652.06 L457.1,1656.4 L457.8,1645.18 L458.5,1642.92 L459.2,1650.89 L459.9,1635.47 L460.6,1636.92 L461.3,1637.58 L462,1627.14 L462.7,1637.16 L463.4,1620.68 L464.1,1642.41 L464.8,1632.26 L465.5,1635.67 L466.2,1625.37 L466.9,1625.48 L467.6,1628.45 L468.3,1613.55 L469,1633.59 L469.7,1613.84 L470.4,1615.25 L471.1,1609.33 L471.8,1621.72 L472.5,1601.08 L473.2,1607.46 L473.9,1612.09 L474.6,1601.09 L475.3,1603.53 L476,1591.53 L476.7,1605.38 L477.4,1597.62 L478.1,1609.56 L478.8,1609.21 L479.5,1605.62 L480.2,1592.23 L480.9,1598.78 L481.6,1595.85 L482.3,1587.27 L483,1591.39 L483.7,1585.21 L484.4,1566.73 L485.1,1569.7 L485.8,1567.39 L486.5,1567.49 L487.2,1555.89 L487.9,1560.45 L488.6,1528.95 L489.3,1526.4 L490,1524.58 L490.7,1542.22 L491.4,1520.94 L492.1,1521.23 L492.8,1528.34 L493.5,1514.39 L494.2,1507.42 L494.9,1517.02 L495.6,1501.65 L496.3,1519.58 L497,1497.18 L497.7,1504.38 L498.4,1488.71 L499.1,1479.34 L499.8,1496.96 L500.5,1487.64 L501.2,1506.27 L501.9,1507.31 L502.6,1504.68 L503.3,1508.43 L504,1492.63 L504.7,1493.01 L505.4,1496.86 L506.1,1509.23 L506.8,1518.55 L507.5,1523.01 L508.2,1514.38 L508.9,1539.07 L509.6,1551.91 L510.3,1550.19 L511,1579.57 L511.7,1569.37 L512.4,1587.37 L513.1,1613.92 L513.8,1609.68 L514.5,1624.49 L515.2,1627.67 L515.9,1634.1 L516.6,1638.69 L517.3,1643.73 L518,1643.55 L518.7,1652.99 L519.4,1659.19 L520.1,1652.91 L520.8,1660.66 L521.5,1661.31 L522.2,1666.31 L522.9,1664.39 L523.6,1665.76 L524.3,1669.32 L525,1671.08 L525.7,1671.07 L526.4,1672.3 L527.1,1672.3 L527.1,1672.3 Z" fill="#f83a3f" clip-path="url(#cl21b)"/>
<path d="M402.3,1672.3 L402.5,1670.58 L403.2,1669.27 L403.9,1670.29 L404.6,1667.49 L405.3,1671.53 L406,1669.83 L406.7,1666.33 L407.4,1667.92 L408.1,1662.49 L408.8,1667.32 L409.5,1669.49 L410.2,1669.34 L410.9,1664.93 L411.6,1665.21 L412.3,1668.16 L413,1669.54 L413.7,1670.32 L414.4,1668.93 L415.1,1663.76 L415.8,1666.99 L416.5,1666.37 L417.2,1661.92 L417.9,1667.45 L418.6,1670.68 L419.3,1671.87 L420,1666.69 L420.7,1665.36 L421.4,1668.74 L422.1,1672.3 L422.8,1662.22 L423.5,1668.23 L424.2,1672.3 L424.9,1670.27 L425.6,1667.35 L426.3,1669.23 L427,1666.86 L427.7,1668.9 L428.4,1660.06 L429.1,1665.35 L429.8,1663.47 L430.5,1664.01 L431.2,1666.95 L431.9,1658.24 L432.6,1668.13 L433.3,1659.81 L434,1664.31 L434.7,1664.64 L435.4,1661.08 L436.1,1657.31 L436.8,1659.6 L437.5,1661.07 L438.2,1662.13 L438.9,1662.6 L439.6,1659.55 L440.3,1652.56 L441,1665.43 L441.7,1659.55 L442.4,1650.48 L443.1,1656.37 L443.8,1657.92 L444.5,1654.49 L445.2,1660.87 L445.9,1655.47 L446.6,1659.4 L447.3,1656.47 L448,1656.69 L448.7,1650.93 L449.4,1654.76 L450.1,1657.67 L450.8,1656.31 L451.5,1652.81 L452.2,1655.32 L452.9,1649.68 L453.6,1652.83 L454.3,1654.31 L455,1654.54 L455.7,1655.3 L456.4,1652.06 L457.1,1656.4 L457.8,1645.18 L458.5,1642.92 L459.2,1650.89 L459.9,1635.47 L460.6,1636.92 L461.3,1637.58 L462,1627.14 L462.7,1637.16 L463.4,1620.68 L464.1,1642.41 L464.8,1632.26 L465.5,1635.67 L466.2,1625.37 L466.9,1625.48 L467.6,1628.45 L468.3,1613.55 L469,1633.59 L469.7,1613.84 L470.4,1615.25 L471.1,1609.33 L471.8,1621.72 L472.5,1601.08 L473.2,1607.46 L473.9,1612.09 L474.6,1601.09 L475.3,1603.53 L476,1591.53 L476.7,1605.38 L477.4,1597.62 L478.1,1609.56 L478.8,1609.21 L479.5,1605.62 L480.2,1592.23 L480.9,1598.78 L481.6,1595.85 L482.3,1587.27 L483,1591.39 L483.7,1585.21 L484.4,1566.73 L485.1,1569.7 L485.8,1567.39 L486.5,1567.49 L487.2,1555.89 L487.9,1560.45 L488.6,1528.95 L489.3,1526.4 L490,1524.58 L490.7,1542.22 L491.4,1520.94 L492.1,1521.23 L492.8,1528.34 L493.5,1514.39 L494.2,1507.42 L494.9,1517.02 L495.6,1501.65 L496.3,1519.58 L497,1497.18 L497.7,1504.38 L498.4,1488.71 L499.1,1479.34 L499.8,1496.96 L500.5,1487.64 L501.2,1506.27 L501.9,1507.31 L502.6,1504.68 L503.3,1508.43 L504,1492.63 L504.7,1493.01 L505.4,1496.86 L506.1,1509.23 L506.8,1518.55 L507.5,1523.01 L508.2,1514.38 L508.9,1539.07 L509.6,1551.91 L510.3,1550.19 L511,1579.57 L511.7,1569.37 L512.4,1587.37 L513.1,1613.92 L513.8,1609.68 L514.5,1624.49 L515.2,1627.67 L515.9,1634.1 L516.6,1638.69 L517.3,1643.73 L518,1643.55 L518.7,1652.99 L519.4,1659.19 L520.1,1652.91 L520.8,1660.66 L521.5,1661.31 L522.2,1666.31 L522.9,1664.39 L523.6,1665.76 L524.3,1669.32 L525,1671.08 L525.7,1671.07 L526.4,1672.3 L527.1,1672.3" fill="none" stroke="#ff1c1c" stroke-width="0.9" stroke-linejoin="miter"/>
<line x1="515.8" y1="1634.1" x2="515.8" y2="1672.3" stroke="#ff2020" stroke-width="1.3" />
<line x1="402.2" y1="1468" x2="402.2" y2="1672.3" stroke="#e01818" stroke-width="1" />
<rect x="401.3" y="1458.3" width="214.1" height="214" fill="none" stroke="#222" stroke-width="1.1" />
<line x1="515.8" y1="1492.6" x2="607.6" y2="1492.6" stroke="#f53333" stroke-width="1.3" />
<line x1="515.8" y1="1487.6" x2="515.8" y2="1498.1" stroke="#f53333" stroke-width="1.3" />
<line x1="607.6" y1="1487.6" x2="607.6" y2="1498.1" stroke="#f53333" stroke-width="1.3" />
<text x="515.3" y="1480.1" font-size="11.2" text-anchor="start" fill="#f03030" >P2(2.50%)</text>
<text x="501.85" y="1453.3" font-size="11" text-anchor="middle" fill="#222" >sh-BMAL1 : P1</text>
<line x1="397.3" y1="1672.3" x2="401.3" y2="1672.3" stroke="#222" stroke-width="0.9" />
<line x1="398.7" y1="1654.3" x2="401.3" y2="1654.3" stroke="#222" stroke-width="0.9" />
<line x1="398.7" y1="1636.3" x2="401.3" y2="1636.3" stroke="#222" stroke-width="0.9" />
<line x1="398.7" y1="1618.3" x2="401.3" y2="1618.3" stroke="#222" stroke-width="0.9" />
<line x1="398.7" y1="1600.3" x2="401.3" y2="1600.3" stroke="#222" stroke-width="0.9" />
<line x1="397.3" y1="1582.3" x2="401.3" y2="1582.3" stroke="#222" stroke-width="0.9" />
<line x1="398.7" y1="1564.3" x2="401.3" y2="1564.3" stroke="#222" stroke-width="0.9" />
<line x1="398.7" y1="1546.3" x2="401.3" y2="1546.3" stroke="#222" stroke-width="0.9" />
<line x1="398.7" y1="1528.3" x2="401.3" y2="1528.3" stroke="#222" stroke-width="0.9" />
<line x1="398.7" y1="1510.3" x2="401.3" y2="1510.3" stroke="#222" stroke-width="0.9" />
<line x1="397.3" y1="1492.3" x2="401.3" y2="1492.3" stroke="#222" stroke-width="0.9" />
<line x1="398.7" y1="1474.3" x2="401.3" y2="1474.3" stroke="#222" stroke-width="0.9" />
<text transform="translate(391.8,1672.3) rotate(-90)" font-size="11" text-anchor="middle" fill="#222" >0</text>
<text transform="translate(391.8,1582.3) rotate(-90)" font-size="11" text-anchor="middle" fill="#222" >100</text>
<text transform="translate(391.8,1492.3) rotate(-90)" font-size="11" text-anchor="middle" fill="#222" >200</text>
<text transform="translate(376.3,1569.3) rotate(-90)" font-size="11" text-anchor="middle" fill="#222" >Count</text>
<line x1="401.32" y1="1672.3" x2="401.32" y2="1675.1" stroke="#222" stroke-width="0.9" />
<line x1="405.26" y1="1672.3" x2="405.26" y2="1675.1" stroke="#222" stroke-width="0.9" />
<line x1="408.59" y1="1672.3" x2="408.59" y2="1675.1" stroke="#222" stroke-width="0.9" />
<line x1="411.48" y1="1672.3" x2="411.48" y2="1675.1" stroke="#222" stroke-width="0.9" />
<line x1="414.02" y1="1672.3" x2="414.02" y2="1675.1" stroke="#222" stroke-width="0.9" />
<line x1="416.3" y1="1672.3" x2="416.3" y2="1677.3" stroke="#222" stroke-width="0.9" />
<line x1="431.28" y1="1672.3" x2="431.28" y2="1675.1" stroke="#222" stroke-width="0.9" />
<line x1="440.04" y1="1672.3" x2="440.04" y2="1675.1" stroke="#222" stroke-width="0.9" />
<line x1="446.25" y1="1672.3" x2="446.25" y2="1675.1" stroke="#222" stroke-width="0.9" />
<line x1="451.07" y1="1672.3" x2="451.07" y2="1675.1" stroke="#222" stroke-width="0.9" />
<line x1="455.01" y1="1672.3" x2="455.01" y2="1675.1" stroke="#222" stroke-width="0.9" />
<line x1="458.34" y1="1672.3" x2="458.34" y2="1675.1" stroke="#222" stroke-width="0.9" />
<line x1="461.23" y1="1672.3" x2="461.23" y2="1675.1" stroke="#222" stroke-width="0.9" />
<line x1="463.77" y1="1672.3" x2="463.77" y2="1675.1" stroke="#222" stroke-width="0.9" />
<line x1="466.05" y1="1672.3" x2="466.05" y2="1677.3" stroke="#222" stroke-width="0.9" />
<line x1="481.03" y1="1672.3" x2="481.03" y2="1675.1" stroke="#222" stroke-width="0.9" />
<line x1="489.79" y1="1672.3" x2="489.79" y2="1675.1" stroke="#222" stroke-width="0.9" />
<line x1="496" y1="1672.3" x2="496" y2="1675.1" stroke="#222" stroke-width="0.9" />
<line x1="500.82" y1="1672.3" x2="500.82" y2="1675.1" stroke="#222" stroke-width="0.9" />
<line x1="504.76" y1="1672.3" x2="504.76" y2="1675.1" stroke="#222" stroke-width="0.9" />
<line x1="508.09" y1="1672.3" x2="508.09" y2="1675.1" stroke="#222" stroke-width="0.9" />
<line x1="510.98" y1="1672.3" x2="510.98" y2="1675.1" stroke="#222" stroke-width="0.9" />
<line x1="513.52" y1="1672.3" x2="513.52" y2="1675.1" stroke="#222" stroke-width="0.9" />
<line x1="515.8" y1="1672.3" x2="515.8" y2="1677.3" stroke="#222" stroke-width="0.9" />
<line x1="530.78" y1="1672.3" x2="530.78" y2="1675.1" stroke="#222" stroke-width="0.9" />
<line x1="539.54" y1="1672.3" x2="539.54" y2="1675.1" stroke="#222" stroke-width="0.9" />
<line x1="545.75" y1="1672.3" x2="545.75" y2="1675.1" stroke="#222" stroke-width="0.9" />
<line x1="550.57" y1="1672.3" x2="550.57" y2="1675.1" stroke="#222" stroke-width="0.9" />
<line x1="554.51" y1="1672.3" x2="554.51" y2="1675.1" stroke="#222" stroke-width="0.9" />
<line x1="557.84" y1="1672.3" x2="557.84" y2="1675.1" stroke="#222" stroke-width="0.9" />
<line x1="560.73" y1="1672.3" x2="560.73" y2="1675.1" stroke="#222" stroke-width="0.9" />
<line x1="563.27" y1="1672.3" x2="563.27" y2="1675.1" stroke="#222" stroke-width="0.9" />
<line x1="565.55" y1="1672.3" x2="565.55" y2="1677.3" stroke="#222" stroke-width="0.9" />
<line x1="580.53" y1="1672.3" x2="580.53" y2="1675.1" stroke="#222" stroke-width="0.9" />
<line x1="589.29" y1="1672.3" x2="589.29" y2="1675.1" stroke="#222" stroke-width="0.9" />
<line x1="595.5" y1="1672.3" x2="595.5" y2="1675.1" stroke="#222" stroke-width="0.9" />
<line x1="600.32" y1="1672.3" x2="600.32" y2="1675.1" stroke="#222" stroke-width="0.9" />
<line x1="604.26" y1="1672.3" x2="604.26" y2="1675.1" stroke="#222" stroke-width="0.9" />
<line x1="607.59" y1="1672.3" x2="607.59" y2="1675.1" stroke="#222" stroke-width="0.9" />
<line x1="610.48" y1="1672.3" x2="610.48" y2="1675.1" stroke="#222" stroke-width="0.9" />
<line x1="613.02" y1="1672.3" x2="613.02" y2="1675.1" stroke="#222" stroke-width="0.9" />
<line x1="615.3" y1="1672.3" x2="615.3" y2="1677.3" stroke="#222" stroke-width="0.9" />
<text x="415.1" y="1690.6" font-size="11" text-anchor="middle" fill="#222" >10<tspan font-size="7.5" dy="-4.2">1</tspan></text>
<text x="464.85" y="1690.6" font-size="11" text-anchor="middle" fill="#222" >10<tspan font-size="7.5" dy="-4.2">2</tspan></text>
<text x="514.6" y="1690.6" font-size="11" text-anchor="middle" fill="#222" >10<tspan font-size="7.5" dy="-4.2">3</tspan></text>
<text x="564.35" y="1690.6" font-size="11" text-anchor="middle" fill="#222" >10<tspan font-size="7.5" dy="-4.2">4</tspan></text>
<text x="614.1" y="1690.6" font-size="11" text-anchor="middle" fill="#222" >10<tspan font-size="7.5" dy="-4.2">5</tspan></text>
<text x="508.35" y="1705.3" font-size="11" text-anchor="middle" fill="#222" >CD206 APC-A</text>
<clipPath id="cl22a"><rect x="672.9" y="1418.3" width="114.7" height="254"/></clipPath>
<clipPath id="cl22b"><rect x="787.6" y="1418.3" width="99.7" height="254"/></clipPath>
<path d="M673.9,1672.3 L674.1,1671.87 L674.8,1672.3 L675.5,1671.46 L676.2,1671.47 L676.9,1671.98 L677.6,1670.21 L678.3,1671.06 L679,1672.3 L679.7,1670.5 L680.4,1671.59 L681.1,1671.49 L681.8,1670.51 L682.5,1671.73 L683.2,1672.3 L683.9,1672.3 L684.6,1672.3 L685.3,1671.55 L686,1672.3 L686.7,1671.32 L687.4,1672.3 L688.1,1669.8 L688.8,1671.46 L689.5,1672.3 L690.2,1671.09 L690.9,1672.3 L691.6,1670.9 L692.3,1672.3 L693,1672.08 L693.7,1668.88 L694.4,1669.96 L695.1,1672.3 L695.8,1670.36 L696.5,1672.09 L697.2,1671.41 L697.9,1672.3 L698.6,1671.93 L699.3,1671.39 L700,1671.06 L700.7,1671.7 L701.4,1671.74 L702.1,1669.56 L702.8,1672.3 L703.5,1672.28 L704.2,1670.47 L704.9,1670.41 L705.6,1671.84 L706.3,1671.63 L707,1667.81 L707.7,1669.49 L708.4,1669.73 L709.1,1670 L709.8,1668.5 L710.5,1669.24 L711.2,1668.55 L711.9,1668 L712.6,1667.9 L713.3,1667.95 L714,1667.09 L714.7,1667.78 L715.4,1666.44 L716.1,1667.62 L716.8,1668.17 L717.5,1666.31 L718.2,1667.13 L718.9,1667.22 L719.6,1670.17 L720.3,1666.71 L721,1665.17 L721.7,1664.25 L722.4,1662.73 L723.1,1666.72 L723.8,1666.14 L724.5,1662.94 L725.2,1665.67 L725.9,1665.3 L726.6,1662.76 L727.3,1662.71 L728,1667.98 L728.7,1662.66 L729.4,1660.41 L730.1,1666.66 L730.8,1659.79 L731.5,1663.17 L732.2,1661.11 L732.9,1663.65 L733.6,1666.16 L734.3,1665.69 L735,1658 L735.7,1661.54 L736.4,1661.73 L737.1,1659.49 L737.8,1656.09 L738.5,1664.18 L739.2,1660.38 L739.9,1657.49 L740.6,1657.35 L741.3,1653.94 L742,1660.46 L742.7,1652.63 L743.4,1650.02 L744.1,1656.46 L744.8,1649.35 L745.5,1643.08 L746.2,1651.62 L746.9,1647.71 L747.6,1653.32 L748.3,1647.55 L749,1645.58 L749.7,1642.83 L750.4,1644.47 L751.1,1643.94 L751.8,1638.44 L752.5,1642.94 L753.2,1630.11 L753.9,1626.19 L754.6,1636.87 L755.3,1632.79 L756,1627.75 L756.7,1621.76 L757.4,1619.77 L758.1,1615.22 L758.8,1613.01 L759.5,1609.81 L760.2,1609.35 L760.9,1613.83 L761.6,1606.44 L762.3,1600.24 L763,1608.16 L763.7,1594.89 L764.4,1594.16 L765.1,1590.62 L765.8,1592.59 L766.5,1586.3 L767.2,1583.41 L767.9,1580.37 L768.6,1568.81 L769.3,1571.5 L770,1556.62 L770.7,1570.15 L771.4,1542.73 L772.1,1547.35 L772.8,1525.76 L773.5,1546.44 L774.2,1531.63 L774.9,1523.13 L775.6,1507.87 L776.3,1528.3 L777,1490.1 L777.7,1504.87 L778.4,1490.01 L779.1,1501.26 L779.8,1481.01 L780.5,1495.27 L781.2,1499.36 L781.9,1500.69 L782.6,1505.78 L783.3,1493.19 L784,1491.21 L784.7,1505.49 L785.4,1511.55 L786.1,1512.26 L786.8,1519.97 L787.5,1540.39 L788.2,1531.48 L788.9,1542.12 L789.6,1534.97 L790.3,1550.37 L791,1568.59 L791.7,1571.82 L792.4,1569.62 L793.1,1582.19 L793.8,1596.1 L794.5,1590.06 L795.2,1594.13 L795.9,1602.95 L796.6,1620.06 L797.3,1611.17 L798,1630.58 L798.7,1628.14 L799.4,1636.98 L800.1,1646.66 L800.8,1645.71 L801.5,1653.05 L802.2,1651.98 L802.9,1657.65 L803.6,1664.9 L804.3,1665.31 L805,1664.97 L805.7,1671.65 L806.4,1672.3 L807.1,1672.3 L807.1,1672.3 Z" fill="#f07b81" clip-path="url(#cl22a)"/>
<path d="M673.9,1672.3 L674.1,1671.87 L674.8,1672.3 L675.5,1671.46 L676.2,1671.47 L676.9,1671.98 L677.6,1670.21 L678.3,1671.06 L679,1672.3 L679.7,1670.5 L680.4,1671.59 L681.1,1671.49 L681.8,1670.51 L682.5,1671.73 L683.2,1672.3 L683.9,1672.3 L684.6,1672.3 L685.3,1671.55 L686,1672.3 L686.7,1671.32 L687.4,1672.3 L688.1,1669.8 L688.8,1671.46 L689.5,1672.3 L690.2,1671.09 L690.9,1672.3 L691.6,1670.9 L692.3,1672.3 L693,1672.08 L693.7,1668.88 L694.4,1669.96 L695.1,1672.3 L695.8,1670.36 L696.5,1672.09 L697.2,1671.41 L697.9,1672.3 L698.6,1671.93 L699.3,1671.39 L700,1671.06 L700.7,1671.7 L701.4,1671.74 L702.1,1669.56 L702.8,1672.3 L703.5,1672.28 L704.2,1670.47 L704.9,1670.41 L705.6,1671.84 L706.3,1671.63 L707,1667.81 L707.7,1669.49 L708.4,1669.73 L709.1,1670 L709.8,1668.5 L710.5,1669.24 L711.2,1668.55 L711.9,1668 L712.6,1667.9 L713.3,1667.95 L714,1667.09 L714.7,1667.78 L715.4,1666.44 L716.1,1667.62 L716.8,1668.17 L717.5,1666.31 L718.2,1667.13 L718.9,1667.22 L719.6,1670.17 L720.3,1666.71 L721,1665.17 L721.7,1664.25 L722.4,1662.73 L723.1,1666.72 L723.8,1666.14 L724.5,1662.94 L725.2,1665.67 L725.9,1665.3 L726.6,1662.76 L727.3,1662.71 L728,1667.98 L728.7,1662.66 L729.4,1660.41 L730.1,1666.66 L730.8,1659.79 L731.5,1663.17 L732.2,1661.11 L732.9,1663.65 L733.6,1666.16 L734.3,1665.69 L735,1658 L735.7,1661.54 L736.4,1661.73 L737.1,1659.49 L737.8,1656.09 L738.5,1664.18 L739.2,1660.38 L739.9,1657.49 L740.6,1657.35 L741.3,1653.94 L742,1660.46 L742.7,1652.63 L743.4,1650.02 L744.1,1656.46 L744.8,1649.35 L745.5,1643.08 L746.2,1651.62 L746.9,1647.71 L747.6,1653.32 L748.3,1647.55 L749,1645.58 L749.7,1642.83 L750.4,1644.47 L751.1,1643.94 L751.8,1638.44 L752.5,1642.94 L753.2,1630.11 L753.9,1626.19 L754.6,1636.87 L755.3,1632.79 L756,1627.75 L756.7,1621.76 L757.4,1619.77 L758.1,1615.22 L758.8,1613.01 L759.5,1609.81 L760.2,1609.35 L760.9,1613.83 L761.6,1606.44 L762.3,1600.24 L763,1608.16 L763.7,1594.89 L764.4,1594.16 L765.1,1590.62 L765.8,1592.59 L766.5,1586.3 L767.2,1583.41 L767.9,1580.37 L768.6,1568.81 L769.3,1571.5 L770,1556.62 L770.7,1570.15 L771.4,1542.73 L772.1,1547.35 L772.8,1525.76 L773.5,1546.44 L774.2,1531.63 L774.9,1523.13 L775.6,1507.87 L776.3,1528.3 L777,1490.1 L777.7,1504.87 L778.4,1490.01 L779.1,1501.26 L779.8,1481.01 L780.5,1495.27 L781.2,1499.36 L781.9,1500.69 L782.6,1505.78 L783.3,1493.19 L784,1491.21 L784.7,1505.49 L785.4,1511.55 L786.1,1512.26 L786.8,1519.97 L787.5,1540.39 L788.2,1531.48 L788.9,1542.12 L789.6,1534.97 L790.3,1550.37 L791,1568.59 L791.7,1571.82 L792.4,1569.62 L793.1,1582.19 L793.8,1596.1 L794.5,1590.06 L795.2,1594.13 L795.9,1602.95 L796.6,1620.06 L797.3,1611.17 L798,1630.58 L798.7,1628.14 L799.4,1636.98 L800.1,1646.66 L800.8,1645.71 L801.5,1653.05 L802.2,1651.98 L802.9,1657.65 L803.6,1664.9 L804.3,1665.31 L805,1664.97 L805.7,1671.65 L806.4,1672.3 L807.1,1672.3 L807.1,1672.3 Z" fill="#f83a3f" clip-path="url(#cl22b)"/>
<path d="M673.9,1672.3 L674.1,1671.87 L674.8,1672.3 L675.5,1671.46 L676.2,1671.47 L676.9,1671.98 L677.6,1670.21 L678.3,1671.06 L679,1672.3 L679.7,1670.5 L680.4,1671.59 L681.1,1671.49 L681.8,1670.51 L682.5,1671.73 L683.2,1672.3 L683.9,1672.3 L684.6,1672.3 L685.3,1671.55 L686,1672.3 L686.7,1671.32 L687.4,1672.3 L688.1,1669.8 L688.8,1671.46 L689.5,1672.3 L690.2,1671.09 L690.9,1672.3 L691.6,1670.9 L692.3,1672.3 L693,1672.08 L693.7,1668.88 L694.4,1669.96 L695.1,1672.3 L695.8,1670.36 L696.5,1672.09 L697.2,1671.41 L697.9,1672.3 L698.6,1671.93 L699.3,1671.39 L700,1671.06 L700.7,1671.7 L701.4,1671.74 L702.1,1669.56 L702.8,1672.3 L703.5,1672.28 L704.2,1670.47 L704.9,1670.41 L705.6,1671.84 L706.3,1671.63 L707,1667.81 L707.7,1669.49 L708.4,1669.73 L709.1,1670 L709.8,1668.5 L710.5,1669.24 L711.2,1668.55 L711.9,1668 L712.6,1667.9 L713.3,1667.95 L714,1667.09 L714.7,1667.78 L715.4,1666.44 L716.1,1667.62 L716.8,1668.17 L717.5,1666.31 L718.2,1667.13 L718.9,1667.22 L719.6,1670.17 L720.3,1666.71 L721,1665.17 L721.7,1664.25 L722.4,1662.73 L723.1,1666.72 L723.8,1666.14 L724.5,1662.94 L725.2,1665.67 L725.9,1665.3 L726.6,1662.76 L727.3,1662.71 L728,1667.98 L728.7,1662.66 L729.4,1660.41 L730.1,1666.66 L730.8,1659.79 L731.5,1663.17 L732.2,1661.11 L732.9,1663.65 L733.6,1666.16 L734.3,1665.69 L735,1658 L735.7,1661.54 L736.4,1661.73 L737.1,1659.49 L737.8,1656.09 L738.5,1664.18 L739.2,1660.38 L739.9,1657.49 L740.6,1657.35 L741.3,1653.94 L742,1660.46 L742.7,1652.63 L743.4,1650.02 L744.1,1656.46 L744.8,1649.35 L745.5,1643.08 L746.2,1651.62 L746.9,1647.71 L747.6,1653.32 L748.3,1647.55 L749,1645.58 L749.7,1642.83 L750.4,1644.47 L751.1,1643.94 L751.8,1638.44 L752.5,1642.94 L753.2,1630.11 L753.9,1626.19 L754.6,1636.87 L755.3,1632.79 L756,1627.75 L756.7,1621.76 L757.4,1619.77 L758.1,1615.22 L758.8,1613.01 L759.5,1609.81 L760.2,1609.35 L760.9,1613.83 L761.6,1606.44 L762.3,1600.24 L763,1608.16 L763.7,1594.89 L764.4,1594.16 L765.1,1590.62 L765.8,1592.59 L766.5,1586.3 L767.2,1583.41 L767.9,1580.37 L768.6,1568.81 L769.3,1571.5 L770,1556.62 L770.7,1570.15 L771.4,1542.73 L772.1,1547.35 L772.8,1525.76 L773.5,1546.44 L774.2,1531.63 L774.9,1523.13 L775.6,1507.87 L776.3,1528.3 L777,1490.1 L777.7,1504.87 L778.4,1490.01 L779.1,1501.26 L779.8,1481.01 L780.5,1495.27 L781.2,1499.36 L781.9,1500.69 L782.6,1505.78 L783.3,1493.19 L784,1491.21 L784.7,1505.49 L785.4,1511.55 L786.1,1512.26 L786.8,1519.97 L787.5,1540.39 L788.2,1531.48 L788.9,1542.12 L789.6,1534.97 L790.3,1550.37 L791,1568.59 L791.7,1571.82 L792.4,1569.62 L793.1,1582.19 L793.8,1596.1 L794.5,1590.06 L795.2,1594.13 L795.9,1602.95 L796.6,1620.06 L797.3,1611.17 L798,1630.58 L798.7,1628.14 L799.4,1636.98 L800.1,1646.66 L800.8,1645.71 L801.5,1653.05 L802.2,1651.98 L802.9,1657.65 L803.6,1664.9 L804.3,1665.31 L805,1664.97 L805.7,1671.65 L806.4,1672.3 L807.1,1672.3" fill="none" stroke="#ff1c1c" stroke-width="0.9" stroke-linejoin="miter"/>
<line x1="787.6" y1="1531.48" x2="787.6" y2="1672.3" stroke="#ff2020" stroke-width="1.3" />
<line x1="673.8" y1="1468" x2="673.8" y2="1672.3" stroke="#e01818" stroke-width="1" />
<rect x="672.9" y="1458.3" width="214.4" height="214" fill="none" stroke="#222" stroke-width="1.1" />
<line x1="787.6" y1="1492.6" x2="879.9" y2="1492.6" stroke="#f53333" stroke-width="1.3" />
<line x1="787.6" y1="1487.6" x2="787.6" y2="1498.1" stroke="#f53333" stroke-width="1.3" />
<line x1="879.9" y1="1487.6" x2="879.9" y2="1498.1" stroke="#f53333" stroke-width="1.3" />
<text x="787.1" y="1480.1" font-size="11.2" text-anchor="start" fill="#f03030" >P2(18.30%)</text>
<text x="773.6" y="1453.3" font-size="11" text-anchor="middle" fill="#222" >shNC+NOB : P1</text>
<line x1="668.9" y1="1672.3" x2="672.9" y2="1672.3" stroke="#222" stroke-width="0.9" />
<line x1="670.3" y1="1659.44" x2="672.9" y2="1659.44" stroke="#222" stroke-width="0.9" />
<line x1="670.3" y1="1646.58" x2="672.9" y2="1646.58" stroke="#222" stroke-width="0.9" />
<line x1="670.3" y1="1633.72" x2="672.9" y2="1633.72" stroke="#222" stroke-width="0.9" />
<line x1="670.3" y1="1620.86" x2="672.9" y2="1620.86" stroke="#222" stroke-width="0.9" />
<line x1="668.9" y1="1608" x2="672.9" y2="1608" stroke="#222" stroke-width="0.9" />
<line x1="670.3" y1="1595.14" x2="672.9" y2="1595.14" stroke="#222" stroke-width="0.9" />
<line x1="670.3" y1="1582.28" x2="672.9" y2="1582.28" stroke="#222" stroke-width="0.9" />
<line x1="670.3" y1="1569.42" x2="672.9" y2="1569.42" stroke="#222" stroke-width="0.9" />
<line x1="670.3" y1="1556.56" x2="672.9" y2="1556.56" stroke="#222" stroke-width="0.9" />
<line x1="668.9" y1="1543.7" x2="672.9" y2="1543.7" stroke="#222" stroke-width="0.9" />
<line x1="670.3" y1="1530.84" x2="672.9" y2="1530.84" stroke="#222" stroke-width="0.9" />
<line x1="670.3" y1="1517.98" x2="672.9" y2="1517.98" stroke="#222" stroke-width="0.9" />
<line x1="670.3" y1="1505.12" x2="672.9" y2="1505.12" stroke="#222" stroke-width="0.9" />
<line x1="670.3" y1="1492.26" x2="672.9" y2="1492.26" stroke="#222" stroke-width="0.9" />
<line x1="668.9" y1="1479.4" x2="672.9" y2="1479.4" stroke="#222" stroke-width="0.9" />
<line x1="670.3" y1="1466.54" x2="672.9" y2="1466.54" stroke="#222" stroke-width="0.9" />
<text transform="translate(663.4,1672.3) rotate(-90)" font-size="11" text-anchor="middle" fill="#222" >0</text>
<text transform="translate(663.4,1608) rotate(-90)" font-size="11" text-anchor="middle" fill="#222" >100</text>
<text transform="translate(663.4,1543.7) rotate(-90)" font-size="11" text-anchor="middle" fill="#222" >200</text>
<text transform="translate(663.4,1479.4) rotate(-90)" font-size="11" text-anchor="middle" fill="#222" >300</text>
<text transform="translate(647.9,1569.3) rotate(-90)" font-size="11" text-anchor="middle" fill="#222" >Count</text>
<line x1="673.62" y1="1672.3" x2="673.62" y2="1675.1" stroke="#222" stroke-width="0.9" />
<line x1="677.56" y1="1672.3" x2="677.56" y2="1675.1" stroke="#222" stroke-width="0.9" />
<line x1="680.89" y1="1672.3" x2="680.89" y2="1675.1" stroke="#222" stroke-width="0.9" />
<line x1="683.78" y1="1672.3" x2="683.78" y2="1675.1" stroke="#222" stroke-width="0.9" />
<line x1="686.32" y1="1672.3" x2="686.32" y2="1675.1" stroke="#222" stroke-width="0.9" />
<line x1="688.6" y1="1672.3" x2="688.6" y2="1677.3" stroke="#222" stroke-width="0.9" />
<line x1="703.58" y1="1672.3" x2="703.58" y2="1675.1" stroke="#222" stroke-width="0.9" />
<line x1="712.34" y1="1672.3" x2="712.34" y2="1675.1" stroke="#222" stroke-width="0.9" />
<line x1="718.55" y1="1672.3" x2="718.55" y2="1675.1" stroke="#222" stroke-width="0.9" />
<line x1="723.37" y1="1672.3" x2="723.37" y2="1675.1" stroke="#222" stroke-width="0.9" />
<line x1="727.31" y1="1672.3" x2="727.31" y2="1675.1" stroke="#222" stroke-width="0.9" />
<line x1="730.64" y1="1672.3" x2="730.64" y2="1675.1" stroke="#222" stroke-width="0.9" />
<line x1="733.53" y1="1672.3" x2="733.53" y2="1675.1" stroke="#222" stroke-width="0.9" />
<line x1="736.07" y1="1672.3" x2="736.07" y2="1675.1" stroke="#222" stroke-width="0.9" />
<line x1="738.35" y1="1672.3" x2="738.35" y2="1677.3" stroke="#222" stroke-width="0.9" />
<line x1="753.33" y1="1672.3" x2="753.33" y2="1675.1" stroke="#222" stroke-width="0.9" />
<line x1="762.09" y1="1672.3" x2="762.09" y2="1675.1" stroke="#222" stroke-width="0.9" />
<line x1="768.3" y1="1672.3" x2="768.3" y2="1675.1" stroke="#222" stroke-width="0.9" />
<line x1="773.12" y1="1672.3" x2="773.12" y2="1675.1" stroke="#222" stroke-width="0.9" />
<line x1="777.06" y1="1672.3" x2="777.06" y2="1675.1" stroke="#222" stroke-width="0.9" />
<line x1="780.39" y1="1672.3" x2="780.39" y2="1675.1" stroke="#222" stroke-width="0.9" />
<line x1="783.28" y1="1672.3" x2="783.28" y2="1675.1" stroke="#222" stroke-width="0.9" />
<line x1="785.82" y1="1672.3" x2="785.82" y2="1675.1" stroke="#222" stroke-width="0.9" />
<line x1="788.1" y1="1672.3" x2="788.1" y2="1677.3" stroke="#222" stroke-width="0.9" />
<line x1="803.08" y1="1672.3" x2="803.08" y2="1675.1" stroke="#222" stroke-width="0.9" />
<line x1="811.84" y1="1672.3" x2="811.84" y2="1675.1" stroke="#222" stroke-width="0.9" />
<line x1="818.05" y1="1672.3" x2="818.05" y2="1675.1" stroke="#222" stroke-width="0.9" />
<line x1="822.87" y1="1672.3" x2="822.87" y2="1675.1" stroke="#222" stroke-width="0.9" />
<line x1="826.81" y1="1672.3" x2="826.81" y2="1675.1" stroke="#222" stroke-width="0.9" />
<line x1="830.14" y1="1672.3" x2="830.14" y2="1675.1" stroke="#222" stroke-width="0.9" />
<line x1="833.03" y1="1672.3" x2="833.03" y2="1675.1" stroke="#222" stroke-width="0.9" />
<line x1="835.57" y1="1672.3" x2="835.57" y2="1675.1" stroke="#222" stroke-width="0.9" />
<line x1="837.85" y1="1672.3" x2="837.85" y2="1677.3" stroke="#222" stroke-width="0.9" />
<line x1="852.83" y1="1672.3" x2="852.83" y2="1675.1" stroke="#222" stroke-width="0.9" />
<line x1="861.59" y1="1672.3" x2="861.59" y2="1675.1" stroke="#222" stroke-width="0.9" />
<line x1="867.8" y1="1672.3" x2="867.8" y2="1675.1" stroke="#222" stroke-width="0.9" />
<line x1="872.62" y1="1672.3" x2="872.62" y2="1675.1" stroke="#222" stroke-width="0.9" />
<line x1="876.56" y1="1672.3" x2="876.56" y2="1675.1" stroke="#222" stroke-width="0.9" />
<line x1="879.89" y1="1672.3" x2="879.89" y2="1675.1" stroke="#222" stroke-width="0.9" />
<line x1="882.78" y1="1672.3" x2="882.78" y2="1675.1" stroke="#222" stroke-width="0.9" />
<line x1="885.32" y1="1672.3" x2="885.32" y2="1675.1" stroke="#222" stroke-width="0.9" />
<text x="687.4" y="1690.6" font-size="11" text-anchor="middle" fill="#222" >10<tspan font-size="7.5" dy="-4.2">1</tspan></text>
<text x="737.15" y="1690.6" font-size="11" text-anchor="middle" fill="#222" >10<tspan font-size="7.5" dy="-4.2">2</tspan></text>
<text x="786.9" y="1690.6" font-size="11" text-anchor="middle" fill="#222" >10<tspan font-size="7.5" dy="-4.2">3</tspan></text>
<text x="836.65" y="1690.6" font-size="11" text-anchor="middle" fill="#222" >10<tspan font-size="7.5" dy="-4.2">4</tspan></text>
<text x="886.4" y="1690.6" font-size="11" text-anchor="middle" fill="#222" >10<tspan font-size="7.5" dy="-4.2">5</tspan></text>
<text x="780.1" y="1705.3" font-size="11" text-anchor="middle" fill="#222" >CD206 APC-A</text>
<clipPath id="cl23a"><rect x="951" y="1418.3" width="114.7" height="254"/></clipPath>
<clipPath id="cl23b"><rect x="1065.7" y="1418.3" width="99.7" height="254"/></clipPath>
<path d="M952,1672.3 L952.2,1670.31 L952.9,1672.3 L953.6,1672.3 L954.3,1672.3 L955,1671.4 L955.7,1670.62 L956.4,1671.16 L957.1,1671.46 L957.8,1672.3 L958.5,1671.48 L959.2,1672.3 L959.9,1672.17 L960.6,1672.3 L961.3,1669.34 L962,1671.55 L962.7,1671.86 L963.4,1671.17 L964.1,1672.3 L964.8,1670.32 L965.5,1669.81 L966.2,1670.32 L966.9,1669.89 L967.6,1672.3 L968.3,1671.56 L969,1670.6 L969.7,1669 L970.4,1670.21 L971.1,1669.39 L971.8,1669.51 L972.5,1670.99 L973.2,1672.3 L973.9,1671.94 L974.6,1668.01 L975.3,1669.16 L976,1666.8 L976.7,1670.09 L977.4,1666.77 L978.1,1669.58 L978.8,1670.04 L979.5,1668.35 L980.2,1667.69 L980.9,1665.06 L981.6,1667.05 L982.3,1667.33 L983,1668.01 L983.7,1669.71 L984.4,1669.89 L985.1,1667.6 L985.8,1665.8 L986.5,1669.71 L987.2,1666.52 L987.9,1670.12 L988.6,1670.41 L989.3,1665.66 L990,1666.91 L990.7,1668.08 L991.4,1670.67 L992.1,1668.4 L992.8,1664.51 L993.5,1665.18 L994.2,1668.33 L994.9,1666.64 L995.6,1663.17 L996.3,1664.92 L997,1663.55 L997.7,1665.41 L998.4,1666.24 L999.1,1662.69 L999.8,1666.87 L1000.5,1662.27 L1001.2,1664.49 L1001.9,1662.35 L1002.6,1657.89 L1003.3,1664.96 L1004,1662.58 L1004.7,1663.78 L1005.4,1661.46 L1006.1,1657.77 L1006.8,1661.53 L1007.5,1656.95 L1008.2,1660.59 L1008.9,1658.84 L1009.6,1657.22 L1010.3,1655 L1011,1654.3 L1011.7,1654.31 L1012.4,1661.8 L1013.1,1653.5 L1013.8,1655.08 L1014.5,1643.92 L1015.2,1654.49 L1015.9,1650.31 L1016.6,1648.18 L1017.3,1649.2 L1018,1651.93 L1018.7,1649.6 L1019.4,1645.71 L1020.1,1641.26 L1020.8,1643.84 L1021.5,1646.58 L1022.2,1651.47 L1022.9,1642.88 L1023.6,1640.16 L1024.3,1645.91 L1025,1638.17 L1025.7,1636.44 L1026.4,1639.63 L1027.1,1633 L1027.8,1630.08 L1028.5,1635.21 L1029.2,1630.12 L1029.9,1638.83 L1030.6,1612.96 L1031.3,1626.4 L1032,1622.08 L1032.7,1630.79 L1033.4,1619.48 L1034.1,1624.15 L1034.8,1611.44 L1035.5,1611.96 L1036.2,1616.29 L1036.9,1612.51 L1037.6,1610.3 L1038.3,1610.73 L1039,1616.5 L1039.7,1606.91 L1040.4,1603.99 L1041.1,1589.73 L1041.8,1593.62 L1042.5,1592.54 L1043.2,1593.91 L1043.9,1576.33 L1044.6,1566.37 L1045.3,1575.6 L1046,1571.14 L1046.7,1562.77 L1047.4,1570.53 L1048.1,1564.23 L1048.8,1548.63 L1049.5,1549.07 L1050.2,1552.68 L1050.9,1535.49 L1051.6,1546.45 L1052.3,1538.69 L1053,1534.63 L1053.7,1523.62 L1054.4,1524.58 L1055.1,1520.99 L1055.8,1534.75 L1056.5,1522.69 L1057.2,1499.68 L1057.9,1512.01 L1058.6,1500.23 L1059.3,1501.53 L1060,1483.52 L1060.7,1492.52 L1061.4,1515.74 L1062.1,1524.96 L1062.8,1511.5 L1063.5,1527.83 L1064.2,1532.57 L1064.9,1548.05 L1065.6,1537.08 L1066.3,1541.59 L1067,1533.97 L1067.7,1547.09 L1068.4,1578.12 L1069.1,1581.58 L1069.8,1578.63 L1070.5,1584.63 L1071.2,1611.12 L1071.9,1604.72 L1072.6,1604.88 L1073.3,1612.21 L1074,1618.19 L1074.7,1628.15 L1075.4,1628.6 L1076.1,1633.14 L1076.8,1643.15 L1077.5,1647.36 L1078.2,1653.9 L1078.9,1654.95 L1079.6,1657.55 L1080.3,1666.44 L1081,1661.88 L1081.7,1668.65 L1082.4,1665.75 L1083.1,1667.85 L1083.8,1672.3 L1084.5,1672.3 L1084.5,1672.3 Z" fill="#f07b81" clip-path="url(#cl23a)"/>
<path d="M952,1672.3 L952.2,1670.31 L952.9,1672.3 L953.6,1672.3 L954.3,1672.3 L955,1671.4 L955.7,1670.62 L956.4,1671.16 L957.1,1671.46 L957.8,1672.3 L958.5,1671.48 L959.2,1672.3 L959.9,1672.17 L960.6,1672.3 L961.3,1669.34 L962,1671.55 L962.7,1671.86 L963.4,1671.17 L964.1,1672.3 L964.8,1670.32 L965.5,1669.81 L966.2,1670.32 L966.9,1669.89 L967.6,1672.3 L968.3,1671.56 L969,1670.6 L969.7,1669 L970.4,1670.21 L971.1,1669.39 L971.8,1669.51 L972.5,1670.99 L973.2,1672.3 L973.9,1671.94 L974.6,1668.01 L975.3,1669.16 L976,1666.8 L976.7,1670.09 L977.4,1666.77 L978.1,1669.58 L978.8,1670.04 L979.5,1668.35 L980.2,1667.69 L980.9,1665.06 L981.6,1667.05 L982.3,1667.33 L983,1668.01 L983.7,1669.71 L984.4,1669.89 L985.1,1667.6 L985.8,1665.8 L986.5,1669.71 L987.2,1666.52 L987.9,1670.12 L988.6,1670.41 L989.3,1665.66 L990,1666.91 L990.7,1668.08 L991.4,1670.67 L992.1,1668.4 L992.8,1664.51 L993.5,1665.18 L994.2,1668.33 L994.9,1666.64 L995.6,1663.17 L996.3,1664.92 L997,1663.55 L997.7,1665.41 L998.4,1666.24 L999.1,1662.69 L999.8,1666.87 L1000.5,1662.27 L1001.2,1664.49 L1001.9,1662.35 L1002.6,1657.89 L1003.3,1664.96 L1004,1662.58 L1004.7,1663.78 L1005.4,1661.46 L1006.1,1657.77 L1006.8,1661.53 L1007.5,1656.95 L1008.2,1660.59 L1008.9,1658.84 L1009.6,1657.22 L1010.3,1655 L1011,1654.3 L1011.7,1654.31 L1012.4,1661.8 L1013.1,1653.5 L1013.8,1655.08 L1014.5,1643.92 L1015.2,1654.49 L1015.9,1650.31 L1016.6,1648.18 L1017.3,1649.2 L1018,1651.93 L1018.7,1649.6 L1019.4,1645.71 L1020.1,1641.26 L1020.8,1643.84 L1021.5,1646.58 L1022.2,1651.47 L1022.9,1642.88 L1023.6,1640.16 L1024.3,1645.91 L1025,1638.17 L1025.7,1636.44 L1026.4,1639.63 L1027.1,1633 L1027.8,1630.08 L1028.5,1635.21 L1029.2,1630.12 L1029.9,1638.83 L1030.6,1612.96 L1031.3,1626.4 L1032,1622.08 L1032.7,1630.79 L1033.4,1619.48 L1034.1,1624.15 L1034.8,1611.44 L1035.5,1611.96 L1036.2,1616.29 L1036.9,1612.51 L1037.6,1610.3 L1038.3,1610.73 L1039,1616.5 L1039.7,1606.91 L1040.4,1603.99 L1041.1,1589.73 L1041.8,1593.62 L1042.5,1592.54 L1043.2,1593.91 L1043.9,1576.33 L1044.6,1566.37 L1045.3,1575.6 L1046,1571.14 L1046.7,1562.77 L1047.4,1570.53 L1048.1,1564.23 L1048.8,1548.63 L1049.5,1549.07 L1050.2,1552.68 L1050.9,1535.49 L1051.6,1546.45 L1052.3,1538.69 L1053,1534.63 L1053.7,1523.62 L1054.4,1524.58 L1055.1,1520.99 L1055.8,1534.75 L1056.5,1522.69 L1057.2,1499.68 L1057.9,1512.01 L1058.6,1500.23 L1059.3,1501.53 L1060,1483.52 L1060.7,1492.52 L1061.4,1515.74 L1062.1,1524.96 L1062.8,1511.5 L1063.5,1527.83 L1064.2,1532.57 L1064.9,1548.05 L1065.6,1537.08 L1066.3,1541.59 L1067,1533.97 L1067.7,1547.09 L1068.4,1578.12 L1069.1,1581.58 L1069.8,1578.63 L1070.5,1584.63 L1071.2,1611.12 L1071.9,1604.72 L1072.6,1604.88 L1073.3,1612.21 L1074,1618.19 L1074.7,1628.15 L1075.4,1628.6 L1076.1,1633.14 L1076.8,1643.15 L1077.5,1647.36 L1078.2,1653.9 L1078.9,1654.95 L1079.6,1657.55 L1080.3,1666.44 L1081,1661.88 L1081.7,1668.65 L1082.4,1665.75 L1083.1,1667.85 L1083.8,1672.3 L1084.5,1672.3 L1084.5,1672.3 Z" fill="#f83a3f" clip-path="url(#cl23b)"/>
<path d="M952,1672.3 L952.2,1670.31 L952.9,1672.3 L953.6,1672.3 L954.3,1672.3 L955,1671.4 L955.7,1670.62 L956.4,1671.16 L957.1,1671.46 L957.8,1672.3 L958.5,1671.48 L959.2,1672.3 L959.9,1672.17 L960.6,1672.3 L961.3,1669.34 L962,1671.55 L962.7,1671.86 L963.4,1671.17 L964.1,1672.3 L964.8,1670.32 L965.5,1669.81 L966.2,1670.32 L966.9,1669.89 L967.6,1672.3 L968.3,1671.56 L969,1670.6 L969.7,1669 L970.4,1670.21 L971.1,1669.39 L971.8,1669.51 L972.5,1670.99 L973.2,1672.3 L973.9,1671.94 L974.6,1668.01 L975.3,1669.16 L976,1666.8 L976.7,1670.09 L977.4,1666.77 L978.1,1669.58 L978.8,1670.04 L979.5,1668.35 L980.2,1667.69 L980.9,1665.06 L981.6,1667.05 L982.3,1667.33 L983,1668.01 L983.7,1669.71 L984.4,1669.89 L985.1,1667.6 L985.8,1665.8 L986.5,1669.71 L987.2,1666.52 L987.9,1670.12 L988.6,1670.41 L989.3,1665.66 L990,1666.91 L990.7,1668.08 L991.4,1670.67 L992.1,1668.4 L992.8,1664.51 L993.5,1665.18 L994.2,1668.33 L994.9,1666.64 L995.6,1663.17 L996.3,1664.92 L997,1663.55 L997.7,1665.41 L998.4,1666.24 L999.1,1662.69 L999.8,1666.87 L1000.5,1662.27 L1001.2,1664.49 L1001.9,1662.35 L1002.6,1657.89 L1003.3,1664.96 L1004,1662.58 L1004.7,1663.78 L1005.4,1661.46 L1006.1,1657.77 L1006.8,1661.53 L1007.5,1656.95 L1008.2,1660.59 L1008.9,1658.84 L1009.6,1657.22 L1010.3,1655 L1011,1654.3 L1011.7,1654.31 L1012.4,1661.8 L1013.1,1653.5 L1013.8,1655.08 L1014.5,1643.92 L1015.2,1654.49 L1015.9,1650.31 L1016.6,1648.18 L1017.3,1649.2 L1018,1651.93 L1018.7,1649.6 L1019.4,1645.71 L1020.1,1641.26 L1020.8,1643.84 L1021.5,1646.58 L1022.2,1651.47 L1022.9,1642.88 L1023.6,1640.16 L1024.3,1645.91 L1025,1638.17 L1025.7,1636.44 L1026.4,1639.63 L1027.1,1633 L1027.8,1630.08 L1028.5,1635.21 L1029.2,1630.12 L1029.9,1638.83 L1030.6,1612.96 L1031.3,1626.4 L1032,1622.08 L1032.7,1630.79 L1033.4,1619.48 L1034.1,1624.15 L1034.8,1611.44 L1035.5,1611.96 L1036.2,1616.29 L1036.9,1612.51 L1037.6,1610.3 L1038.3,1610.73 L1039,1616.5 L1039.7,1606.91 L1040.4,1603.99 L1041.1,1589.73 L1041.8,1593.62 L1042.5,1592.54 L1043.2,1593.91 L1043.9,1576.33 L1044.6,1566.37 L1045.3,1575.6 L1046,1571.14 L1046.7,1562.77 L1047.4,1570.53 L1048.1,1564.23 L1048.8,1548.63 L1049.5,1549.07 L1050.2,1552.68 L1050.9,1535.49 L1051.6,1546.45 L1052.3,1538.69 L1053,1534.63 L1053.7,1523.62 L1054.4,1524.58 L1055.1,1520.99 L1055.8,1534.75 L1056.5,1522.69 L1057.2,1499.68 L1057.9,1512.01 L1058.6,1500.23 L1059.3,1501.53 L1060,1483.52 L1060.7,1492.52 L1061.4,1515.74 L1062.1,1524.96 L1062.8,1511.5 L1063.5,1527.83 L1064.2,1532.57 L1064.9,1548.05 L1065.6,1537.08 L1066.3,1541.59 L1067,1533.97 L1067.7,1547.09 L1068.4,1578.12 L1069.1,1581.58 L1069.8,1578.63 L1070.5,1584.63 L1071.2,1611.12 L1071.9,1604.72 L1072.6,1604.88 L1073.3,1612.21 L1074,1618.19 L1074.7,1628.15 L1075.4,1628.6 L1076.1,1633.14 L1076.8,1643.15 L1077.5,1647.36 L1078.2,1653.9 L1078.9,1654.95 L1079.6,1657.55 L1080.3,1666.44 L1081,1661.88 L1081.7,1668.65 L1082.4,1665.75 L1083.1,1667.85 L1083.8,1672.3 L1084.5,1672.3" fill="none" stroke="#ff1c1c" stroke-width="0.9" stroke-linejoin="miter"/>
<line x1="1065.7" y1="1541.59" x2="1065.7" y2="1672.3" stroke="#ff2020" stroke-width="1.3" />
<line x1="951.9" y1="1468" x2="951.9" y2="1672.3" stroke="#e01818" stroke-width="1" />
<rect x="951" y="1458.3" width="214.4" height="214" fill="none" stroke="#222" stroke-width="1.1" />
<line x1="1065.7" y1="1492.6" x2="1157.3" y2="1492.6" stroke="#f53333" stroke-width="1.3" />
<line x1="1065.7" y1="1487.6" x2="1065.7" y2="1498.1" stroke="#f53333" stroke-width="1.3" />
<line x1="1157.3" y1="1487.6" x2="1157.3" y2="1498.1" stroke="#f53333" stroke-width="1.3" />
<text x="1065.2" y="1480.1" font-size="11.2" text-anchor="start" fill="#f03030" >P2(13.32%)</text>
<text x="1051.7" y="1453.3" font-size="11" text-anchor="middle" fill="#222" >shBMAL1+NOB : P1</text>
<line x1="947" y1="1672.3" x2="951" y2="1672.3" stroke="#222" stroke-width="0.9" />
<line x1="948.4" y1="1658.8" x2="951" y2="1658.8" stroke="#222" stroke-width="0.9" />
<line x1="948.4" y1="1645.3" x2="951" y2="1645.3" stroke="#222" stroke-width="0.9" />
<line x1="948.4" y1="1631.8" x2="951" y2="1631.8" stroke="#222" stroke-width="0.9" />
<line x1="948.4" y1="1618.3" x2="951" y2="1618.3" stroke="#222" stroke-width="0.9" />
<line x1="947" y1="1604.8" x2="951" y2="1604.8" stroke="#222" stroke-width="0.9" />
<line x1="948.4" y1="1591.3" x2="951" y2="1591.3" stroke="#222" stroke-width="0.9" />
<line x1="948.4" y1="1577.8" x2="951" y2="1577.8" stroke="#222" stroke-width="0.9" />
<line x1="948.4" y1="1564.3" x2="951" y2="1564.3" stroke="#222" stroke-width="0.9" />
<line x1="948.4" y1="1550.8" x2="951" y2="1550.8" stroke="#222" stroke-width="0.9" />
<line x1="947" y1="1537.3" x2="951" y2="1537.3" stroke="#222" stroke-width="0.9" />
<line x1="948.4" y1="1523.8" x2="951" y2="1523.8" stroke="#222" stroke-width="0.9" />
<line x1="948.4" y1="1510.3" x2="951" y2="1510.3" stroke="#222" stroke-width="0.9" />
<line x1="948.4" y1="1496.8" x2="951" y2="1496.8" stroke="#222" stroke-width="0.9" />
<line x1="948.4" y1="1483.3" x2="951" y2="1483.3" stroke="#222" stroke-width="0.9" />
<line x1="947" y1="1469.8" x2="951" y2="1469.8" stroke="#222" stroke-width="0.9" />
<text transform="translate(941.5,1672.3) rotate(-90)" font-size="11" text-anchor="middle" fill="#222" >0</text>
<text transform="translate(941.5,1604.8) rotate(-90)" font-size="11" text-anchor="middle" fill="#222" >100</text>
<text transform="translate(941.5,1537.3) rotate(-90)" font-size="11" text-anchor="middle" fill="#222" >200</text>
<text transform="translate(941.5,1469.8) rotate(-90)" font-size="11" text-anchor="middle" fill="#222" >300</text>
<text transform="translate(926,1569.3) rotate(-90)" font-size="11" text-anchor="middle" fill="#222" >Count</text>
<line x1="951.82" y1="1672.3" x2="951.82" y2="1675.1" stroke="#222" stroke-width="0.9" />
<line x1="955.76" y1="1672.3" x2="955.76" y2="1675.1" stroke="#222" stroke-width="0.9" />
<line x1="959.09" y1="1672.3" x2="959.09" y2="1675.1" stroke="#222" stroke-width="0.9" />
<line x1="961.98" y1="1672.3" x2="961.98" y2="1675.1" stroke="#222" stroke-width="0.9" />
<line x1="964.52" y1="1672.3" x2="964.52" y2="1675.1" stroke="#222" stroke-width="0.9" />
<line x1="966.8" y1="1672.3" x2="966.8" y2="1677.3" stroke="#222" stroke-width="0.9" />
<line x1="981.78" y1="1672.3" x2="981.78" y2="1675.1" stroke="#222" stroke-width="0.9" />
<line x1="990.54" y1="1672.3" x2="990.54" y2="1675.1" stroke="#222" stroke-width="0.9" />
<line x1="996.75" y1="1672.3" x2="996.75" y2="1675.1" stroke="#222" stroke-width="0.9" />
<line x1="1001.57" y1="1672.3" x2="1001.57" y2="1675.1" stroke="#222" stroke-width="0.9" />
<line x1="1005.51" y1="1672.3" x2="1005.51" y2="1675.1" stroke="#222" stroke-width="0.9" />
<line x1="1008.84" y1="1672.3" x2="1008.84" y2="1675.1" stroke="#222" stroke-width="0.9" />
<line x1="1011.73" y1="1672.3" x2="1011.73" y2="1675.1" stroke="#222" stroke-width="0.9" />
<line x1="1014.27" y1="1672.3" x2="1014.27" y2="1675.1" stroke="#222" stroke-width="0.9" />
<line x1="1016.55" y1="1672.3" x2="1016.55" y2="1677.3" stroke="#222" stroke-width="0.9" />
<line x1="1031.53" y1="1672.3" x2="1031.53" y2="1675.1" stroke="#222" stroke-width="0.9" />
<line x1="1040.29" y1="1672.3" x2="1040.29" y2="1675.1" stroke="#222" stroke-width="0.9" />
<line x1="1046.5" y1="1672.3" x2="1046.5" y2="1675.1" stroke="#222" stroke-width="0.9" />
<line x1="1051.32" y1="1672.3" x2="1051.32" y2="1675.1" stroke="#222" stroke-width="0.9" />
<line x1="1055.26" y1="1672.3" x2="1055.26" y2="1675.1" stroke="#222" stroke-width="0.9" />
<line x1="1058.59" y1="1672.3" x2="1058.59" y2="1675.1" stroke="#222" stroke-width="0.9" />
<line x1="1061.48" y1="1672.3" x2="1061.48" y2="1675.1" stroke="#222" stroke-width="0.9" />
<line x1="1064.02" y1="1672.3" x2="1064.02" y2="1675.1" stroke="#222" stroke-width="0.9" />
<line x1="1066.3" y1="1672.3" x2="1066.3" y2="1677.3" stroke="#222" stroke-width="0.9" />
<line x1="1081.28" y1="1672.3" x2="1081.28" y2="1675.1" stroke="#222" stroke-width="0.9" />
<line x1="1090.04" y1="1672.3" x2="1090.04" y2="1675.1" stroke="#222" stroke-width="0.9" />
<line x1="1096.25" y1="1672.3" x2="1096.25" y2="1675.1" stroke="#222" stroke-width="0.9" />
<line x1="1101.07" y1="1672.3" x2="1101.07" y2="1675.1" stroke="#222" stroke-width="0.9" />
<line x1="1105.01" y1="1672.3" x2="1105.01" y2="1675.1" stroke="#222" stroke-width="0.9" />
<line x1="1108.34" y1="1672.3" x2="1108.34" y2="1675.1" stroke="#222" stroke-width="0.9" />
<line x1="1111.23" y1="1672.3" x2="1111.23" y2="1675.1" stroke="#222" stroke-width="0.9" />
<line x1="1113.77" y1="1672.3" x2="1113.77" y2="1675.1" stroke="#222" stroke-width="0.9" />
<line x1="1116.05" y1="1672.3" x2="1116.05" y2="1677.3" stroke="#222" stroke-width="0.9" />
<line x1="1131.03" y1="1672.3" x2="1131.03" y2="1675.1" stroke="#222" stroke-width="0.9" />
<line x1="1139.79" y1="1672.3" x2="1139.79" y2="1675.1" stroke="#222" stroke-width="0.9" />
<line x1="1146" y1="1672.3" x2="1146" y2="1675.1" stroke="#222" stroke-width="0.9" />
<line x1="1150.82" y1="1672.3" x2="1150.82" y2="1675.1" stroke="#222" stroke-width="0.9" />
<line x1="1154.76" y1="1672.3" x2="1154.76" y2="1675.1" stroke="#222" stroke-width="0.9" />
<line x1="1158.09" y1="1672.3" x2="1158.09" y2="1675.1" stroke="#222" stroke-width="0.9" />
<line x1="1160.98" y1="1672.3" x2="1160.98" y2="1675.1" stroke="#222" stroke-width="0.9" />
<line x1="1163.52" y1="1672.3" x2="1163.52" y2="1675.1" stroke="#222" stroke-width="0.9" />
<text x="965.6" y="1690.6" font-size="11" text-anchor="middle" fill="#222" >10<tspan font-size="7.5" dy="-4.2">1</tspan></text>
<text x="1015.35" y="1690.6" font-size="11" text-anchor="middle" fill="#222" >10<tspan font-size="7.5" dy="-4.2">2</tspan></text>
<text x="1065.1" y="1690.6" font-size="11" text-anchor="middle" fill="#222" >10<tspan font-size="7.5" dy="-4.2">3</tspan></text>
<text x="1114.85" y="1690.6" font-size="11" text-anchor="middle" fill="#222" >10<tspan font-size="7.5" dy="-4.2">4</tspan></text>
<text x="1164.6" y="1690.6" font-size="11" text-anchor="middle" fill="#222" >10<tspan font-size="7.5" dy="-4.2">5</tspan></text>
<text x="1058.2" y="1705.3" font-size="11" text-anchor="middle" fill="#222" >CD206 APC-A</text>
<line x1="448.3" y1="1818.85" x2="448.3" y2="2052.9" stroke="#000" stroke-width="2.6" />
<line x1="438.3" y1="2051.6" x2="794.3" y2="2051.6" stroke="#000" stroke-width="2.6" />
<line x1="438.3" y1="2051.6" x2="448.3" y2="2051.6" stroke="#000" stroke-width="2.6" />
<text x="434.5" y="2057.9" font-size="17.7" text-anchor="end" fill="#000" >0</text>
<line x1="438.3" y1="2005.25" x2="448.3" y2="2005.25" stroke="#000" stroke-width="2.6" />
<text x="434.5" y="2011.55" font-size="17.7" text-anchor="end" fill="#000" >5</text>
<line x1="438.3" y1="1958.9" x2="448.3" y2="1958.9" stroke="#000" stroke-width="2.6" />
<text x="434.5" y="1965.2" font-size="17.7" text-anchor="end" fill="#000" >10</text>
<line x1="438.3" y1="1912.55" x2="448.3" y2="1912.55" stroke="#000" stroke-width="2.6" />
<text x="434.5" y="1918.85" font-size="17.7" text-anchor="end" fill="#000" >15</text>
<line x1="438.3" y1="1866.2" x2="448.3" y2="1866.2" stroke="#000" stroke-width="2.6" />
<text x="434.5" y="1872.5" font-size="17.7" text-anchor="end" fill="#000" >20</text>
<line x1="438.3" y1="1819.85" x2="448.3" y2="1819.85" stroke="#000" stroke-width="2.6" />
<text x="434.5" y="1826.15" font-size="17.7" text-anchor="end" fill="#000" >25</text>
<rect x="462.35" y="1906.91" width="23.9" height="144.69" fill="#336b69" stroke="#000" stroke-width="1.7" />
<line x1="474.3" y1="1902.17" x2="474.3" y2="1909.95" stroke="#000" stroke-width="1.7" />
<line x1="467.9" y1="1902.17" x2="480.7" y2="1902.17" stroke="#000" stroke-width="1.7" />
<line x1="467.9" y1="1909.95" x2="480.7" y2="1909.95" stroke="#000" stroke-width="1.7" />
<rect x="500.6" y="1854.07" width="23.9" height="197.53" fill="#4ea8a7" stroke="#000" stroke-width="1.7" />
<line x1="512.55" y1="1845.44" x2="512.55" y2="1861.01" stroke="#000" stroke-width="1.7" />
<line x1="506.15" y1="1845.44" x2="518.95" y2="1845.44" stroke="#000" stroke-width="1.7" />
<line x1="506.15" y1="1861.01" x2="518.95" y2="1861.01" stroke="#000" stroke-width="1.7" />
<path d="M513.5,1830.08L514.05,1823.48L511.05,1823.48L511.6,1830.08ZM512.84,1830.98L519.29,1829.47L518.36,1826.61L512.26,1829.18ZM512.84,1829.18L506.74,1826.61L505.81,1829.47L512.26,1830.98ZM511.78,1830.64L515.22,1836.3L517.64,1834.54L513.32,1829.52ZM511.78,1829.52L507.46,1834.54L509.88,1836.3L513.32,1830.64Z" fill="#000"/>
<circle cx="512.55" cy="1830.08" r="1.45" fill="#000"/>
<rect x="539.05" y="2023.9" width="23.9" height="27.7" fill="#eac253" stroke="#000" stroke-width="1.7" />
<line x1="551" y1="2019.15" x2="551" y2="2026.94" stroke="#000" stroke-width="1.7" />
<line x1="544.6" y1="2019.15" x2="557.4" y2="2019.15" stroke="#000" stroke-width="1.7" />
<line x1="544.6" y1="2026.94" x2="557.4" y2="2026.94" stroke="#000" stroke-width="1.7" />
<path d="M551.95,1993.98L552.5,1987.38L549.5,1987.38L550.05,1993.98ZM551.29,1994.88L557.74,1993.37L556.81,1990.51L550.71,1993.08ZM551.29,1993.08L545.19,1990.51L544.26,1993.37L550.71,1994.88ZM550.23,1994.54L553.67,2000.2L556.09,1998.44L551.77,1993.42ZM550.23,1993.42L545.91,1998.44L548.33,2000.2L551.77,1994.54Z" fill="#000"/>
<circle cx="551" cy="1993.98" r="1.45" fill="#000"/>
<rect x="577.45" y="1958.82" width="23.9" height="92.78" fill="#fbf2f0" stroke="#000" stroke-width="1.7" />
<line x1="589.4" y1="1951.67" x2="589.4" y2="1964.28" stroke="#000" stroke-width="1.7" />
<line x1="583" y1="1951.67" x2="595.8" y2="1951.67" stroke="#000" stroke-width="1.7" />
<line x1="583" y1="1964.28" x2="595.8" y2="1964.28" stroke="#000" stroke-width="1.7" />
<path d="M588.43,1918.58L584.84,1934.73M593.92,1918.58L590.31,1934.73M583.49,1923.58L595.41,1923.58M583.49,1929.54L595.31,1929.54" stroke="#000" stroke-width="1.68" stroke-linecap="round" fill="none"/>
<rect x="641.1" y="2009.16" width="23.9" height="42.44" fill="#336b69" stroke="#000" stroke-width="1.7" />
<line x1="653.05" y1="2001.73" x2="653.05" y2="2014.89" stroke="#000" stroke-width="1.7" />
<line x1="646.65" y1="2001.73" x2="659.45" y2="2001.73" stroke="#000" stroke-width="1.7" />
<line x1="646.65" y1="2014.89" x2="659.45" y2="2014.89" stroke="#000" stroke-width="1.7" />
<rect x="679.4" y="2031.5" width="23.9" height="20.1" fill="#4ea8a7" stroke="#000" stroke-width="1.7" />
<line x1="691.35" y1="2027.22" x2="691.35" y2="2034.08" stroke="#000" stroke-width="1.7" />
<line x1="684.95" y1="2027.22" x2="697.75" y2="2027.22" stroke="#000" stroke-width="1.7" />
<line x1="684.95" y1="2034.08" x2="697.75" y2="2034.08" stroke="#000" stroke-width="1.7" />
<path d="M692.3,2006.68L692.85,2000.08L689.85,2000.08L690.4,2006.68ZM691.64,2007.58L698.09,2006.07L697.16,2003.21L691.06,2005.78ZM691.64,2005.78L685.54,2003.21L684.61,2006.07L691.06,2007.58ZM690.58,2007.24L694.02,2012.9L696.44,2011.14L692.12,2006.12ZM690.58,2006.12L686.26,2011.14L688.68,2012.9L692.12,2007.24Z" fill="#000"/>
<circle cx="691.35" cy="2006.68" r="1.45" fill="#000"/>
<rect x="717.5" y="1874.47" width="23.9" height="177.13" fill="#eac253" stroke="#000" stroke-width="1.7" />
<line x1="729.45" y1="1864.35" x2="729.45" y2="1882.89" stroke="#000" stroke-width="1.7" />
<line x1="723.05" y1="1864.35" x2="735.85" y2="1864.35" stroke="#000" stroke-width="1.7" />
<line x1="723.05" y1="1882.89" x2="735.85" y2="1882.89" stroke="#000" stroke-width="1.7" />
<path d="M730.4,1848.88L730.95,1842.28L727.95,1842.28L728.5,1848.88ZM729.74,1849.78L736.19,1848.27L735.26,1845.41L729.16,1847.98ZM729.74,1847.98L723.64,1845.41L722.71,1848.27L729.16,1849.78ZM728.68,1849.44L732.12,1855.1L734.54,1853.34L730.22,1848.32ZM728.68,1848.32L724.36,1853.34L726.78,1855.1L730.22,1849.44Z" fill="#000"/>
<circle cx="729.45" cy="1848.88" r="1.45" fill="#000"/>
<rect x="755.85" y="1937.32" width="23.9" height="114.28" fill="#fbf2f0" stroke="#000" stroke-width="1.7" />
<line x1="767.8" y1="1928.96" x2="767.8" y2="1943.98" stroke="#000" stroke-width="1.7" />
<line x1="761.4" y1="1928.96" x2="774.2" y2="1928.96" stroke="#000" stroke-width="1.7" />
<line x1="761.4" y1="1943.98" x2="774.2" y2="1943.98" stroke="#000" stroke-width="1.7" />
<path d="M766.83,1902.78L763.24,1918.93M772.32,1902.78L768.71,1918.93M761.89,1907.78L773.81,1907.78M761.89,1913.74L773.71,1913.74" stroke="#000" stroke-width="1.68" stroke-linecap="round" fill="none"/>
<line x1="531.5" y1="2051.6" x2="531.5" y2="2061.6" stroke="#000" stroke-width="2.6" />
<text x="529.4" y="2084.5" font-size="18" text-anchor="middle" fill="#000" >CD86</text>
<line x1="710.3" y1="2051.6" x2="710.3" y2="2061.6" stroke="#000" stroke-width="2.6" />
<text x="701.8" y="2084.5" font-size="18" text-anchor="middle" fill="#000" >CD206</text>
<text transform="translate(402.5,1943.5) rotate(-90)" font-size="18" text-anchor="middle" fill="#000" >Positive Staining (%)</text>
<rect x="492.3" y="1764.4" width="26" height="12" fill="#336b69" stroke="#000" stroke-width="2" />
<text x="536" y="1776.77" font-size="17.7" text-anchor="start" fill="#000" >sh-NC</text>
<rect x="492.3" y="1800.2" width="26" height="12" fill="#4ea8a7" stroke="#000" stroke-width="2" />
<text x="536" y="1812.57" font-size="17.7" text-anchor="start" fill="#000" >sh-BMAL1</text>
<rect x="644.3" y="1764.4" width="26" height="12" fill="#eac253" stroke="#000" stroke-width="2" />
<text x="688" y="1776.77" font-size="17.7" text-anchor="start" fill="#000" >sh-NC+NOB</text>
<rect x="644.3" y="1800.2" width="26" height="12" fill="#fbf2f0" stroke="#000" stroke-width="2" />
<text x="688" y="1812.57" font-size="17.7" text-anchor="start" fill="#000" >sh-BMAL1+NOB</text>
<text x="15.4" y="2137.6" font-size="28.5" text-anchor="start" fill="#000" font-weight="bold" >E</text>
<rect x="115" y="2258.5" width="272.7" height="37.6" fill="#9c9c9c" stroke="none" stroke-width="0" />
<rect x="115" y="2305.5" width="272.7" height="36.9" fill="#9c9c9c" stroke="none" stroke-width="0" />
<rect x="115" y="2351.3" width="272.7" height="37.3" fill="#9c9c9c" stroke="none" stroke-width="0" />
<rect x="115" y="2400" width="272.7" height="37.3" fill="#9c9c9c" stroke="none" stroke-width="0" />
<rect x="134.9" y="2270.75" width="47" height="13.5" rx="6.75" fill="#000" fill-opacity="0.15" filter="url(#b3)"/>
<rect x="137.9" y="2273.75" width="41" height="7.5" rx="3.75" fill="#000" fill-opacity="0.5" filter="url(#b2)"/>
<rect x="201" y="2274.05" width="37.6" height="11.5" rx="5.75" fill="#000" fill-opacity="0.07" filter="url(#b3)"/>
<rect x="204" y="2277.05" width="31.6" height="5.5" rx="2.75" fill="#000" fill-opacity="0.22" filter="url(#b2)"/>
<rect x="259.5" y="2271.7" width="46" height="15" rx="7.5" fill="#000" fill-opacity="0.28" filter="url(#b3)"/>
<rect x="262.5" y="2274.7" width="40" height="9" rx="4.5" fill="#000" fill-opacity="0.95" filter="url(#b2)"/>
<rect x="320.4" y="2271.85" width="46" height="13.5" rx="6.75" fill="#000" fill-opacity="0.24" filter="url(#b3)"/>
<rect x="323.4" y="2274.85" width="40" height="7.5" rx="3.75" fill="#000" fill-opacity="0.8" filter="url(#b2)"/>
<rect x="134.85" y="2317.65" width="41.7" height="12.5" rx="6.25" fill="#000" fill-opacity="0.12" filter="url(#b3)"/>
<rect x="137.85" y="2320.65" width="35.7" height="6.5" rx="3.25" fill="#000" fill-opacity="0.4" filter="url(#b2)"/>
<rect x="197.6" y="2318.7" width="42" height="11" rx="5.5" fill="#000" fill-opacity="0.04" filter="url(#b3)"/>
<rect x="200.6" y="2321.7" width="36" height="5" rx="2.5" fill="#000" fill-opacity="0.13" filter="url(#b2)"/>
<rect x="257" y="2316.65" width="46" height="14.5" rx="7.25" fill="#000" fill-opacity="0.22" filter="url(#b3)"/>
<rect x="260" y="2319.65" width="40" height="8.5" rx="4.25" fill="#000" fill-opacity="0.75" filter="url(#b2)"/>
<rect x="319.1" y="2317.1" width="46" height="13" rx="6.5" fill="#000" fill-opacity="0.17" filter="url(#b3)"/>
<rect x="322.1" y="2320.1" width="40" height="7" rx="3.5" fill="#000" fill-opacity="0.58" filter="url(#b2)"/>
<rect x="132.9" y="2366" width="43" height="12" rx="6" fill="#000" fill-opacity="0.24" filter="url(#b3)"/>
<rect x="135.9" y="2369" width="37" height="6" rx="3" fill="#000" fill-opacity="0.8" filter="url(#b2)"/>
<rect x="197.6" y="2364" width="42" height="11" rx="5.5" fill="#000" fill-opacity="0.17" filter="url(#b3)"/>
<rect x="200.6" y="2367" width="36" height="5" rx="2.5" fill="#000" fill-opacity="0.55" filter="url(#b2)"/>
<rect x="257.9" y="2363.25" width="50" height="14.5" rx="7.25" fill="#000" fill-opacity="0.3" filter="url(#b3)"/>
<rect x="260.9" y="2366.25" width="44" height="8.5" rx="4.25" fill="#000" fill-opacity="1" filter="url(#b2)"/>
<rect x="322.65" y="2363.3" width="48.7" height="13" rx="6.5" fill="#000" fill-opacity="0.28" filter="url(#b3)"/>
<rect x="325.65" y="2366.3" width="42.7" height="7" rx="3.5" fill="#000" fill-opacity="0.92" filter="url(#b2)"/>
<rect x="132.8" y="2408.9" width="47.4" height="20.4" rx="10.2" fill="#000" fill-opacity="0.3" filter="url(#b3)"/>
<rect x="135.8" y="2411.9" width="41.4" height="14.4" rx="7.2" fill="#000" fill-opacity="1" filter="url(#b2)"/>
<rect x="193.1" y="2408.9" width="52.4" height="20.4" rx="10.2" fill="#000" fill-opacity="0.3" filter="url(#b3)"/>
<rect x="196.1" y="2411.9" width="46.4" height="14.4" rx="7.2" fill="#000" fill-opacity="1" filter="url(#b2)"/>
<rect x="256.9" y="2409.4" width="53.2" height="20" rx="10" fill="#000" fill-opacity="0.3" filter="url(#b3)"/>
<rect x="259.9" y="2412.4" width="47.2" height="14" rx="7" fill="#000" fill-opacity="1" filter="url(#b2)"/>
<rect x="322.65" y="2409.6" width="48.7" height="20.6" rx="10.3" fill="#000" fill-opacity="0.3" filter="url(#b3)"/>
<rect x="325.65" y="2412.6" width="42.7" height="14.6" rx="7.3" fill="#000" fill-opacity="1" filter="url(#b2)"/>
<path d="M300,2281 Q303,2286 304,2292" stroke="#000" stroke-opacity="0.6" stroke-width="2.5" fill="none" filter="url(#b2)"/>
<rect x="115" y="2258.5" width="272.7" height="37.6" fill="none" stroke="#111" stroke-width="2" />
<rect x="115" y="2305.5" width="272.7" height="36.9" fill="none" stroke="#111" stroke-width="2" />
<rect x="115" y="2351.3" width="272.7" height="37.3" fill="none" stroke="#111" stroke-width="2" />
<rect x="115" y="2400" width="272.7" height="37.3" fill="none" stroke="#111" stroke-width="2" />
<text x="103.5" y="2283.6" font-size="17.7" text-anchor="end" fill="#000" >GCLC</text>
<text x="103.5" y="2330.25" font-size="17.7" text-anchor="end" fill="#000" >GCLM</text>
<text x="103.5" y="2376.25" font-size="17.7" text-anchor="end" fill="#000" >NQO1</text>
<text x="103.5" y="2424.95" font-size="17.7" text-anchor="end" fill="#000" >&#946;-actin</text>
<text transform="translate(156.1,2246.6) rotate(-45)" font-size="18.3" text-anchor="start" fill="#000" >sh-NC</text>
<text transform="translate(210.2,2246.6) rotate(-45)" font-size="18.3" text-anchor="start" fill="#000" >sh-BMAL1</text>
<text transform="translate(274.1,2246.6) rotate(-45)" font-size="18.3" text-anchor="start" fill="#000" >sh-NC+NOB</text>
<text transform="translate(340.6,2246.6) rotate(-45)" font-size="18.3" text-anchor="start" fill="#000" >sh-BMAL1+NOB</text>
<line x1="482.6" y1="2195.7" x2="482.6" y2="2462" stroke="#000" stroke-width="2.6" />
<line x1="473.5" y1="2460.7" x2="881.7" y2="2460.7" stroke="#000" stroke-width="2.6" />
<line x1="473.1" y1="2460.7" x2="482.6" y2="2460.7" stroke="#000" stroke-width="2.6" />
<text x="467" y="2467" font-size="17.7" text-anchor="end" fill="#000" font-weight="bold" >0.0</text>
<line x1="473.1" y1="2372.7" x2="482.6" y2="2372.7" stroke="#000" stroke-width="2.6" />
<text x="467" y="2379" font-size="17.7" text-anchor="end" fill="#000" font-weight="bold" >0.2</text>
<line x1="473.1" y1="2284.7" x2="482.6" y2="2284.7" stroke="#000" stroke-width="2.6" />
<text x="467" y="2291" font-size="17.7" text-anchor="end" fill="#000" font-weight="bold" >0.4</text>
<line x1="473.1" y1="2196.7" x2="482.6" y2="2196.7" stroke="#000" stroke-width="2.6" />
<text x="467" y="2203" font-size="17.7" text-anchor="end" fill="#000" font-weight="bold" >0.6</text>
<rect x="493.85" y="2379.66" width="17" height="81.04" fill="#336b69" stroke="#000" stroke-width="1.6" />
<line x1="502.35" y1="2371.91" x2="502.35" y2="2385.81" stroke="#000" stroke-width="1.6" />
<line x1="497.6" y1="2371.91" x2="507.1" y2="2371.91" stroke="#000" stroke-width="1.6" />
<line x1="497.6" y1="2385.81" x2="507.1" y2="2385.81" stroke="#000" stroke-width="1.6" />
<rect x="522.8" y="2432.9" width="17" height="27.8" fill="#4ea8a7" stroke="#000" stroke-width="1.6" />
<line x1="531.3" y1="2425.15" x2="531.3" y2="2439.05" stroke="#000" stroke-width="1.6" />
<line x1="526.55" y1="2425.15" x2="536.05" y2="2425.15" stroke="#000" stroke-width="1.6" />
<line x1="526.55" y1="2439.05" x2="536.05" y2="2439.05" stroke="#000" stroke-width="1.6" />
<path d="M532.25,2408.98L532.8,2402.38L529.8,2402.38L530.35,2408.98ZM531.59,2409.88L538.04,2408.37L537.11,2405.51L531.01,2408.08ZM531.59,2408.08L525.49,2405.51L524.56,2408.37L531.01,2409.88ZM530.53,2409.54L533.97,2415.2L536.39,2413.44L532.07,2408.42ZM530.53,2408.42L526.21,2413.44L528.63,2415.2L532.07,2409.54Z" fill="#000"/>
<circle cx="531.3" cy="2408.98" r="1.45" fill="#000"/>
<rect x="552.5" y="2295.62" width="17" height="165.08" fill="#eac253" stroke="#000" stroke-width="1.6" />
<line x1="561" y1="2288.22" x2="561" y2="2301.42" stroke="#000" stroke-width="1.6" />
<line x1="556.25" y1="2288.22" x2="565.75" y2="2288.22" stroke="#000" stroke-width="1.6" />
<line x1="556.25" y1="2301.42" x2="565.75" y2="2301.42" stroke="#000" stroke-width="1.6" />
<path d="M561.95,2271.68L562.5,2265.08L559.5,2265.08L560.05,2271.68ZM561.29,2272.58L567.74,2271.07L566.81,2268.21L560.71,2270.78ZM561.29,2270.78L555.19,2268.21L554.26,2271.07L560.71,2272.58ZM560.23,2272.24L563.67,2277.9L566.09,2276.14L561.77,2271.12ZM560.23,2271.12L555.91,2276.14L558.33,2277.9L561.77,2272.24Z" fill="#000"/>
<circle cx="561" cy="2271.68" r="1.45" fill="#000"/>
<rect x="581.25" y="2341.38" width="17" height="119.32" fill="#fbf2f0" stroke="#000" stroke-width="1.6" />
<line x1="589.75" y1="2333.76" x2="589.75" y2="2347.4" stroke="#000" stroke-width="1.6" />
<line x1="585" y1="2333.76" x2="594.5" y2="2333.76" stroke="#000" stroke-width="1.6" />
<line x1="585" y1="2347.4" x2="594.5" y2="2347.4" stroke="#000" stroke-width="1.6" />
<path d="M588.78,2306.98L585.19,2323.13M594.27,2306.98L590.66,2323.13M583.84,2311.98L595.76,2311.98M583.84,2317.94L595.66,2317.94" stroke="#000" stroke-width="1.68" stroke-linecap="round" fill="none"/>
<rect x="629.6" y="2393.3" width="17" height="67.4" fill="#336b69" stroke="#000" stroke-width="1.6" />
<line x1="638.1" y1="2385.55" x2="638.1" y2="2399.45" stroke="#000" stroke-width="1.6" />
<line x1="633.35" y1="2385.55" x2="642.85" y2="2385.55" stroke="#000" stroke-width="1.6" />
<line x1="633.35" y1="2399.45" x2="642.85" y2="2399.45" stroke="#000" stroke-width="1.6" />
<rect x="659.05" y="2444.78" width="17" height="15.92" fill="#4ea8a7" stroke="#000" stroke-width="1.6" />
<line x1="667.55" y1="2439.01" x2="667.55" y2="2448.95" stroke="#000" stroke-width="1.6" />
<line x1="662.8" y1="2439.01" x2="672.3" y2="2439.01" stroke="#000" stroke-width="1.6" />
<line x1="662.8" y1="2448.95" x2="672.3" y2="2448.95" stroke="#000" stroke-width="1.6" />
<path d="M668.5,2422.68L669.05,2416.08L666.05,2416.08L666.6,2422.68ZM667.84,2423.58L674.29,2422.07L673.36,2419.21L667.26,2421.78ZM667.84,2421.78L661.74,2419.21L660.81,2422.07L667.26,2423.58ZM666.78,2423.24L670.22,2428.9L672.64,2427.14L668.32,2422.12ZM666.78,2422.12L662.46,2427.14L664.88,2428.9L668.32,2423.24Z" fill="#000"/>
<circle cx="667.55" cy="2422.68" r="1.45" fill="#000"/>
<rect x="688.2" y="2316.3" width="17" height="144.4" fill="#eac253" stroke="#000" stroke-width="1.6" />
<line x1="696.7" y1="2308.86" x2="696.7" y2="2322.14" stroke="#000" stroke-width="1.6" />
<line x1="691.95" y1="2308.86" x2="701.45" y2="2308.86" stroke="#000" stroke-width="1.6" />
<line x1="691.95" y1="2322.14" x2="701.45" y2="2322.14" stroke="#000" stroke-width="1.6" />
<path d="M697.65,2293.68L698.2,2287.08L695.2,2287.08L695.75,2293.68ZM696.99,2294.58L703.44,2293.07L702.51,2290.21L696.41,2292.78ZM696.99,2292.78L690.89,2290.21L689.96,2293.07L696.41,2294.58ZM695.93,2294.24L699.37,2299.9L701.79,2298.14L697.47,2293.12ZM695.93,2293.12L691.61,2298.14L694.03,2299.9L697.47,2294.24Z" fill="#000"/>
<circle cx="696.7" cy="2293.68" r="1.45" fill="#000"/>
<rect x="717.05" y="2365.14" width="17" height="95.56" fill="#fbf2f0" stroke="#000" stroke-width="1.6" />
<line x1="725.55" y1="2355.23" x2="725.55" y2="2373.45" stroke="#000" stroke-width="1.6" />
<line x1="720.8" y1="2355.23" x2="730.3" y2="2355.23" stroke="#000" stroke-width="1.6" />
<line x1="720.8" y1="2373.45" x2="730.3" y2="2373.45" stroke="#000" stroke-width="1.6" />
<path d="M724.58,2330.38L720.99,2346.53M730.07,2330.38L726.46,2346.53M719.64,2335.38L731.56,2335.38M719.64,2341.34L731.46,2341.34" stroke="#000" stroke-width="1.68" stroke-linecap="round" fill="none"/>
<rect x="765.7" y="2362.06" width="17" height="98.64" fill="#336b69" stroke="#000" stroke-width="1.6" />
<line x1="774.2" y1="2354.26" x2="774.2" y2="2368.26" stroke="#000" stroke-width="1.6" />
<line x1="769.45" y1="2354.26" x2="778.95" y2="2354.26" stroke="#000" stroke-width="1.6" />
<line x1="769.45" y1="2368.26" x2="778.95" y2="2368.26" stroke="#000" stroke-width="1.6" />
<rect x="794.5" y="2396.38" width="17" height="64.32" fill="#4ea8a7" stroke="#000" stroke-width="1.6" />
<line x1="803" y1="2386.47" x2="803" y2="2404.69" stroke="#000" stroke-width="1.6" />
<line x1="798.25" y1="2386.47" x2="807.75" y2="2386.47" stroke="#000" stroke-width="1.6" />
<line x1="798.25" y1="2404.69" x2="807.75" y2="2404.69" stroke="#000" stroke-width="1.6" />
<path d="M803.95,2372.68L804.5,2366.08L801.5,2366.08L802.05,2372.68ZM803.29,2373.58L809.74,2372.07L808.81,2369.21L802.71,2371.78ZM803.29,2371.78L797.19,2369.21L796.26,2372.07L802.71,2373.58ZM802.23,2373.24L805.67,2378.9L808.09,2377.14L803.77,2372.12ZM802.23,2372.12L797.91,2377.14L800.33,2378.9L803.77,2373.24Z" fill="#000"/>
<circle cx="803" cy="2372.68" r="1.45" fill="#000"/>
<rect x="823.3" y="2234.9" width="17" height="225.8" fill="#eac253" stroke="#000" stroke-width="1.6" />
<line x1="831.8" y1="2226.66" x2="831.8" y2="2241.54" stroke="#000" stroke-width="1.6" />
<line x1="827.05" y1="2226.66" x2="836.55" y2="2226.66" stroke="#000" stroke-width="1.6" />
<line x1="827.05" y1="2241.54" x2="836.55" y2="2241.54" stroke="#000" stroke-width="1.6" />
<path d="M832.75,2215.28L833.3,2208.68L830.3,2208.68L830.85,2215.28ZM832.09,2216.18L838.54,2214.67L837.61,2211.81L831.51,2214.38ZM832.09,2214.38L825.99,2211.81L825.06,2214.67L831.51,2216.18ZM831.03,2215.84L834.47,2221.5L836.89,2219.74L832.57,2214.72ZM831.03,2214.72L826.71,2219.74L829.13,2221.5L832.57,2215.84Z" fill="#000"/>
<circle cx="831.8" cy="2215.28" r="1.45" fill="#000"/>
<rect x="853.1" y="2295.62" width="17" height="165.08" fill="#fbf2f0" stroke="#000" stroke-width="1.6" />
<line x1="861.6" y1="2288.22" x2="861.6" y2="2301.42" stroke="#000" stroke-width="1.6" />
<line x1="856.85" y1="2288.22" x2="866.35" y2="2288.22" stroke="#000" stroke-width="1.6" />
<line x1="856.85" y1="2301.42" x2="866.35" y2="2301.42" stroke="#000" stroke-width="1.6" />
<path d="M860.63,2263.98L857.04,2280.13M866.12,2263.98L862.51,2280.13M855.69,2268.98L867.61,2268.98M855.69,2274.94L867.51,2274.94" stroke="#000" stroke-width="1.68" stroke-linecap="round" fill="none"/>
<line x1="545.6" y1="2460.7" x2="545.6" y2="2471.2" stroke="#000" stroke-width="2.6" />
<text x="552.1" y="2494.5" font-size="18" text-anchor="middle" fill="#000" >GCLC</text>
<line x1="681.2" y1="2460.7" x2="681.2" y2="2471.2" stroke="#000" stroke-width="2.6" />
<text x="679.3" y="2494.5" font-size="18" text-anchor="middle" fill="#000" >GCLM</text>
<line x1="817.3" y1="2460.7" x2="817.3" y2="2471.2" stroke="#000" stroke-width="2.6" />
<text x="818.4" y="2494.5" font-size="18" text-anchor="middle" fill="#000" >NQO1</text>
<text transform="translate(420.8,2323.6) rotate(-90)" font-size="18" text-anchor="middle" fill="#000" >Proteins / &#946;-actin</text>
<rect x="528.5" y="2155" width="26.6" height="11.8" fill="#336b69" stroke="#000" stroke-width="2" />
<text x="573.1" y="2167.27" font-size="17.7" text-anchor="start" fill="#000" >sh-NC</text>
<rect x="528.5" y="2190.3" width="26.6" height="11.8" fill="#4ea8a7" stroke="#000" stroke-width="2" />
<text x="573.1" y="2202.57" font-size="17.7" text-anchor="start" fill="#000" >sh-BMAL1</text>
<rect x="680.8" y="2155" width="26.6" height="11.8" fill="#eac253" stroke="#000" stroke-width="2" />
<text x="725.4" y="2167.27" font-size="17.7" text-anchor="start" fill="#000" >sh-NC+NOB</text>
<rect x="680.8" y="2190.3" width="26.6" height="11.8" fill="#fbf2f0" stroke="#000" stroke-width="2" />
<text x="725.4" y="2202.57" font-size="17.7" text-anchor="start" fill="#000" >sh-BMAL1+NOB</text>
<text x="877.2" y="2136.4" font-size="28.5" text-anchor="start" fill="#000" font-weight="bold" >F</text>
<rect x="962.5" y="2309.4" width="231.1" height="40.2" fill="#a5a5a5" stroke="none" stroke-width="0" />
<rect x="962.5" y="2361.2" width="231.1" height="41.2" fill="#939393" stroke="none" stroke-width="0" />
<rect x="970.3" y="2322.8" width="61" height="16" rx="8" fill="#000" fill-opacity="0.12" filter="url(#b3)"/>
<rect x="973.3" y="2325.8" width="55" height="10" rx="5" fill="#000" fill-opacity="0.4" filter="url(#b2)"/>
<rect x="1125.5" y="2321.2" width="61" height="15" rx="7.5" fill="#000" fill-opacity="0.3" filter="url(#b3)"/>
<rect x="1128.5" y="2324.2" width="55" height="9" rx="4.5" fill="#000" fill-opacity="1" filter="url(#b2)"/>
<rect x="967.3" y="2375.85" width="58" height="13.5" rx="6.75" fill="#000" fill-opacity="0.14" filter="url(#b3)"/>
<rect x="970.3" y="2378.85" width="52" height="7.5" rx="3.75" fill="#000" fill-opacity="0.45" filter="url(#b2)"/>
<rect x="1136.5" y="2376.05" width="53" height="14.5" rx="7.25" fill="#000" fill-opacity="0.14" filter="url(#b3)"/>
<rect x="1139.5" y="2379.05" width="47" height="8.5" rx="4.25" fill="#000" fill-opacity="0.48" filter="url(#b2)"/>
<rect x="962.5" y="2309.4" width="231.1" height="40.2" fill="none" stroke="#111" stroke-width="2" />
<rect x="962.5" y="2361.2" width="231.1" height="41.2" fill="none" stroke="#111" stroke-width="2" />
<text x="950.3" y="2338" font-size="17.7" text-anchor="end" fill="#000" >SIRT1</text>
<text x="950.3" y="2391.1" font-size="17.7" text-anchor="end" fill="#000" >BMAL1</text>
<text x="993.8" y="2293" font-size="17.7" text-anchor="middle" fill="#000" >Input</text>
<text x="1073" y="2293" font-size="17.7" text-anchor="middle" fill="#000" >IgG</text>
<text x="1157" y="2293" font-size="17.7" text-anchor="middle" fill="#000" >IP</text>
</svg>
</body></html>
